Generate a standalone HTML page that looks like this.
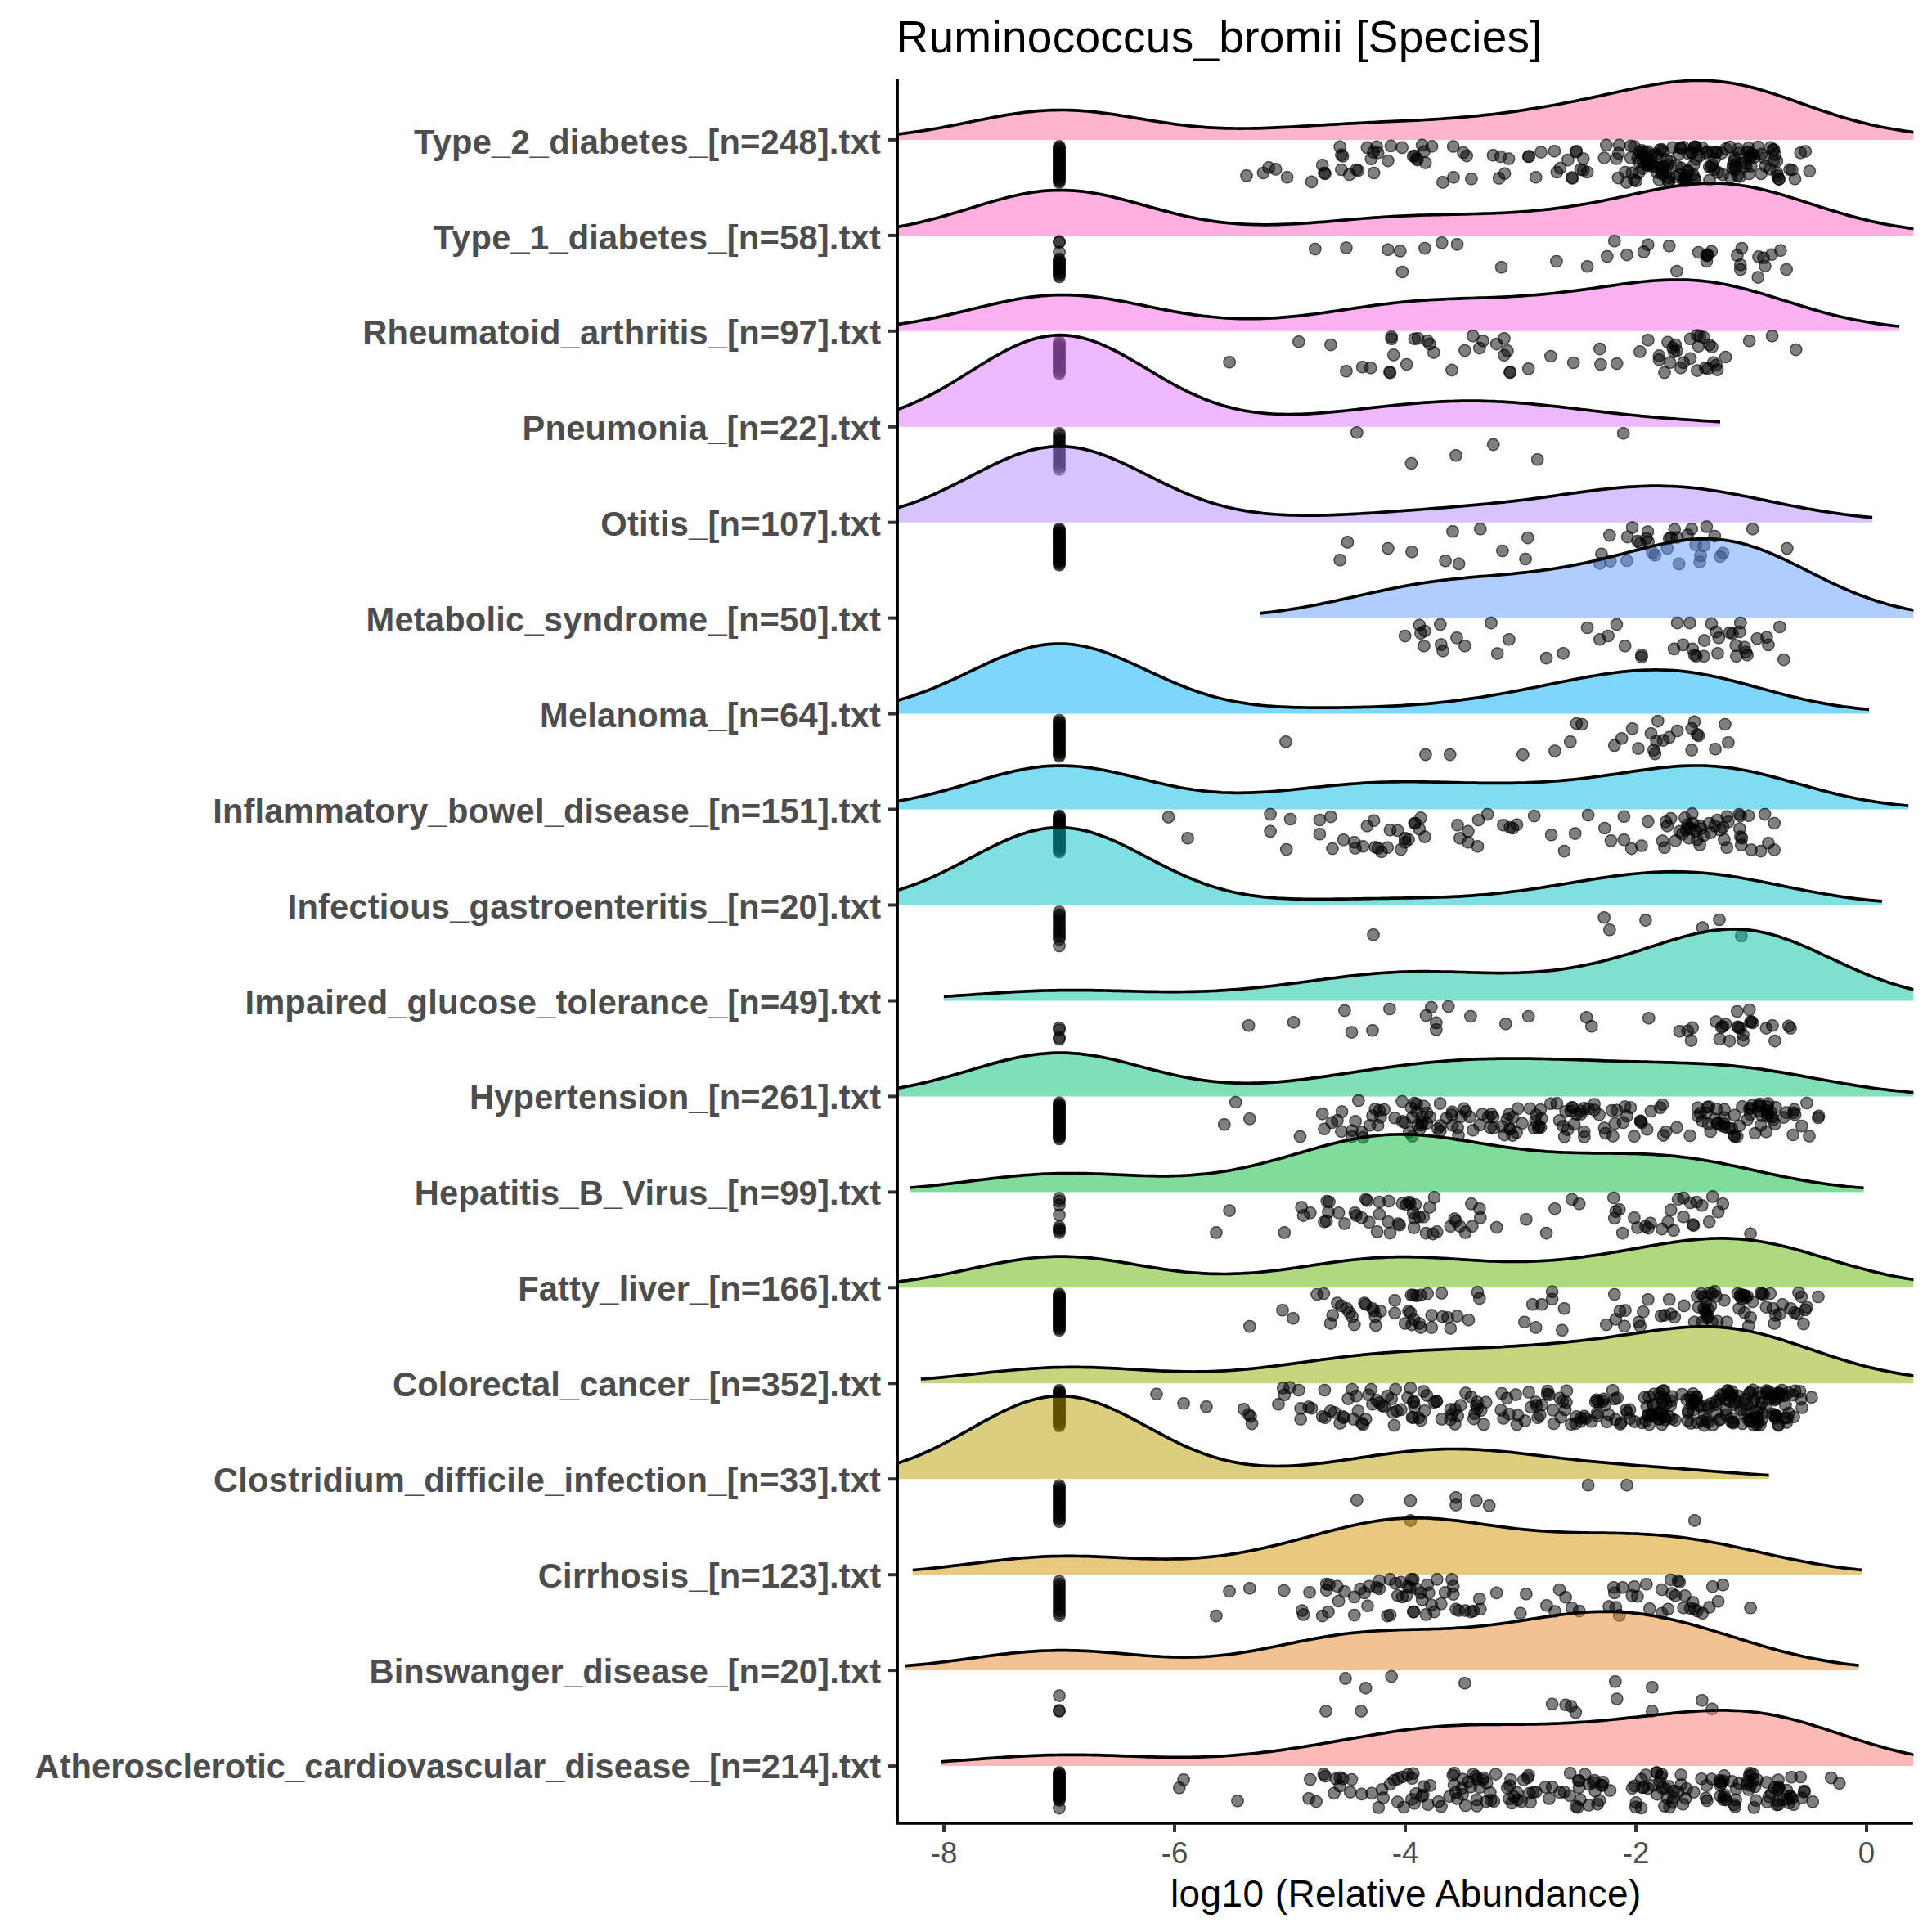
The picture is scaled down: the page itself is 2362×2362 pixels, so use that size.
<!DOCTYPE html>
<html lang="en"><head><meta charset="utf-8"><title>Ruminococcus_bromii [Species]</title>
<style>html,body{margin:0;padding:0;background:#fff}svg{display:block}text{font-family:"Liberation Sans",sans-serif}.yl{font-weight:bold;font-size:41.67px;fill:#4d4d4d;text-anchor:end}.xl{font-size:36.67px;fill:#4d4d4d;text-anchor:middle}.r{stroke:#000;stroke-width:3.7;fill:none;stroke-linejoin:round}.f{fill-opacity:.5}.t{stroke:#333;stroke-width:4}</style></head>
<body>
<svg width="2362" height="2362" viewBox="0 0 2362 2362">
<rect width="2362" height="2362" fill="#fff"/>
<defs><g id="p"><circle r="7.8" fill="#000" fill-opacity=".5"/><circle r="7.05" fill="none" stroke="#000" stroke-opacity=".45" stroke-width="1.5"/></g><clipPath id="cp"><rect x="1095.1" y="86.5" width="1244.3000000000002" height="2142.45"/></clipPath></defs>
<text x="1095.5" y="63.8" font-size="55" fill="#000" letter-spacing=".27">Ruminococcus_bromii [Species]</text>
<g clip-path="url(#cp)">
<polygon class="f" fill="#FF699C" points="1093.1,170.9 1093.1,164.5 1098.7,163.8 1104.3,163.2 1110,162.4 1115.6,161.7 1121.3,160.9 1126.9,160 1132.5,159.1 1138.2,158.2 1143.8,157.2 1149.5,156.2 1155.1,155.1 1160.7,154.1 1166.4,153 1172,151.9 1177.7,150.7 1183.3,149.6 1188.9,148.5 1194.6,147.3 1200.2,146.2 1205.9,145.1 1211.5,144 1217.1,142.9 1222.8,141.9 1228.4,140.9 1234.1,140 1239.7,139.1 1245.3,138.3 1251,137.5 1256.6,136.9 1262.3,136.3 1267.9,135.7 1273.5,135.3 1279.2,135 1284.8,134.7 1290.5,134.6 1296.1,134.5 1301.7,134.5 1307.4,134.7 1313,134.9 1318.7,135.2 1324.3,135.6 1329.9,136 1335.6,136.6 1341.2,137.2 1346.9,137.9 1352.5,138.6 1358.1,139.4 1363.8,140.2 1369.4,141.1 1375.1,142 1380.7,142.9 1386.3,143.9 1392,144.8 1397.6,145.7 1403.3,146.7 1408.9,147.6 1414.5,148.5 1420.2,149.4 1425.8,150.2 1431.5,151 1437.1,151.8 1442.7,152.5 1448.4,153.2 1454,153.8 1459.7,154.4 1465.3,154.9 1470.9,155.4 1476.6,155.8 1482.2,156.1 1487.9,156.4 1493.5,156.6 1499.1,156.8 1504.8,156.9 1510.4,157 1516.1,157.1 1521.7,157 1527.3,157 1533,156.9 1538.6,156.8 1544.3,156.6 1549.9,156.4 1555.5,156.2 1561.2,155.9 1566.8,155.7 1572.5,155.4 1578.1,155.1 1583.7,154.8 1589.4,154.4 1595,154.1 1600.7,153.8 1606.3,153.4 1611.9,153.1 1617.6,152.8 1623.2,152.4 1628.9,152.1 1634.5,151.8 1640.1,151.5 1645.8,151.2 1651.4,150.9 1657.1,150.6 1662.7,150.3 1668.3,150 1674,149.7 1679.6,149.5 1685.3,149.2 1690.9,148.9 1696.5,148.7 1702.2,148.4 1707.8,148.2 1713.5,147.9 1719.1,147.6 1724.7,147.3 1730.4,147.1 1736,146.8 1741.7,146.5 1747.3,146.2 1752.9,145.8 1758.6,145.5 1764.2,145.1 1769.9,144.7 1775.5,144.3 1781.1,143.9 1786.8,143.4 1792.4,142.9 1798.1,142.4 1803.7,141.9 1809.3,141.3 1815,140.7 1820.6,140.1 1826.3,139.5 1831.9,138.8 1837.5,138.1 1843.2,137.3 1848.8,136.6 1854.5,135.8 1860.1,135 1865.7,134.1 1871.4,133.2 1877,132.3 1882.7,131.4 1888.3,130.5 1893.9,129.5 1899.6,128.5 1905.2,127.5 1910.9,126.4 1916.5,125.3 1922.1,124.2 1927.8,123.1 1933.4,121.9 1939.1,120.8 1944.7,119.6 1950.3,118.4 1956,117.2 1961.6,115.9 1967.3,114.7 1972.9,113.5 1978.5,112.2 1984.2,111 1989.8,109.8 1995.5,108.6 2001.1,107.5 2006.7,106.3 2012.4,105.2 2018,104.2 2023.7,103.2 2029.3,102.3 2034.9,101.5 2040.6,100.7 2046.2,100 2051.9,99.5 2057.5,99 2063.1,98.6 2068.8,98.4 2074.4,98.3 2080.1,98.3 2085.7,98.4 2091.3,98.7 2097,99.1 2102.6,99.6 2108.3,100.3 2113.9,101.1 2119.5,102 2125.2,103.1 2130.8,104.3 2136.5,105.5 2142.1,106.9 2147.7,108.4 2153.4,110 2159,111.7 2164.7,113.5 2170.3,115.3 2175.9,117.2 2181.6,119.1 2187.2,121 2192.9,123 2198.5,125 2204.1,127 2209.8,129 2215.4,131 2221.1,132.9 2226.7,134.9 2232.3,136.7 2238,138.6 2243.6,140.4 2249.3,142.2 2254.9,143.9 2260.5,145.5 2266.2,147.1 2271.8,148.6 2277.5,150 2283.1,151.4 2288.7,152.7 2294.4,154 2300,155.2 2305.7,156.3 2311.3,157.3 2316.9,158.3 2322.6,159.2 2328.2,160.1 2333.9,160.9 2339.5,161.7 2340.1,161.8 2340.1,170.9"/><polyline class="r" points="1093.1,164.5 1098.7,163.8 1104.3,163.2 1110,162.4 1115.6,161.7 1121.3,160.9 1126.9,160 1132.5,159.1 1138.2,158.2 1143.8,157.2 1149.5,156.2 1155.1,155.1 1160.7,154.1 1166.4,153 1172,151.9 1177.7,150.7 1183.3,149.6 1188.9,148.5 1194.6,147.3 1200.2,146.2 1205.9,145.1 1211.5,144 1217.1,142.9 1222.8,141.9 1228.4,140.9 1234.1,140 1239.7,139.1 1245.3,138.3 1251,137.5 1256.6,136.9 1262.3,136.3 1267.9,135.7 1273.5,135.3 1279.2,135 1284.8,134.7 1290.5,134.6 1296.1,134.5 1301.7,134.5 1307.4,134.7 1313,134.9 1318.7,135.2 1324.3,135.6 1329.9,136 1335.6,136.6 1341.2,137.2 1346.9,137.9 1352.5,138.6 1358.1,139.4 1363.8,140.2 1369.4,141.1 1375.1,142 1380.7,142.9 1386.3,143.9 1392,144.8 1397.6,145.7 1403.3,146.7 1408.9,147.6 1414.5,148.5 1420.2,149.4 1425.8,150.2 1431.5,151 1437.1,151.8 1442.7,152.5 1448.4,153.2 1454,153.8 1459.7,154.4 1465.3,154.9 1470.9,155.4 1476.6,155.8 1482.2,156.1 1487.9,156.4 1493.5,156.6 1499.1,156.8 1504.8,156.9 1510.4,157 1516.1,157.1 1521.7,157 1527.3,157 1533,156.9 1538.6,156.8 1544.3,156.6 1549.9,156.4 1555.5,156.2 1561.2,155.9 1566.8,155.7 1572.5,155.4 1578.1,155.1 1583.7,154.8 1589.4,154.4 1595,154.1 1600.7,153.8 1606.3,153.4 1611.9,153.1 1617.6,152.8 1623.2,152.4 1628.9,152.1 1634.5,151.8 1640.1,151.5 1645.8,151.2 1651.4,150.9 1657.1,150.6 1662.7,150.3 1668.3,150 1674,149.7 1679.6,149.5 1685.3,149.2 1690.9,148.9 1696.5,148.7 1702.2,148.4 1707.8,148.2 1713.5,147.9 1719.1,147.6 1724.7,147.3 1730.4,147.1 1736,146.8 1741.7,146.5 1747.3,146.2 1752.9,145.8 1758.6,145.5 1764.2,145.1 1769.9,144.7 1775.5,144.3 1781.1,143.9 1786.8,143.4 1792.4,142.9 1798.1,142.4 1803.7,141.9 1809.3,141.3 1815,140.7 1820.6,140.1 1826.3,139.5 1831.9,138.8 1837.5,138.1 1843.2,137.3 1848.8,136.6 1854.5,135.8 1860.1,135 1865.7,134.1 1871.4,133.2 1877,132.3 1882.7,131.4 1888.3,130.5 1893.9,129.5 1899.6,128.5 1905.2,127.5 1910.9,126.4 1916.5,125.3 1922.1,124.2 1927.8,123.1 1933.4,121.9 1939.1,120.8 1944.7,119.6 1950.3,118.4 1956,117.2 1961.6,115.9 1967.3,114.7 1972.9,113.5 1978.5,112.2 1984.2,111 1989.8,109.8 1995.5,108.6 2001.1,107.5 2006.7,106.3 2012.4,105.2 2018,104.2 2023.7,103.2 2029.3,102.3 2034.9,101.5 2040.6,100.7 2046.2,100 2051.9,99.5 2057.5,99 2063.1,98.6 2068.8,98.4 2074.4,98.3 2080.1,98.3 2085.7,98.4 2091.3,98.7 2097,99.1 2102.6,99.6 2108.3,100.3 2113.9,101.1 2119.5,102 2125.2,103.1 2130.8,104.3 2136.5,105.5 2142.1,106.9 2147.7,108.4 2153.4,110 2159,111.7 2164.7,113.5 2170.3,115.3 2175.9,117.2 2181.6,119.1 2187.2,121 2192.9,123 2198.5,125 2204.1,127 2209.8,129 2215.4,131 2221.1,132.9 2226.7,134.9 2232.3,136.7 2238,138.6 2243.6,140.4 2249.3,142.2 2254.9,143.9 2260.5,145.5 2266.2,147.1 2271.8,148.6 2277.5,150 2283.1,151.4 2288.7,152.7 2294.4,154 2300,155.2 2305.7,156.3 2311.3,157.3 2316.9,158.3 2322.6,159.2 2328.2,160.1 2333.9,160.9 2339.5,161.7 2340.1,161.8"/>
<g><use href="#p" x="1295" y="178.9"/><use href="#p" x="1295" y="180.7"/><use href="#p" x="1295" y="182.4"/><use href="#p" x="1295" y="184.2"/><use href="#p" x="1295" y="185.9"/><use href="#p" x="1295" y="187.7"/><use href="#p" x="1295" y="189.5"/><use href="#p" x="1295" y="191.2"/><use href="#p" x="1295" y="193"/><use href="#p" x="1295" y="194.7"/><use href="#p" x="1295" y="196.5"/><use href="#p" x="1295" y="198.3"/><use href="#p" x="1295" y="200"/><use href="#p" x="1295" y="201.8"/><use href="#p" x="1295" y="203.5"/><use href="#p" x="1295" y="205.3"/><use href="#p" x="1295" y="207.1"/><use href="#p" x="1295" y="208.8"/><use href="#p" x="1295" y="210.6"/><use href="#p" x="1295" y="212.3"/><use href="#p" x="1295" y="214.1"/><use href="#p" x="1295" y="215.9"/><use href="#p" x="1295" y="217.6"/><use href="#p" x="1295" y="219.4"/><use href="#p" x="1295" y="221.1"/><use href="#p" x="1295" y="222.9"/><use href="#p" x="2071.8" y="179.3"/><use href="#p" x="2144.9" y="191.9"/><use href="#p" x="2063.2" y="187.3"/><use href="#p" x="2098.5" y="185.9"/><use href="#p" x="2019.4" y="197.7"/><use href="#p" x="2097.8" y="186.5"/><use href="#p" x="2096.2" y="194.3"/><use href="#p" x="2168.7" y="182.9"/><use href="#p" x="2172.4" y="196.8"/><use href="#p" x="2087.4" y="185.3"/><use href="#p" x="2125.9" y="187.2"/><use href="#p" x="2058.3" y="179.9"/><use href="#p" x="2058" y="221"/><use href="#p" x="2172.5" y="211.3"/><use href="#p" x="1997.8" y="219.8"/><use href="#p" x="2153.1" y="212.4"/><use href="#p" x="2029.2" y="183.2"/><use href="#p" x="2071.4" y="217.4"/><use href="#p" x="2100.7" y="210.9"/><use href="#p" x="2038.8" y="201.7"/><use href="#p" x="2124.2" y="214.8"/><use href="#p" x="2141.7" y="189"/><use href="#p" x="2153.5" y="188.3"/><use href="#p" x="2140.8" y="203"/><use href="#p" x="2030.5" y="204.5"/><use href="#p" x="2090" y="220.6"/><use href="#p" x="2004.6" y="186"/><use href="#p" x="2173.3" y="215.1"/><use href="#p" x="2024.1" y="188.9"/><use href="#p" x="2093.7" y="185.7"/><use href="#p" x="2055.2" y="181"/><use href="#p" x="2124.6" y="182.3"/><use href="#p" x="2175.3" y="218.9"/><use href="#p" x="2138.4" y="212.5"/><use href="#p" x="2063" y="208.4"/><use href="#p" x="2133.5" y="199.8"/><use href="#p" x="2008.2" y="206.1"/><use href="#p" x="2055.5" y="205.4"/><use href="#p" x="2072.5" y="220.3"/><use href="#p" x="2033.3" y="212.3"/><use href="#p" x="2122.3" y="203.1"/><use href="#p" x="2011.5" y="186.1"/><use href="#p" x="2170.4" y="188.9"/><use href="#p" x="2026.5" y="191.4"/><use href="#p" x="2093.4" y="201.5"/><use href="#p" x="1997.8" y="179"/><use href="#p" x="2086" y="186.9"/><use href="#p" x="2106" y="213.6"/><use href="#p" x="2014.3" y="200.9"/><use href="#p" x="2069.9" y="213.3"/><use href="#p" x="2168.2" y="197"/><use href="#p" x="2040.7" y="217.1"/><use href="#p" x="2002.1" y="193.3"/><use href="#p" x="2067.9" y="186.6"/><use href="#p" x="2118.9" y="201.4"/><use href="#p" x="2041.8" y="196.9"/><use href="#p" x="2121.1" y="193"/><use href="#p" x="2009.3" y="198.9"/><use href="#p" x="2032.1" y="205.9"/><use href="#p" x="2033.3" y="184.8"/><use href="#p" x="2157.3" y="193.3"/><use href="#p" x="2049.5" y="202.3"/><use href="#p" x="2121.3" y="208.1"/><use href="#p" x="2140.1" y="190.2"/><use href="#p" x="2073.6" y="194.7"/><use href="#p" x="2089.7" y="203.9"/><use href="#p" x="2109.9" y="181.9"/><use href="#p" x="2063.7" y="209.7"/><use href="#p" x="2003.5" y="211.4"/><use href="#p" x="2120" y="196.4"/><use href="#p" x="2077.6" y="190.4"/><use href="#p" x="2129.2" y="199.8"/><use href="#p" x="2044.7" y="180.2"/><use href="#p" x="2059" y="219"/><use href="#p" x="2118.3" y="206.1"/><use href="#p" x="2164.4" y="180.2"/><use href="#p" x="2105.1" y="187.1"/><use href="#p" x="2068.3" y="186.8"/><use href="#p" x="2059.7" y="218.1"/><use href="#p" x="2127.1" y="215.7"/><use href="#p" x="2010.7" y="192"/><use href="#p" x="2137.6" y="180.7"/><use href="#p" x="2031.2" y="182.5"/><use href="#p" x="2143.6" y="189"/><use href="#p" x="2073.2" y="179.5"/><use href="#p" x="2017.5" y="201.3"/><use href="#p" x="2138.9" y="193.7"/><use href="#p" x="2054.4" y="180.7"/><use href="#p" x="2015" y="185.4"/><use href="#p" x="2034.1" y="203.7"/><use href="#p" x="2061.4" y="221.4"/><use href="#p" x="2048.1" y="216.1"/><use href="#p" x="2013.6" y="201.9"/><use href="#p" x="2095.6" y="207.5"/><use href="#p" x="2070.6" y="201.7"/><use href="#p" x="2136.5" y="185.5"/><use href="#p" x="2092.4" y="204.5"/><use href="#p" x="2137.2" y="186"/><use href="#p" x="2071.4" y="180"/><use href="#p" x="2115.8" y="216.7"/><use href="#p" x="2060.5" y="214.4"/><use href="#p" x="2115" y="179.6"/><use href="#p" x="2081.4" y="180.9"/><use href="#p" x="2053.3" y="213.7"/><use href="#p" x="2019.6" y="203.5"/><use href="#p" x="2007.3" y="183.7"/><use href="#p" x="2167.7" y="183.1"/><use href="#p" x="2028.4" y="219.8"/><use href="#p" x="2052.5" y="188.3"/><use href="#p" x="2014.5" y="200.6"/><use href="#p" x="2007.7" y="188.5"/><use href="#p" x="2037" y="211.3"/><use href="#p" x="2026.2" y="204.5"/><use href="#p" x="2040.5" y="222.1"/><use href="#p" x="2174.6" y="219.1"/><use href="#p" x="2158.4" y="203"/><use href="#p" x="2163.9" y="206.7"/><use href="#p" x="2025.7" y="210.8"/><use href="#p" x="2149.3" y="179.5"/><use href="#p" x="2032.1" y="213"/><use href="#p" x="2134.7" y="203.3"/><use href="#p" x="2019.1" y="190.4"/><use href="#p" x="2039.4" y="221.6"/><use href="#p" x="2037.5" y="195"/><use href="#p" x="2190.8" y="207.7"/><use href="#p" x="2188.1" y="207.2"/><use href="#p" x="2194.5" y="218.7"/><use href="#p" x="1524" y="214.8"/><use href="#p" x="1544.5" y="211.5"/><use href="#p" x="1551.1" y="204.9"/><use href="#p" x="1559.7" y="206.9"/><use href="#p" x="1573.6" y="216.8"/><use href="#p" x="1603.5" y="222.4"/><use href="#p" x="1616.7" y="201.9"/><use href="#p" x="1619" y="211.5"/><use href="#p" x="1620" y="212.5"/><use href="#p" x="1638.2" y="179.4"/><use href="#p" x="1639.9" y="189.3"/><use href="#p" x="1641.6" y="191"/><use href="#p" x="1639.9" y="207.5"/><use href="#p" x="1649.8" y="213.5"/><use href="#p" x="1658.1" y="207.5"/><use href="#p" x="1660.4" y="208.5"/><use href="#p" x="1671.4" y="180.4"/><use href="#p" x="1676.3" y="194.3"/><use href="#p" x="1679" y="186"/><use href="#p" x="1679.6" y="211.5"/><use href="#p" x="1683" y="179.4"/><use href="#p" x="1684.6" y="186.7"/><use href="#p" x="1696.9" y="196.6"/><use href="#p" x="1700.5" y="178.4"/><use href="#p" x="1714.1" y="180.4"/><use href="#p" x="1727.7" y="191"/><use href="#p" x="2201.3" y="186.7"/><use href="#p" x="2207.3" y="185"/><use href="#p" x="2212.3" y="209.2"/><use href="#p" x="1738.6" y="177.4"/><use href="#p" x="1750.5" y="178.7"/><use href="#p" x="1741" y="185.2"/><use href="#p" x="1729.5" y="190.6"/><use href="#p" x="1731.9" y="194"/><use href="#p" x="1732.8" y="195.6"/><use href="#p" x="1742.7" y="198.9"/><use href="#p" x="1776.7" y="179"/><use href="#p" x="1789.1" y="186.5"/><use href="#p" x="1793.2" y="190.6"/><use href="#p" x="1763.9" y="222.9"/><use href="#p" x="1777" y="216.8"/><use href="#p" x="1798.9" y="218.8"/><use href="#p" x="1825.5" y="189.8"/><use href="#p" x="1834.6" y="191.5"/><use href="#p" x="1844.6" y="194"/><use href="#p" x="1839.6" y="212.2"/><use href="#p" x="1832.6" y="218"/><use href="#p" x="1868.6" y="191.5"/><use href="#p" x="1869.4" y="191"/><use href="#p" x="1884" y="186"/><use href="#p" x="1900.4" y="184.8"/><use href="#p" x="1877.7" y="216.8"/><use href="#p" x="1927.4" y="184.8"/><use href="#p" x="1926.6" y="185.7"/><use href="#p" x="1916.9" y="195.6"/><use href="#p" x="1935.7" y="194"/><use href="#p" x="1907.5" y="205.5"/><use href="#p" x="1903.4" y="210.5"/><use href="#p" x="1921.6" y="217.1"/><use href="#p" x="1922.4" y="218"/><use href="#p" x="1932.4" y="207.2"/><use href="#p" x="1935.7" y="208"/><use href="#p" x="1940.6" y="210.5"/><use href="#p" x="1963.8" y="177.4"/><use href="#p" x="1979.6" y="177.4"/><use href="#p" x="1993.6" y="178.2"/><use href="#p" x="1961.3" y="193.1"/><use href="#p" x="1976.2" y="194"/><use href="#p" x="1978.7" y="187.3"/><use href="#p" x="1993.6" y="193.1"/><use href="#p" x="1978.4" y="217.6"/><use href="#p" x="1987" y="210.5"/><use href="#p" x="1988.7" y="222.9"/><use href="#p" x="1995.3" y="211.3"/><use href="#p" x="2000.3" y="221.3"/><use href="#p" x="2003.6" y="198.1"/></g>
<polygon class="f" fill="#FF61C3" points="1093.1,287.9 1093.1,278.1 1098.7,277.1 1104.3,276.1 1110,275 1115.6,273.8 1121.3,272.6 1126.9,271.3 1132.5,269.9 1138.2,268.5 1143.8,267 1149.5,265.5 1155.1,263.9 1160.7,262.3 1166.4,260.6 1172,258.9 1177.7,257.2 1183.3,255.5 1188.9,253.7 1194.6,252 1200.2,250.3 1205.9,248.6 1211.5,246.9 1217.1,245.3 1222.8,243.7 1228.4,242.2 1234.1,240.8 1239.7,239.5 1245.3,238.2 1251,237.1 1256.6,236.1 1262.3,235.2 1267.9,234.4 1273.5,233.7 1279.2,233.2 1284.8,232.8 1290.5,232.6 1296.1,232.5 1301.7,232.6 1307.4,232.8 1313,233.1 1318.7,233.6 1324.3,234.2 1329.9,235 1335.6,235.8 1341.2,236.8 1346.9,237.9 1352.5,239 1358.1,240.3 1363.8,241.7 1369.4,243.1 1375.1,244.5 1380.7,246 1386.3,247.6 1392,249.1 1397.6,250.7 1403.3,252.3 1408.9,253.9 1414.5,255.4 1420.2,256.9 1425.8,258.4 1431.5,259.9 1437.1,261.3 1442.7,262.7 1448.4,264 1454,265.2 1459.7,266.4 1465.3,267.5 1470.9,268.5 1476.6,269.4 1482.2,270.3 1487.9,271.1 1493.5,271.8 1499.1,272.4 1504.8,273 1510.4,273.5 1516.1,273.9 1521.7,274.2 1527.3,274.4 1533,274.6 1538.6,274.7 1544.3,274.8 1549.9,274.8 1555.5,274.7 1561.2,274.6 1566.8,274.4 1572.5,274.2 1578.1,274 1583.7,273.7 1589.4,273.3 1595,273 1600.7,272.6 1606.3,272.1 1611.9,271.7 1617.6,271.3 1623.2,270.8 1628.9,270.3 1634.5,269.8 1640.1,269.3 1645.8,268.9 1651.4,268.4 1657.1,267.9 1662.7,267.5 1668.3,267 1674,266.6 1679.6,266.2 1685.3,265.8 1690.9,265.4 1696.5,265.1 1702.2,264.7 1707.8,264.4 1713.5,264.1 1719.1,263.9 1724.7,263.6 1730.4,263.4 1736,263.2 1741.7,263 1747.3,262.9 1752.9,262.7 1758.6,262.6 1764.2,262.4 1769.9,262.3 1775.5,262.2 1781.1,262.1 1786.8,261.9 1792.4,261.8 1798.1,261.7 1803.7,261.5 1809.3,261.4 1815,261.2 1820.6,261 1826.3,260.8 1831.9,260.5 1837.5,260.3 1843.2,260 1848.8,259.6 1854.5,259.3 1860.1,258.9 1865.7,258.5 1871.4,258 1877,257.5 1882.7,257 1888.3,256.4 1893.9,255.8 1899.6,255.1 1905.2,254.4 1910.9,253.6 1916.5,252.9 1922.1,252 1927.8,251.1 1933.4,250.2 1939.1,249.2 1944.7,248.2 1950.3,247.2 1956,246.1 1961.6,245 1967.3,243.8 1972.9,242.7 1978.5,241.5 1984.2,240.3 1989.8,239.1 1995.5,237.8 2001.1,236.6 2006.7,235.4 2012.4,234.2 2018,233 2023.7,231.9 2029.3,230.8 2034.9,229.8 2040.6,228.8 2046.2,227.9 2051.9,227.1 2057.5,226.3 2063.1,225.7 2068.8,225.1 2074.4,224.7 2080.1,224.3 2085.7,224.1 2091.3,224 2097,224.1 2102.6,224.2 2108.3,224.5 2113.9,225 2119.5,225.5 2125.2,226.2 2130.8,227 2136.5,227.9 2142.1,229 2147.7,230.1 2153.4,231.4 2159,232.8 2164.7,234.2 2170.3,235.7 2175.9,237.3 2181.6,239 2187.2,240.7 2192.9,242.5 2198.5,244.3 2204.1,246.1 2209.8,247.9 2215.4,249.7 2221.1,251.5 2226.7,253.4 2232.3,255.1 2238,256.9 2243.6,258.6 2249.3,260.3 2254.9,262 2260.5,263.6 2266.2,265.1 2271.8,266.6 2277.5,268 2283.1,269.4 2288.7,270.7 2294.4,271.9 2300,273.1 2305.7,274.2 2311.3,275.2 2316.9,276.2 2322.6,277.1 2328.2,278 2333.9,278.8 2339.5,279.5 2340.1,279.6 2340.1,287.9"/><polyline class="r" points="1093.1,278.1 1098.7,277.1 1104.3,276.1 1110,275 1115.6,273.8 1121.3,272.6 1126.9,271.3 1132.5,269.9 1138.2,268.5 1143.8,267 1149.5,265.5 1155.1,263.9 1160.7,262.3 1166.4,260.6 1172,258.9 1177.7,257.2 1183.3,255.5 1188.9,253.7 1194.6,252 1200.2,250.3 1205.9,248.6 1211.5,246.9 1217.1,245.3 1222.8,243.7 1228.4,242.2 1234.1,240.8 1239.7,239.5 1245.3,238.2 1251,237.1 1256.6,236.1 1262.3,235.2 1267.9,234.4 1273.5,233.7 1279.2,233.2 1284.8,232.8 1290.5,232.6 1296.1,232.5 1301.7,232.6 1307.4,232.8 1313,233.1 1318.7,233.6 1324.3,234.2 1329.9,235 1335.6,235.8 1341.2,236.8 1346.9,237.9 1352.5,239 1358.1,240.3 1363.8,241.7 1369.4,243.1 1375.1,244.5 1380.7,246 1386.3,247.6 1392,249.1 1397.6,250.7 1403.3,252.3 1408.9,253.9 1414.5,255.4 1420.2,256.9 1425.8,258.4 1431.5,259.9 1437.1,261.3 1442.7,262.7 1448.4,264 1454,265.2 1459.7,266.4 1465.3,267.5 1470.9,268.5 1476.6,269.4 1482.2,270.3 1487.9,271.1 1493.5,271.8 1499.1,272.4 1504.8,273 1510.4,273.5 1516.1,273.9 1521.7,274.2 1527.3,274.4 1533,274.6 1538.6,274.7 1544.3,274.8 1549.9,274.8 1555.5,274.7 1561.2,274.6 1566.8,274.4 1572.5,274.2 1578.1,274 1583.7,273.7 1589.4,273.3 1595,273 1600.7,272.6 1606.3,272.1 1611.9,271.7 1617.6,271.3 1623.2,270.8 1628.9,270.3 1634.5,269.8 1640.1,269.3 1645.8,268.9 1651.4,268.4 1657.1,267.9 1662.7,267.5 1668.3,267 1674,266.6 1679.6,266.2 1685.3,265.8 1690.9,265.4 1696.5,265.1 1702.2,264.7 1707.8,264.4 1713.5,264.1 1719.1,263.9 1724.7,263.6 1730.4,263.4 1736,263.2 1741.7,263 1747.3,262.9 1752.9,262.7 1758.6,262.6 1764.2,262.4 1769.9,262.3 1775.5,262.2 1781.1,262.1 1786.8,261.9 1792.4,261.8 1798.1,261.7 1803.7,261.5 1809.3,261.4 1815,261.2 1820.6,261 1826.3,260.8 1831.9,260.5 1837.5,260.3 1843.2,260 1848.8,259.6 1854.5,259.3 1860.1,258.9 1865.7,258.5 1871.4,258 1877,257.5 1882.7,257 1888.3,256.4 1893.9,255.8 1899.6,255.1 1905.2,254.4 1910.9,253.6 1916.5,252.9 1922.1,252 1927.8,251.1 1933.4,250.2 1939.1,249.2 1944.7,248.2 1950.3,247.2 1956,246.1 1961.6,245 1967.3,243.8 1972.9,242.7 1978.5,241.5 1984.2,240.3 1989.8,239.1 1995.5,237.8 2001.1,236.6 2006.7,235.4 2012.4,234.2 2018,233 2023.7,231.9 2029.3,230.8 2034.9,229.8 2040.6,228.8 2046.2,227.9 2051.9,227.1 2057.5,226.3 2063.1,225.7 2068.8,225.1 2074.4,224.7 2080.1,224.3 2085.7,224.1 2091.3,224 2097,224.1 2102.6,224.2 2108.3,224.5 2113.9,225 2119.5,225.5 2125.2,226.2 2130.8,227 2136.5,227.9 2142.1,229 2147.7,230.1 2153.4,231.4 2159,232.8 2164.7,234.2 2170.3,235.7 2175.9,237.3 2181.6,239 2187.2,240.7 2192.9,242.5 2198.5,244.3 2204.1,246.1 2209.8,247.9 2215.4,249.7 2221.1,251.5 2226.7,253.4 2232.3,255.1 2238,256.9 2243.6,258.6 2249.3,260.3 2254.9,262 2260.5,263.6 2266.2,265.1 2271.8,266.6 2277.5,268 2283.1,269.4 2288.7,270.7 2294.4,271.9 2300,273.1 2305.7,274.2 2311.3,275.2 2316.9,276.2 2322.6,277.1 2328.2,278 2333.9,278.8 2339.5,279.5 2340.1,279.6"/>
<g><use href="#p" x="1295" y="295.4"/><use href="#p" x="1295" y="296.2"/><use href="#p" x="1295" y="308.4"/><use href="#p" x="1295" y="316.9"/><use href="#p" x="1295" y="318.8"/><use href="#p" x="1295" y="320.8"/><use href="#p" x="1295" y="322.7"/><use href="#p" x="1295" y="324.7"/><use href="#p" x="1295" y="326.6"/><use href="#p" x="1295" y="328.6"/><use href="#p" x="1295" y="330.5"/><use href="#p" x="1295" y="332.5"/><use href="#p" x="1295" y="334.4"/><use href="#p" x="1295" y="336.4"/><use href="#p" x="1295" y="338.4"/><use href="#p" x="1607.8" y="304.6"/><use href="#p" x="1645.9" y="303"/><use href="#p" x="1696.9" y="305.3"/><use href="#p" x="1711.8" y="306.9"/><use href="#p" x="1714.4" y="332.5"/><use href="#p" x="1741.9" y="303.6"/><use href="#p" x="1762.7" y="296.7"/><use href="#p" x="1781.6" y="298.7"/><use href="#p" x="1835.6" y="326.8"/><use href="#p" x="1902.9" y="319.5"/><use href="#p" x="1940.6" y="325.8"/><use href="#p" x="1964.8" y="313.6"/><use href="#p" x="1973.8" y="294.7"/><use href="#p" x="1989" y="311.6"/><use href="#p" x="2009.5" y="307.9"/><use href="#p" x="2014.8" y="299.3"/><use href="#p" x="2040.7" y="300.7"/><use href="#p" x="2050" y="331.5"/><use href="#p" x="2076.5" y="308.6"/><use href="#p" x="2086.4" y="311.9"/><use href="#p" x="2088" y="311.3"/><use href="#p" x="2087.1" y="312.6"/><use href="#p" x="2092.4" y="307.3"/><use href="#p" x="2086.4" y="319.5"/><use href="#p" x="2123.8" y="312.2"/><use href="#p" x="2129.5" y="303.6"/><use href="#p" x="2127.8" y="323.8"/><use href="#p" x="2127.8" y="329.5"/><use href="#p" x="2150" y="313.9"/><use href="#p" x="2149.3" y="339.1"/><use href="#p" x="2156" y="315.2"/><use href="#p" x="2157.9" y="325.2"/><use href="#p" x="2165.9" y="311.3"/><use href="#p" x="2176.8" y="306.3"/><use href="#p" x="2184.1" y="329.5"/></g>
<polygon class="f" fill="#F564E3" points="1093.1,404.8 1093.1,397.1 1098.7,396.3 1104.3,395.5 1110,394.7 1115.6,393.7 1121.3,392.8 1126.9,391.7 1132.5,390.6 1138.2,389.5 1143.8,388.4 1149.5,387.1 1155.1,385.9 1160.7,384.6 1166.4,383.3 1172,381.9 1177.7,380.6 1183.3,379.2 1188.9,377.8 1194.6,376.5 1200.2,375.1 1205.9,373.7 1211.5,372.4 1217.1,371.1 1222.8,369.9 1228.4,368.7 1234.1,367.5 1239.7,366.5 1245.3,365.4 1251,364.5 1256.6,363.7 1262.3,362.9 1267.9,362.3 1273.5,361.7 1279.2,361.3 1284.8,360.9 1290.5,360.7 1296.1,360.6 1301.7,360.6 1307.4,360.7 1313,360.9 1318.7,361.2 1324.3,361.6 1329.9,362.1 1335.6,362.7 1341.2,363.4 1346.9,364.1 1352.5,365 1358.1,365.9 1363.8,366.9 1369.4,367.9 1375.1,368.9 1380.7,370 1386.3,371.2 1392,372.3 1397.6,373.4 1403.3,374.6 1408.9,375.7 1414.5,376.9 1420.2,378 1425.8,379.1 1431.5,380.1 1437.1,381.2 1442.7,382.1 1448.4,383.1 1454,383.9 1459.7,384.8 1465.3,385.5 1470.9,386.3 1476.6,386.9 1482.2,387.5 1487.9,388 1493.5,388.5 1499.1,388.8 1504.8,389.1 1510.4,389.4 1516.1,389.6 1521.7,389.7 1527.3,389.7 1533,389.7 1538.6,389.6 1544.3,389.4 1549.9,389.2 1555.5,388.9 1561.2,388.6 1566.8,388.2 1572.5,387.7 1578.1,387.2 1583.7,386.7 1589.4,386.1 1595,385.4 1600.7,384.7 1606.3,384 1611.9,383.2 1617.6,382.5 1623.2,381.7 1628.9,380.8 1634.5,380 1640.1,379.2 1645.8,378.3 1651.4,377.5 1657.1,376.6 1662.7,375.8 1668.3,375 1674,374.2 1679.6,373.4 1685.3,372.7 1690.9,372 1696.5,371.3 1702.2,370.6 1707.8,370 1713.5,369.4 1719.1,368.9 1724.7,368.4 1730.4,367.9 1736,367.5 1741.7,367.1 1747.3,366.7 1752.9,366.4 1758.6,366.1 1764.2,365.8 1769.9,365.5 1775.5,365.3 1781.1,365.1 1786.8,364.9 1792.4,364.7 1798.1,364.5 1803.7,364.4 1809.3,364.2 1815,364 1820.6,363.8 1826.3,363.6 1831.9,363.3 1837.5,363.1 1843.2,362.8 1848.8,362.5 1854.5,362.2 1860.1,361.8 1865.7,361.4 1871.4,361 1877,360.6 1882.7,360.1 1888.3,359.6 1893.9,359 1899.6,358.5 1905.2,357.8 1910.9,357.2 1916.5,356.5 1922.1,355.8 1927.8,355.1 1933.4,354.3 1939.1,353.6 1944.7,352.8 1950.3,352 1956,351.2 1961.6,350.4 1967.3,349.6 1972.9,348.8 1978.5,348 1984.2,347.2 1989.8,346.5 1995.5,345.8 2001.1,345.1 2006.7,344.5 2012.4,344 2018,343.4 2023.7,343 2029.3,342.6 2034.9,342.3 2040.6,342.1 2046.2,342 2051.9,342 2057.5,342.1 2063.1,342.2 2068.8,342.5 2074.4,342.9 2080.1,343.4 2085.7,344 2091.3,344.7 2097,345.6 2102.6,346.5 2108.3,347.5 2113.9,348.6 2119.5,349.9 2125.2,351.2 2130.8,352.6 2136.5,354 2142.1,355.6 2147.7,357.2 2153.4,358.8 2159,360.5 2164.7,362.2 2170.3,364 2175.9,365.7 2181.6,367.5 2187.2,369.3 2192.9,371.1 2198.5,372.8 2204.1,374.6 2209.8,376.3 2215.4,377.9 2221.1,379.6 2226.7,381.2 2232.3,382.7 2238,384.2 2243.6,385.6 2249.3,387 2254.9,388.3 2260.5,389.5 2266.2,390.7 2271.8,391.8 2277.5,392.8 2283.1,393.8 2288.7,394.7 2294.4,395.6 2300,396.4 2305.7,397.2 2311.3,397.8 2316.9,398.5 2322.2,399 2322.2,404.8"/><polyline class="r" points="1093.1,397.1 1098.7,396.3 1104.3,395.5 1110,394.7 1115.6,393.7 1121.3,392.8 1126.9,391.7 1132.5,390.6 1138.2,389.5 1143.8,388.4 1149.5,387.1 1155.1,385.9 1160.7,384.6 1166.4,383.3 1172,381.9 1177.7,380.6 1183.3,379.2 1188.9,377.8 1194.6,376.5 1200.2,375.1 1205.9,373.7 1211.5,372.4 1217.1,371.1 1222.8,369.9 1228.4,368.7 1234.1,367.5 1239.7,366.5 1245.3,365.4 1251,364.5 1256.6,363.7 1262.3,362.9 1267.9,362.3 1273.5,361.7 1279.2,361.3 1284.8,360.9 1290.5,360.7 1296.1,360.6 1301.7,360.6 1307.4,360.7 1313,360.9 1318.7,361.2 1324.3,361.6 1329.9,362.1 1335.6,362.7 1341.2,363.4 1346.9,364.1 1352.5,365 1358.1,365.9 1363.8,366.9 1369.4,367.9 1375.1,368.9 1380.7,370 1386.3,371.2 1392,372.3 1397.6,373.4 1403.3,374.6 1408.9,375.7 1414.5,376.9 1420.2,378 1425.8,379.1 1431.5,380.1 1437.1,381.2 1442.7,382.1 1448.4,383.1 1454,383.9 1459.7,384.8 1465.3,385.5 1470.9,386.3 1476.6,386.9 1482.2,387.5 1487.9,388 1493.5,388.5 1499.1,388.8 1504.8,389.1 1510.4,389.4 1516.1,389.6 1521.7,389.7 1527.3,389.7 1533,389.7 1538.6,389.6 1544.3,389.4 1549.9,389.2 1555.5,388.9 1561.2,388.6 1566.8,388.2 1572.5,387.7 1578.1,387.2 1583.7,386.7 1589.4,386.1 1595,385.4 1600.7,384.7 1606.3,384 1611.9,383.2 1617.6,382.5 1623.2,381.7 1628.9,380.8 1634.5,380 1640.1,379.2 1645.8,378.3 1651.4,377.5 1657.1,376.6 1662.7,375.8 1668.3,375 1674,374.2 1679.6,373.4 1685.3,372.7 1690.9,372 1696.5,371.3 1702.2,370.6 1707.8,370 1713.5,369.4 1719.1,368.9 1724.7,368.4 1730.4,367.9 1736,367.5 1741.7,367.1 1747.3,366.7 1752.9,366.4 1758.6,366.1 1764.2,365.8 1769.9,365.5 1775.5,365.3 1781.1,365.1 1786.8,364.9 1792.4,364.7 1798.1,364.5 1803.7,364.4 1809.3,364.2 1815,364 1820.6,363.8 1826.3,363.6 1831.9,363.3 1837.5,363.1 1843.2,362.8 1848.8,362.5 1854.5,362.2 1860.1,361.8 1865.7,361.4 1871.4,361 1877,360.6 1882.7,360.1 1888.3,359.6 1893.9,359 1899.6,358.5 1905.2,357.8 1910.9,357.2 1916.5,356.5 1922.1,355.8 1927.8,355.1 1933.4,354.3 1939.1,353.6 1944.7,352.8 1950.3,352 1956,351.2 1961.6,350.4 1967.3,349.6 1972.9,348.8 1978.5,348 1984.2,347.2 1989.8,346.5 1995.5,345.8 2001.1,345.1 2006.7,344.5 2012.4,344 2018,343.4 2023.7,343 2029.3,342.6 2034.9,342.3 2040.6,342.1 2046.2,342 2051.9,342 2057.5,342.1 2063.1,342.2 2068.8,342.5 2074.4,342.9 2080.1,343.4 2085.7,344 2091.3,344.7 2097,345.6 2102.6,346.5 2108.3,347.5 2113.9,348.6 2119.5,349.9 2125.2,351.2 2130.8,352.6 2136.5,354 2142.1,355.6 2147.7,357.2 2153.4,358.8 2159,360.5 2164.7,362.2 2170.3,364 2175.9,365.7 2181.6,367.5 2187.2,369.3 2192.9,371.1 2198.5,372.8 2204.1,374.6 2209.8,376.3 2215.4,377.9 2221.1,379.6 2226.7,381.2 2232.3,382.7 2238,384.2 2243.6,385.6 2249.3,387 2254.9,388.3 2260.5,389.5 2266.2,390.7 2271.8,391.8 2277.5,392.8 2283.1,393.8 2288.7,394.7 2294.4,395.6 2300,396.4 2305.7,397.2 2311.3,397.8 2316.9,398.5 2322.2,399"/>
<g><use href="#p" x="1295" y="418.3"/><use href="#p" x="1295" y="420.3"/><use href="#p" x="1295" y="422.4"/><use href="#p" x="1295" y="424.4"/><use href="#p" x="1295" y="426.4"/><use href="#p" x="1295" y="428.4"/><use href="#p" x="1295" y="430.5"/><use href="#p" x="1295" y="432.5"/><use href="#p" x="1295" y="434.5"/><use href="#p" x="1295" y="436.5"/><use href="#p" x="1295" y="438.6"/><use href="#p" x="1295" y="440.6"/><use href="#p" x="1295" y="442.6"/><use href="#p" x="1295" y="444.6"/><use href="#p" x="1295" y="446.7"/><use href="#p" x="1295" y="448.7"/><use href="#p" x="1295" y="450.7"/><use href="#p" x="1295" y="452.7"/><use href="#p" x="1295" y="454.8"/><use href="#p" x="1295" y="456.8"/><use href="#p" x="1503.1" y="442.8"/><use href="#p" x="1587.9" y="417.7"/><use href="#p" x="1627" y="421.6"/><use href="#p" x="1645.9" y="453.8"/><use href="#p" x="1665.7" y="448.8"/><use href="#p" x="1675.7" y="449.8"/><use href="#p" x="1701.2" y="411.7"/><use href="#p" x="1701.2" y="414.3"/><use href="#p" x="1703.8" y="433.9"/><use href="#p" x="1699.5" y="455.7"/><use href="#p" x="1698.9" y="454.8"/><use href="#p" x="1719.7" y="445.5"/><use href="#p" x="1729.3" y="414.3"/><use href="#p" x="1733.6" y="413.7"/><use href="#p" x="1745.2" y="416.7"/><use href="#p" x="1747.8" y="420.6"/><use href="#p" x="1752.8" y="430.9"/><use href="#p" x="1775" y="452.4"/><use href="#p" x="1790.9" y="428.6"/><use href="#p" x="1800.8" y="410.7"/><use href="#p" x="1808.8" y="425.6"/><use href="#p" x="1813.1" y="416.7"/><use href="#p" x="1829.7" y="420.6"/><use href="#p" x="1838.9" y="413.7"/><use href="#p" x="1842.9" y="428.9"/><use href="#p" x="1838.9" y="434.2"/><use href="#p" x="1846.2" y="455.4"/><use href="#p" x="1846.2" y="454.8"/><use href="#p" x="1868.7" y="450.8"/><use href="#p" x="1895.9" y="435.5"/><use href="#p" x="1923.7" y="443.5"/><use href="#p" x="1955.9" y="426.6"/><use href="#p" x="1956.9" y="445.5"/><use href="#p" x="1976.7" y="444.5"/><use href="#p" x="2004.9" y="429.9"/><use href="#p" x="2014.8" y="415.7"/><use href="#p" x="2028.4" y="434.9"/><use href="#p" x="2028.4" y="439.8"/><use href="#p" x="2035" y="455.4"/><use href="#p" x="2039" y="418.3"/><use href="#p" x="2045" y="424.9"/><use href="#p" x="2048.3" y="421.6"/><use href="#p" x="2046.6" y="429.9"/><use href="#p" x="2050" y="428.9"/><use href="#p" x="2041.7" y="443.2"/><use href="#p" x="2054.9" y="449.8"/><use href="#p" x="2058.2" y="443.2"/><use href="#p" x="2066.5" y="438.2"/><use href="#p" x="2066.5" y="414.3"/><use href="#p" x="2074.8" y="410"/><use href="#p" x="2078.1" y="411"/><use href="#p" x="2083.1" y="412.4"/><use href="#p" x="2076.5" y="423.3"/><use href="#p" x="2089.7" y="421.6"/><use href="#p" x="2093" y="424.3"/><use href="#p" x="2074.8" y="453.1"/><use href="#p" x="2084.7" y="449.8"/><use href="#p" x="2088" y="450.8"/><use href="#p" x="2094.7" y="443.2"/><use href="#p" x="2098" y="446.5"/><use href="#p" x="2099.6" y="452.1"/><use href="#p" x="2109.6" y="436.5"/><use href="#p" x="2138.7" y="416.7"/><use href="#p" x="2166.6" y="410.7"/><use href="#p" x="2195.7" y="427.6"/></g>
<polygon class="f" fill="#DB72FB" points="1093.1,521.8 1093.1,502 1098.7,500 1104.3,497.9 1110,495.7 1115.6,493.3 1121.3,490.8 1126.9,488.1 1132.5,485.4 1138.2,482.5 1143.8,479.5 1149.5,476.3 1155.1,473.1 1160.7,469.8 1166.4,466.5 1172,463 1177.7,459.5 1183.3,456 1188.9,452.5 1194.6,449 1200.2,445.5 1205.9,442.1 1211.5,438.7 1217.1,435.4 1222.8,432.3 1228.4,429.2 1234.1,426.4 1239.7,423.7 1245.3,421.1 1251,418.8 1256.6,416.8 1262.3,414.9 1267.9,413.4 1273.5,412.1 1279.2,411.1 1284.8,410.3 1290.5,409.9 1296.1,409.7 1301.7,409.9 1307.4,410.3 1313,411.1 1318.7,412.1 1324.3,413.4 1329.9,415 1335.6,416.8 1341.2,418.8 1346.9,421.1 1352.5,423.6 1358.1,426.2 1363.8,429 1369.4,432 1375.1,435.1 1380.7,438.3 1386.3,441.5 1392,444.8 1397.6,448.2 1403.3,451.5 1408.9,454.9 1414.5,458.3 1420.2,461.6 1425.8,464.8 1431.5,468 1437.1,471.1 1442.7,474 1448.4,476.9 1454,479.7 1459.7,482.3 1465.3,484.8 1470.9,487.2 1476.6,489.4 1482.2,491.5 1487.9,493.4 1493.5,495.2 1499.1,496.9 1504.8,498.4 1510.4,499.7 1516.1,501 1521.7,502.1 1527.3,503 1533,503.8 1538.6,504.5 1544.3,505.1 1549.9,505.6 1555.5,506 1561.2,506.3 1566.8,506.4 1572.5,506.5 1578.1,506.5 1583.7,506.4 1589.4,506.3 1595,506.1 1600.7,505.8 1606.3,505.5 1611.9,505.1 1617.6,504.7 1623.2,504.2 1628.9,503.7 1634.5,503.1 1640.1,502.6 1645.8,502 1651.4,501.4 1657.1,500.8 1662.7,500.1 1668.3,499.5 1674,498.9 1679.6,498.2 1685.3,497.6 1690.9,497 1696.5,496.4 1702.2,495.8 1707.8,495.2 1713.5,494.6 1719.1,494.1 1724.7,493.6 1730.4,493.1 1736,492.7 1741.7,492.2 1747.3,491.9 1752.9,491.5 1758.6,491.2 1764.2,490.9 1769.9,490.7 1775.5,490.5 1781.1,490.3 1786.8,490.2 1792.4,490.2 1798.1,490.2 1803.7,490.2 1809.3,490.2 1815,490.4 1820.6,490.5 1826.3,490.7 1831.9,491 1837.5,491.2 1843.2,491.6 1848.8,491.9 1854.5,492.3 1860.1,492.8 1865.7,493.2 1871.4,493.7 1877,494.3 1882.7,494.8 1888.3,495.4 1893.9,496 1899.6,496.6 1905.2,497.2 1910.9,497.9 1916.5,498.5 1922.1,499.2 1927.8,499.9 1933.4,500.5 1939.1,501.2 1944.7,501.9 1950.3,502.5 1956,503.2 1961.6,503.9 1967.3,504.5 1972.9,505.1 1978.5,505.7 1984.2,506.3 1989.8,506.9 1995.5,507.5 2001.1,508 2006.7,508.6 2012.4,509.1 2018,509.6 2023.7,510.1 2029.3,510.6 2034.9,511.1 2040.6,511.5 2046.2,511.9 2051.9,512.4 2057.5,512.8 2063.1,513.2 2068.8,513.5 2074.4,513.9 2080.1,514.3 2085.7,514.6 2091.3,515 2097,515.3 2102.6,515.6 2103,515.6 2103,521.8"/><polyline class="r" points="1093.1,502 1098.7,500 1104.3,497.9 1110,495.7 1115.6,493.3 1121.3,490.8 1126.9,488.1 1132.5,485.4 1138.2,482.5 1143.8,479.5 1149.5,476.3 1155.1,473.1 1160.7,469.8 1166.4,466.5 1172,463 1177.7,459.5 1183.3,456 1188.9,452.5 1194.6,449 1200.2,445.5 1205.9,442.1 1211.5,438.7 1217.1,435.4 1222.8,432.3 1228.4,429.2 1234.1,426.4 1239.7,423.7 1245.3,421.1 1251,418.8 1256.6,416.8 1262.3,414.9 1267.9,413.4 1273.5,412.1 1279.2,411.1 1284.8,410.3 1290.5,409.9 1296.1,409.7 1301.7,409.9 1307.4,410.3 1313,411.1 1318.7,412.1 1324.3,413.4 1329.9,415 1335.6,416.8 1341.2,418.8 1346.9,421.1 1352.5,423.6 1358.1,426.2 1363.8,429 1369.4,432 1375.1,435.1 1380.7,438.3 1386.3,441.5 1392,444.8 1397.6,448.2 1403.3,451.5 1408.9,454.9 1414.5,458.3 1420.2,461.6 1425.8,464.8 1431.5,468 1437.1,471.1 1442.7,474 1448.4,476.9 1454,479.7 1459.7,482.3 1465.3,484.8 1470.9,487.2 1476.6,489.4 1482.2,491.5 1487.9,493.4 1493.5,495.2 1499.1,496.9 1504.8,498.4 1510.4,499.7 1516.1,501 1521.7,502.1 1527.3,503 1533,503.8 1538.6,504.5 1544.3,505.1 1549.9,505.6 1555.5,506 1561.2,506.3 1566.8,506.4 1572.5,506.5 1578.1,506.5 1583.7,506.4 1589.4,506.3 1595,506.1 1600.7,505.8 1606.3,505.5 1611.9,505.1 1617.6,504.7 1623.2,504.2 1628.9,503.7 1634.5,503.1 1640.1,502.6 1645.8,502 1651.4,501.4 1657.1,500.8 1662.7,500.1 1668.3,499.5 1674,498.9 1679.6,498.2 1685.3,497.6 1690.9,497 1696.5,496.4 1702.2,495.8 1707.8,495.2 1713.5,494.6 1719.1,494.1 1724.7,493.6 1730.4,493.1 1736,492.7 1741.7,492.2 1747.3,491.9 1752.9,491.5 1758.6,491.2 1764.2,490.9 1769.9,490.7 1775.5,490.5 1781.1,490.3 1786.8,490.2 1792.4,490.2 1798.1,490.2 1803.7,490.2 1809.3,490.2 1815,490.4 1820.6,490.5 1826.3,490.7 1831.9,491 1837.5,491.2 1843.2,491.6 1848.8,491.9 1854.5,492.3 1860.1,492.8 1865.7,493.2 1871.4,493.7 1877,494.3 1882.7,494.8 1888.3,495.4 1893.9,496 1899.6,496.6 1905.2,497.2 1910.9,497.9 1916.5,498.5 1922.1,499.2 1927.8,499.9 1933.4,500.5 1939.1,501.2 1944.7,501.9 1950.3,502.5 1956,503.2 1961.6,503.9 1967.3,504.5 1972.9,505.1 1978.5,505.7 1984.2,506.3 1989.8,506.9 1995.5,507.5 2001.1,508 2006.7,508.6 2012.4,509.1 2018,509.6 2023.7,510.1 2029.3,510.6 2034.9,511.1 2040.6,511.5 2046.2,511.9 2051.9,512.4 2057.5,512.8 2063.1,513.2 2068.8,513.5 2074.4,513.9 2080.1,514.3 2085.7,514.6 2091.3,515 2097,515.3 2102.6,515.6 2103,515.6"/>
<g><use href="#p" x="1295" y="529.8"/><use href="#p" x="1295" y="532.9"/><use href="#p" x="1295" y="536"/><use href="#p" x="1295" y="539.2"/><use href="#p" x="1295" y="542.3"/><use href="#p" x="1295" y="545.5"/><use href="#p" x="1295" y="548.6"/><use href="#p" x="1295" y="551.8"/><use href="#p" x="1295" y="554.9"/><use href="#p" x="1295" y="558"/><use href="#p" x="1295" y="561.2"/><use href="#p" x="1295" y="564.3"/><use href="#p" x="1295" y="567.5"/><use href="#p" x="1295" y="570.6"/><use href="#p" x="1295" y="573.8"/><use href="#p" x="1658.8" y="528.7"/><use href="#p" x="1725.4" y="566.5"/><use href="#p" x="1780" y="556.8"/><use href="#p" x="1825.7" y="543.6"/><use href="#p" x="1879.7" y="561.8"/><use href="#p" x="1984.7" y="529.7"/></g>
<polygon class="f" fill="#AE87FF" points="1093.1,638.7 1093.1,622.2 1098.7,620.6 1104.3,618.8 1110,617 1115.6,615 1121.3,612.9 1126.9,610.7 1132.5,608.4 1138.2,606 1143.8,603.5 1149.5,600.9 1155.1,598.2 1160.7,595.5 1166.4,592.7 1172,589.8 1177.7,586.9 1183.3,584 1188.9,581.1 1194.6,578.2 1200.2,575.3 1205.9,572.4 1211.5,569.6 1217.1,566.9 1222.8,564.3 1228.4,561.8 1234.1,559.4 1239.7,557.1 1245.3,555.1 1251,553.2 1256.6,551.4 1262.3,549.9 1267.9,548.6 1273.5,547.6 1279.2,546.8 1284.8,546.2 1290.5,545.8 1296.1,545.7 1301.7,545.9 1307.4,546.3 1313,546.9 1318.7,547.8 1324.3,548.9 1329.9,550.2 1335.6,551.8 1341.2,553.5 1346.9,555.4 1352.5,557.5 1358.1,559.7 1363.8,562.1 1369.4,564.6 1375.1,567.2 1380.7,569.9 1386.3,572.6 1392,575.4 1397.6,578.3 1403.3,581.1 1408.9,583.9 1414.5,586.7 1420.2,589.5 1425.8,592.3 1431.5,594.9 1437.1,597.5 1442.7,600.1 1448.4,602.5 1454,604.9 1459.7,607.1 1465.3,609.2 1470.9,611.3 1476.6,613.2 1482.2,615 1487.9,616.7 1493.5,618.2 1499.1,619.7 1504.8,621 1510.4,622.3 1516.1,623.4 1521.7,624.4 1527.3,625.4 1533,626.2 1538.6,626.9 1544.3,627.6 1549.9,628.1 1555.5,628.6 1561.2,629 1566.8,629.4 1572.5,629.7 1578.1,629.9 1583.7,630 1589.4,630.1 1595,630.2 1600.7,630.2 1606.3,630.1 1611.9,630.1 1617.6,630 1623.2,629.8 1628.9,629.6 1634.5,629.4 1640.1,629.2 1645.8,628.9 1651.4,628.6 1657.1,628.3 1662.7,628 1668.3,627.7 1674,627.3 1679.6,627 1685.3,626.6 1690.9,626.2 1696.5,625.8 1702.2,625.4 1707.8,625 1713.5,624.6 1719.1,624.2 1724.7,623.8 1730.4,623.4 1736,623 1741.7,622.5 1747.3,622.1 1752.9,621.7 1758.6,621.2 1764.2,620.8 1769.9,620.3 1775.5,619.9 1781.1,619.4 1786.8,618.9 1792.4,618.4 1798.1,617.9 1803.7,617.4 1809.3,616.9 1815,616.4 1820.6,615.8 1826.3,615.2 1831.9,614.7 1837.5,614.1 1843.2,613.4 1848.8,612.8 1854.5,612.1 1860.1,611.5 1865.7,610.8 1871.4,610.1 1877,609.3 1882.7,608.6 1888.3,607.8 1893.9,607.1 1899.6,606.3 1905.2,605.5 1910.9,604.7 1916.5,603.9 1922.1,603.1 1927.8,602.4 1933.4,601.6 1939.1,600.9 1944.7,600.1 1950.3,599.4 1956,598.7 1961.6,598.1 1967.3,597.5 1972.9,596.9 1978.5,596.4 1984.2,595.9 1989.8,595.4 1995.5,595.1 2001.1,594.8 2006.7,594.5 2012.4,594.3 2018,594.2 2023.7,594.2 2029.3,594.2 2034.9,594.3 2040.6,594.5 2046.2,594.7 2051.9,595 2057.5,595.4 2063.1,595.9 2068.8,596.4 2074.4,597 2080.1,597.7 2085.7,598.5 2091.3,599.3 2097,600.1 2102.6,601 2108.3,602 2113.9,603 2119.5,604 2125.2,605.1 2130.8,606.2 2136.5,607.3 2142.1,608.4 2147.7,609.6 2153.4,610.8 2159,611.9 2164.7,613.1 2170.3,614.3 2175.9,615.4 2181.6,616.6 2187.2,617.7 2192.9,618.8 2198.5,619.9 2204.1,620.9 2209.8,622 2215.4,622.9 2221.1,623.9 2226.7,624.8 2232.3,625.7 2238,626.6 2243.6,627.4 2249.3,628.2 2254.9,629 2260.5,629.7 2266.2,630.4 2271.8,631 2277.5,631.6 2283.1,632.2 2288.7,632.7 2289.1,632.7 2289.1,638.7"/><polyline class="r" points="1093.1,622.2 1098.7,620.6 1104.3,618.8 1110,617 1115.6,615 1121.3,612.9 1126.9,610.7 1132.5,608.4 1138.2,606 1143.8,603.5 1149.5,600.9 1155.1,598.2 1160.7,595.5 1166.4,592.7 1172,589.8 1177.7,586.9 1183.3,584 1188.9,581.1 1194.6,578.2 1200.2,575.3 1205.9,572.4 1211.5,569.6 1217.1,566.9 1222.8,564.3 1228.4,561.8 1234.1,559.4 1239.7,557.1 1245.3,555.1 1251,553.2 1256.6,551.4 1262.3,549.9 1267.9,548.6 1273.5,547.6 1279.2,546.8 1284.8,546.2 1290.5,545.8 1296.1,545.7 1301.7,545.9 1307.4,546.3 1313,546.9 1318.7,547.8 1324.3,548.9 1329.9,550.2 1335.6,551.8 1341.2,553.5 1346.9,555.4 1352.5,557.5 1358.1,559.7 1363.8,562.1 1369.4,564.6 1375.1,567.2 1380.7,569.9 1386.3,572.6 1392,575.4 1397.6,578.3 1403.3,581.1 1408.9,583.9 1414.5,586.7 1420.2,589.5 1425.8,592.3 1431.5,594.9 1437.1,597.5 1442.7,600.1 1448.4,602.5 1454,604.9 1459.7,607.1 1465.3,609.2 1470.9,611.3 1476.6,613.2 1482.2,615 1487.9,616.7 1493.5,618.2 1499.1,619.7 1504.8,621 1510.4,622.3 1516.1,623.4 1521.7,624.4 1527.3,625.4 1533,626.2 1538.6,626.9 1544.3,627.6 1549.9,628.1 1555.5,628.6 1561.2,629 1566.8,629.4 1572.5,629.7 1578.1,629.9 1583.7,630 1589.4,630.1 1595,630.2 1600.7,630.2 1606.3,630.1 1611.9,630.1 1617.6,630 1623.2,629.8 1628.9,629.6 1634.5,629.4 1640.1,629.2 1645.8,628.9 1651.4,628.6 1657.1,628.3 1662.7,628 1668.3,627.7 1674,627.3 1679.6,627 1685.3,626.6 1690.9,626.2 1696.5,625.8 1702.2,625.4 1707.8,625 1713.5,624.6 1719.1,624.2 1724.7,623.8 1730.4,623.4 1736,623 1741.7,622.5 1747.3,622.1 1752.9,621.7 1758.6,621.2 1764.2,620.8 1769.9,620.3 1775.5,619.9 1781.1,619.4 1786.8,618.9 1792.4,618.4 1798.1,617.9 1803.7,617.4 1809.3,616.9 1815,616.4 1820.6,615.8 1826.3,615.2 1831.9,614.7 1837.5,614.1 1843.2,613.4 1848.8,612.8 1854.5,612.1 1860.1,611.5 1865.7,610.8 1871.4,610.1 1877,609.3 1882.7,608.6 1888.3,607.8 1893.9,607.1 1899.6,606.3 1905.2,605.5 1910.9,604.7 1916.5,603.9 1922.1,603.1 1927.8,602.4 1933.4,601.6 1939.1,600.9 1944.7,600.1 1950.3,599.4 1956,598.7 1961.6,598.1 1967.3,597.5 1972.9,596.9 1978.5,596.4 1984.2,595.9 1989.8,595.4 1995.5,595.1 2001.1,594.8 2006.7,594.5 2012.4,594.3 2018,594.2 2023.7,594.2 2029.3,594.2 2034.9,594.3 2040.6,594.5 2046.2,594.7 2051.9,595 2057.5,595.4 2063.1,595.9 2068.8,596.4 2074.4,597 2080.1,597.7 2085.7,598.5 2091.3,599.3 2097,600.1 2102.6,601 2108.3,602 2113.9,603 2119.5,604 2125.2,605.1 2130.8,606.2 2136.5,607.3 2142.1,608.4 2147.7,609.6 2153.4,610.8 2159,611.9 2164.7,613.1 2170.3,614.3 2175.9,615.4 2181.6,616.6 2187.2,617.7 2192.9,618.8 2198.5,619.9 2204.1,620.9 2209.8,622 2215.4,622.9 2221.1,623.9 2226.7,624.8 2232.3,625.7 2238,626.6 2243.6,627.4 2249.3,628.2 2254.9,629 2260.5,629.7 2266.2,630.4 2271.8,631 2277.5,631.6 2283.1,632.2 2288.7,632.7 2289.1,632.7"/>
<g><use href="#p" x="1295" y="646.7"/><use href="#p" x="1295" y="648.5"/><use href="#p" x="1295" y="650.2"/><use href="#p" x="1295" y="652"/><use href="#p" x="1295" y="653.7"/><use href="#p" x="1295" y="655.5"/><use href="#p" x="1295" y="657.3"/><use href="#p" x="1295" y="659"/><use href="#p" x="1295" y="660.8"/><use href="#p" x="1295" y="662.5"/><use href="#p" x="1295" y="664.3"/><use href="#p" x="1295" y="666.1"/><use href="#p" x="1295" y="667.8"/><use href="#p" x="1295" y="669.6"/><use href="#p" x="1295" y="671.3"/><use href="#p" x="1295" y="673.1"/><use href="#p" x="1295" y="674.9"/><use href="#p" x="1295" y="676.6"/><use href="#p" x="1295" y="678.4"/><use href="#p" x="1295" y="680.1"/><use href="#p" x="1295" y="681.9"/><use href="#p" x="1295" y="683.7"/><use href="#p" x="1295" y="685.4"/><use href="#p" x="1295" y="687.2"/><use href="#p" x="1295" y="688.9"/><use href="#p" x="1295" y="690.7"/><use href="#p" x="1647.5" y="662.9"/><use href="#p" x="1638.2" y="684.8"/><use href="#p" x="1696.9" y="670.5"/><use href="#p" x="1726" y="674.8"/><use href="#p" x="1776" y="649.7"/><use href="#p" x="1809.8" y="646.7"/><use href="#p" x="1767.1" y="685.8"/><use href="#p" x="1783.6" y="689.4"/><use href="#p" x="1836.9" y="673.5"/><use href="#p" x="1867.8" y="657.6"/><use href="#p" x="1865.1" y="683.5"/><use href="#p" x="1957.9" y="677.2"/><use href="#p" x="1955.9" y="688.8"/><use href="#p" x="1967.8" y="654.6"/><use href="#p" x="1968.8" y="686.1"/><use href="#p" x="1989" y="685.4"/><use href="#p" x="1989.7" y="656.6"/><use href="#p" x="1995.6" y="645"/><use href="#p" x="2001.9" y="661.6"/><use href="#p" x="2005.2" y="663.9"/><use href="#p" x="2014.5" y="650"/><use href="#p" x="2012.8" y="658.3"/><use href="#p" x="2015.2" y="662.3"/><use href="#p" x="2020.1" y="675.5"/><use href="#p" x="2023.4" y="678.8"/><use href="#p" x="2038.4" y="670.5"/><use href="#p" x="2040.7" y="658.3"/><use href="#p" x="2043.3" y="657.3"/><use href="#p" x="2047.3" y="647.3"/><use href="#p" x="2050" y="657.3"/><use href="#p" x="2052.6" y="689.4"/><use href="#p" x="2063.2" y="654"/><use href="#p" x="2068.2" y="646.7"/><use href="#p" x="2073.1" y="666.2"/><use href="#p" x="2083.1" y="667.2"/><use href="#p" x="2079.1" y="679.5"/><use href="#p" x="2078.1" y="687.1"/><use href="#p" x="2086.4" y="644"/><use href="#p" x="2096.3" y="655.6"/><use href="#p" x="2103" y="680.5"/><use href="#p" x="2106.3" y="676.2"/><use href="#p" x="2142.7" y="646.7"/><use href="#p" x="2184.8" y="670.5"/></g>
<polygon class="f" fill="#619CFF" points="1540.5,755.6 1540.5,749.8 1546.2,749.2 1551.8,748.6 1557.4,747.9 1563.1,747.2 1568.7,746.4 1574.4,745.5 1580,744.7 1585.6,743.8 1591.3,742.8 1596.9,741.8 1602.6,740.8 1608.2,739.7 1613.8,738.6 1619.5,737.4 1625.1,736.3 1630.8,735.1 1636.4,733.8 1642,732.6 1647.7,731.3 1653.3,730.1 1659,728.8 1664.6,727.5 1670.2,726.3 1675.9,725 1681.5,723.8 1687.2,722.6 1692.8,721.4 1698.4,720.2 1704.1,719.1 1709.7,718 1715.4,716.9 1721,715.9 1726.6,714.9 1732.3,713.9 1737.9,713 1743.6,712.2 1749.2,711.4 1754.8,710.6 1760.5,709.9 1766.1,709.2 1771.8,708.5 1777.4,707.9 1783,707.3 1788.7,706.8 1794.3,706.2 1800,705.7 1805.6,705.2 1811.2,704.7 1816.9,704.3 1822.5,703.8 1828.2,703.3 1833.8,702.8 1839.4,702.3 1845.1,701.8 1850.7,701.3 1856.4,700.7 1862,700.1 1867.6,699.5 1873.3,698.9 1878.9,698.2 1884.6,697.4 1890.2,696.7 1895.8,695.9 1901.5,695 1907.1,694.1 1912.8,693.1 1918.4,692.1 1924,691 1929.7,689.9 1935.3,688.8 1941,687.6 1946.6,686.3 1952.2,685 1957.9,683.6 1963.5,682.3 1969.2,680.9 1974.8,679.4 1980.4,678 1986.1,676.5 1991.7,675 1997.4,673.5 2003,672.1 2008.6,670.6 2014.3,669.2 2019.9,667.8 2025.6,666.5 2031.2,665.2 2036.8,664.1 2042.5,663 2048.1,662 2053.8,661.1 2059.4,660.3 2065,659.7 2070.7,659.2 2076.3,658.9 2082,658.8 2087.6,658.8 2093.2,658.9 2098.9,659.3 2104.5,659.8 2110.2,660.6 2115.8,661.5 2121.4,662.6 2127.1,663.8 2132.7,665.3 2138.4,666.9 2144,668.7 2149.6,670.6 2155.3,672.7 2160.9,674.9 2166.6,677.3 2172.2,679.7 2177.8,682.3 2183.5,684.9 2189.1,687.6 2194.8,690.4 2200.4,693.2 2206,696 2211.7,698.8 2217.3,701.7 2223,704.5 2228.6,707.3 2234.2,710.1 2239.9,712.8 2245.5,715.4 2251.2,718 2256.8,720.5 2262.4,722.9 2268.1,725.2 2273.7,727.5 2279.4,729.6 2285,731.6 2290.6,733.6 2296.3,735.4 2301.9,737.1 2307.6,738.7 2313.2,740.2 2318.8,741.6 2324.5,742.9 2330.1,744.2 2335.8,745.3 2340.1,746.1 2340.1,755.6"/><polyline class="r" points="1540.5,749.8 1546.2,749.2 1551.8,748.6 1557.4,747.9 1563.1,747.2 1568.7,746.4 1574.4,745.5 1580,744.7 1585.6,743.8 1591.3,742.8 1596.9,741.8 1602.6,740.8 1608.2,739.7 1613.8,738.6 1619.5,737.4 1625.1,736.3 1630.8,735.1 1636.4,733.8 1642,732.6 1647.7,731.3 1653.3,730.1 1659,728.8 1664.6,727.5 1670.2,726.3 1675.9,725 1681.5,723.8 1687.2,722.6 1692.8,721.4 1698.4,720.2 1704.1,719.1 1709.7,718 1715.4,716.9 1721,715.9 1726.6,714.9 1732.3,713.9 1737.9,713 1743.6,712.2 1749.2,711.4 1754.8,710.6 1760.5,709.9 1766.1,709.2 1771.8,708.5 1777.4,707.9 1783,707.3 1788.7,706.8 1794.3,706.2 1800,705.7 1805.6,705.2 1811.2,704.7 1816.9,704.3 1822.5,703.8 1828.2,703.3 1833.8,702.8 1839.4,702.3 1845.1,701.8 1850.7,701.3 1856.4,700.7 1862,700.1 1867.6,699.5 1873.3,698.9 1878.9,698.2 1884.6,697.4 1890.2,696.7 1895.8,695.9 1901.5,695 1907.1,694.1 1912.8,693.1 1918.4,692.1 1924,691 1929.7,689.9 1935.3,688.8 1941,687.6 1946.6,686.3 1952.2,685 1957.9,683.6 1963.5,682.3 1969.2,680.9 1974.8,679.4 1980.4,678 1986.1,676.5 1991.7,675 1997.4,673.5 2003,672.1 2008.6,670.6 2014.3,669.2 2019.9,667.8 2025.6,666.5 2031.2,665.2 2036.8,664.1 2042.5,663 2048.1,662 2053.8,661.1 2059.4,660.3 2065,659.7 2070.7,659.2 2076.3,658.9 2082,658.8 2087.6,658.8 2093.2,658.9 2098.9,659.3 2104.5,659.8 2110.2,660.6 2115.8,661.5 2121.4,662.6 2127.1,663.8 2132.7,665.3 2138.4,666.9 2144,668.7 2149.6,670.6 2155.3,672.7 2160.9,674.9 2166.6,677.3 2172.2,679.7 2177.8,682.3 2183.5,684.9 2189.1,687.6 2194.8,690.4 2200.4,693.2 2206,696 2211.7,698.8 2217.3,701.7 2223,704.5 2228.6,707.3 2234.2,710.1 2239.9,712.8 2245.5,715.4 2251.2,718 2256.8,720.5 2262.4,722.9 2268.1,725.2 2273.7,727.5 2279.4,729.6 2285,731.6 2290.6,733.6 2296.3,735.4 2301.9,737.1 2307.6,738.7 2313.2,740.2 2318.8,741.6 2324.5,742.9 2330.1,744.2 2335.8,745.3 2340.1,746.1"/>
<g><use href="#p" x="1717.7" y="777.6"/><use href="#p" x="1735.3" y="764.2"/><use href="#p" x="1736.9" y="774.2"/><use href="#p" x="1741.9" y="771.5"/><use href="#p" x="1740.9" y="789.7"/><use href="#p" x="1760.8" y="763.6"/><use href="#p" x="1761.8" y="788.1"/><use href="#p" x="1764.1" y="795.7"/><use href="#p" x="1781" y="779.8"/><use href="#p" x="1790.9" y="789.7"/><use href="#p" x="1823" y="761.6"/><use href="#p" x="1830.7" y="799"/><use href="#p" x="1844.9" y="781.8"/><use href="#p" x="1890.6" y="804.6"/><use href="#p" x="1911.2" y="798.7"/><use href="#p" x="1940.6" y="767.5"/><use href="#p" x="1955.9" y="781.8"/><use href="#p" x="1966.1" y="777.5"/><use href="#p" x="1976.4" y="763.6"/><use href="#p" x="1986.7" y="789.7"/><use href="#p" x="2006.9" y="800.7"/><use href="#p" x="2006.9" y="803.3"/><use href="#p" x="2046.6" y="793.4"/><use href="#p" x="2050.6" y="761.6"/><use href="#p" x="2057.6" y="788.4"/><use href="#p" x="2065.9" y="761.6"/><use href="#p" x="2069.2" y="793.4"/><use href="#p" x="2071.5" y="800.7"/><use href="#p" x="2073.8" y="802.3"/><use href="#p" x="2083.1" y="802.3"/><use href="#p" x="2083.7" y="783.1"/><use href="#p" x="2092.4" y="762.6"/><use href="#p" x="2098" y="772.5"/><use href="#p" x="2101.3" y="779.8"/><use href="#p" x="2100" y="798.7"/><use href="#p" x="2114.5" y="773.5"/><use href="#p" x="2117.9" y="774.2"/><use href="#p" x="2126.8" y="772.5"/><use href="#p" x="2127.8" y="761.6"/><use href="#p" x="2122.2" y="789.1"/><use href="#p" x="2122.8" y="802.3"/><use href="#p" x="2132.8" y="791.4"/><use href="#p" x="2134.4" y="797.3"/><use href="#p" x="2136.1" y="800.7"/><use href="#p" x="2148.3" y="780.8"/><use href="#p" x="2159.9" y="779.1"/><use href="#p" x="2161.9" y="788.4"/><use href="#p" x="2175.8" y="766.5"/><use href="#p" x="2180.8" y="806.6"/></g>
<polygon class="f" fill="#00ADFA" points="1093.1,872.6 1093.1,857.4 1098.7,855.9 1104.3,854.3 1110,852.6 1115.6,850.7 1121.3,848.8 1126.9,846.8 1132.5,844.7 1138.2,842.5 1143.8,840.1 1149.5,837.8 1155.1,835.3 1160.7,832.8 1166.4,830.2 1172,827.5 1177.7,824.9 1183.3,822.2 1188.9,819.5 1194.6,816.8 1200.2,814.1 1205.9,811.5 1211.5,808.9 1217.1,806.4 1222.8,804 1228.4,801.7 1234.1,799.5 1239.7,797.4 1245.3,795.5 1251,793.8 1256.6,792.2 1262.3,790.8 1267.9,789.6 1273.5,788.7 1279.2,787.9 1284.8,787.4 1290.5,787.1 1296.1,787 1301.7,787.1 1307.4,787.5 1313,788.1 1318.7,789 1324.3,790 1329.9,791.2 1335.6,792.7 1341.2,794.3 1346.9,796.1 1352.5,798 1358.1,800.1 1363.8,802.4 1369.4,804.7 1375.1,807.1 1380.7,809.6 1386.3,812.1 1392,814.7 1397.6,817.4 1403.3,820 1408.9,822.6 1414.5,825.2 1420.2,827.8 1425.8,830.4 1431.5,832.8 1437.1,835.2 1442.7,837.6 1448.4,839.8 1454,842 1459.7,844 1465.3,846 1470.9,847.8 1476.6,849.6 1482.2,851.2 1487.9,852.8 1493.5,854.2 1499.1,855.5 1504.8,856.7 1510.4,857.8 1516.1,858.8 1521.7,859.7 1527.3,860.5 1533,861.3 1538.6,861.9 1544.3,862.5 1549.9,863 1555.5,863.4 1561.2,863.8 1566.8,864.1 1572.5,864.4 1578.1,864.6 1583.7,864.8 1589.4,864.9 1595,865 1600.7,865.1 1606.3,865.2 1611.9,865.2 1617.6,865.2 1623.2,865.2 1628.9,865.1 1634.5,865.1 1640.1,865 1645.8,864.9 1651.4,864.8 1657.1,864.7 1662.7,864.6 1668.3,864.4 1674,864.3 1679.6,864.1 1685.3,863.9 1690.9,863.7 1696.5,863.4 1702.2,863.2 1707.8,862.9 1713.5,862.6 1719.1,862.2 1724.7,861.9 1730.4,861.5 1736,861 1741.7,860.6 1747.3,860.1 1752.9,859.6 1758.6,859 1764.2,858.4 1769.9,857.8 1775.5,857.1 1781.1,856.4 1786.8,855.7 1792.4,854.9 1798.1,854.1 1803.7,853.3 1809.3,852.5 1815,851.6 1820.6,850.6 1826.3,849.7 1831.9,848.7 1837.5,847.7 1843.2,846.7 1848.8,845.6 1854.5,844.6 1860.1,843.5 1865.7,842.4 1871.4,841.3 1877,840.2 1882.7,839 1888.3,837.9 1893.9,836.8 1899.6,835.6 1905.2,834.5 1910.9,833.3 1916.5,832.2 1922.1,831.1 1927.8,830 1933.4,829 1939.1,827.9 1944.7,826.9 1950.3,826 1956,825 1961.6,824.1 1967.3,823.3 1972.9,822.5 1978.5,821.8 1984.2,821.2 1989.8,820.6 1995.5,820.1 2001.1,819.7 2006.7,819.4 2012.4,819.1 2018,819 2023.7,818.9 2029.3,819 2034.9,819.1 2040.6,819.4 2046.2,819.7 2051.9,820.2 2057.5,820.7 2063.1,821.4 2068.8,822.2 2074.4,823 2080.1,824 2085.7,825 2091.3,826.1 2097,827.3 2102.6,828.5 2108.3,829.8 2113.9,831.2 2119.5,832.6 2125.2,834.1 2130.8,835.6 2136.5,837.1 2142.1,838.6 2147.7,840.2 2153.4,841.7 2159,843.3 2164.7,844.8 2170.3,846.3 2175.9,847.8 2181.6,849.3 2187.2,850.7 2192.9,852.1 2198.5,853.4 2204.1,854.7 2209.8,856 2215.4,857.2 2221.1,858.3 2226.7,859.4 2232.3,860.4 2238,861.4 2243.6,862.3 2249.3,863.2 2254.9,864 2260.5,864.7 2266.2,865.4 2271.8,866.1 2277.5,866.7 2283.1,867.2 2285.1,867.4 2285.1,872.6"/><polyline class="r" points="1093.1,857.4 1098.7,855.9 1104.3,854.3 1110,852.6 1115.6,850.7 1121.3,848.8 1126.9,846.8 1132.5,844.7 1138.2,842.5 1143.8,840.1 1149.5,837.8 1155.1,835.3 1160.7,832.8 1166.4,830.2 1172,827.5 1177.7,824.9 1183.3,822.2 1188.9,819.5 1194.6,816.8 1200.2,814.1 1205.9,811.5 1211.5,808.9 1217.1,806.4 1222.8,804 1228.4,801.7 1234.1,799.5 1239.7,797.4 1245.3,795.5 1251,793.8 1256.6,792.2 1262.3,790.8 1267.9,789.6 1273.5,788.7 1279.2,787.9 1284.8,787.4 1290.5,787.1 1296.1,787 1301.7,787.1 1307.4,787.5 1313,788.1 1318.7,789 1324.3,790 1329.9,791.2 1335.6,792.7 1341.2,794.3 1346.9,796.1 1352.5,798 1358.1,800.1 1363.8,802.4 1369.4,804.7 1375.1,807.1 1380.7,809.6 1386.3,812.1 1392,814.7 1397.6,817.4 1403.3,820 1408.9,822.6 1414.5,825.2 1420.2,827.8 1425.8,830.4 1431.5,832.8 1437.1,835.2 1442.7,837.6 1448.4,839.8 1454,842 1459.7,844 1465.3,846 1470.9,847.8 1476.6,849.6 1482.2,851.2 1487.9,852.8 1493.5,854.2 1499.1,855.5 1504.8,856.7 1510.4,857.8 1516.1,858.8 1521.7,859.7 1527.3,860.5 1533,861.3 1538.6,861.9 1544.3,862.5 1549.9,863 1555.5,863.4 1561.2,863.8 1566.8,864.1 1572.5,864.4 1578.1,864.6 1583.7,864.8 1589.4,864.9 1595,865 1600.7,865.1 1606.3,865.2 1611.9,865.2 1617.6,865.2 1623.2,865.2 1628.9,865.1 1634.5,865.1 1640.1,865 1645.8,864.9 1651.4,864.8 1657.1,864.7 1662.7,864.6 1668.3,864.4 1674,864.3 1679.6,864.1 1685.3,863.9 1690.9,863.7 1696.5,863.4 1702.2,863.2 1707.8,862.9 1713.5,862.6 1719.1,862.2 1724.7,861.9 1730.4,861.5 1736,861 1741.7,860.6 1747.3,860.1 1752.9,859.6 1758.6,859 1764.2,858.4 1769.9,857.8 1775.5,857.1 1781.1,856.4 1786.8,855.7 1792.4,854.9 1798.1,854.1 1803.7,853.3 1809.3,852.5 1815,851.6 1820.6,850.6 1826.3,849.7 1831.9,848.7 1837.5,847.7 1843.2,846.7 1848.8,845.6 1854.5,844.6 1860.1,843.5 1865.7,842.4 1871.4,841.3 1877,840.2 1882.7,839 1888.3,837.9 1893.9,836.8 1899.6,835.6 1905.2,834.5 1910.9,833.3 1916.5,832.2 1922.1,831.1 1927.8,830 1933.4,829 1939.1,827.9 1944.7,826.9 1950.3,826 1956,825 1961.6,824.1 1967.3,823.3 1972.9,822.5 1978.5,821.8 1984.2,821.2 1989.8,820.6 1995.5,820.1 2001.1,819.7 2006.7,819.4 2012.4,819.1 2018,819 2023.7,818.9 2029.3,819 2034.9,819.1 2040.6,819.4 2046.2,819.7 2051.9,820.2 2057.5,820.7 2063.1,821.4 2068.8,822.2 2074.4,823 2080.1,824 2085.7,825 2091.3,826.1 2097,827.3 2102.6,828.5 2108.3,829.8 2113.9,831.2 2119.5,832.6 2125.2,834.1 2130.8,835.6 2136.5,837.1 2142.1,838.6 2147.7,840.2 2153.4,841.7 2159,843.3 2164.7,844.8 2170.3,846.3 2175.9,847.8 2181.6,849.3 2187.2,850.7 2192.9,852.1 2198.5,853.4 2204.1,854.7 2209.8,856 2215.4,857.2 2221.1,858.3 2226.7,859.4 2232.3,860.4 2238,861.4 2243.6,862.3 2249.3,863.2 2254.9,864 2260.5,864.7 2266.2,865.4 2271.8,866.1 2277.5,866.7 2283.1,867.2 2285.1,867.4"/>
<g><use href="#p" x="1295" y="880.6"/><use href="#p" x="1295" y="882.7"/><use href="#p" x="1295" y="884.8"/><use href="#p" x="1295" y="886.9"/><use href="#p" x="1295" y="889"/><use href="#p" x="1295" y="891.1"/><use href="#p" x="1295" y="893.2"/><use href="#p" x="1295" y="895.3"/><use href="#p" x="1295" y="897.4"/><use href="#p" x="1295" y="899.5"/><use href="#p" x="1295" y="901.6"/><use href="#p" x="1295" y="903.6"/><use href="#p" x="1295" y="905.7"/><use href="#p" x="1295" y="907.8"/><use href="#p" x="1295" y="909.9"/><use href="#p" x="1295" y="912"/><use href="#p" x="1295" y="914.1"/><use href="#p" x="1295" y="916.2"/><use href="#p" x="1295" y="918.3"/><use href="#p" x="1295" y="920.4"/><use href="#p" x="1295" y="922.5"/><use href="#p" x="1295" y="924.6"/><use href="#p" x="1572" y="906.7"/><use href="#p" x="1742.9" y="922.6"/><use href="#p" x="1772.7" y="922.6"/><use href="#p" x="1861.8" y="922.6"/><use href="#p" x="1900.9" y="918"/><use href="#p" x="1919.8" y="906.7"/><use href="#p" x="1927.4" y="884.5"/><use href="#p" x="1934" y="885.5"/><use href="#p" x="1973.8" y="911.4"/><use href="#p" x="1982.7" y="902.8"/><use href="#p" x="1995.6" y="890.8"/><use href="#p" x="2002.9" y="915"/><use href="#p" x="2018.5" y="896.8"/><use href="#p" x="2026.8" y="881.6"/><use href="#p" x="2021.8" y="917"/><use href="#p" x="2023.4" y="921.6"/><use href="#p" x="2025.1" y="906.1"/><use href="#p" x="2033.4" y="905.1"/><use href="#p" x="2040.7" y="901.4"/><use href="#p" x="2050.6" y="893.5"/><use href="#p" x="2068.2" y="890.5"/><use href="#p" x="2071.5" y="882.2"/><use href="#p" x="2074.8" y="897.8"/><use href="#p" x="2076.5" y="899.4"/><use href="#p" x="2068.2" y="917"/><use href="#p" x="2097" y="915.7"/><use href="#p" x="2108.9" y="885.5"/><use href="#p" x="2112.9" y="907.7"/></g>
<polygon class="f" fill="#00B9E3" points="1093.1,989.5 1093.1,980.1 1098.7,979.2 1104.3,978.2 1110,977.1 1115.6,976 1121.3,974.8 1126.9,973.5 1132.5,972.2 1138.2,970.8 1143.8,969.4 1149.5,967.9 1155.1,966.4 1160.7,964.8 1166.4,963.2 1172,961.6 1177.7,959.9 1183.3,958.2 1188.9,956.6 1194.6,954.9 1200.2,953.2 1205.9,951.6 1211.5,950 1217.1,948.4 1222.8,946.9 1228.4,945.5 1234.1,944.1 1239.7,942.8 1245.3,941.6 1251,940.5 1256.6,939.5 1262.3,938.6 1267.9,937.9 1273.5,937.2 1279.2,936.7 1284.8,936.4 1290.5,936.1 1296.1,936 1301.7,936.1 1307.4,936.3 1313,936.6 1318.7,937 1324.3,937.6 1329.9,938.3 1335.6,939.1 1341.2,940 1346.9,941 1352.5,942.1 1358.1,943.2 1363.8,944.5 1369.4,945.8 1375.1,947.1 1380.7,948.4 1386.3,949.8 1392,951.2 1397.6,952.6 1403.3,954 1408.9,955.4 1414.5,956.7 1420.2,958 1425.8,959.3 1431.5,960.5 1437.1,961.6 1442.7,962.7 1448.4,963.7 1454,964.6 1459.7,965.5 1465.3,966.2 1470.9,966.9 1476.6,967.5 1482.2,968 1487.9,968.4 1493.5,968.8 1499.1,969 1504.8,969.2 1510.4,969.3 1516.1,969.3 1521.7,969.2 1527.3,969.1 1533,968.9 1538.6,968.6 1544.3,968.3 1549.9,968 1555.5,967.6 1561.2,967.1 1566.8,966.6 1572.5,966.1 1578.1,965.6 1583.7,965 1589.4,964.4 1595,963.8 1600.7,963.2 1606.3,962.6 1611.9,962.1 1617.6,961.5 1623.2,960.9 1628.9,960.4 1634.5,959.8 1640.1,959.3 1645.8,958.8 1651.4,958.4 1657.1,958 1662.7,957.6 1668.3,957.2 1674,956.9 1679.6,956.6 1685.3,956.4 1690.9,956.2 1696.5,956 1702.2,955.9 1707.8,955.8 1713.5,955.7 1719.1,955.7 1724.7,955.7 1730.4,955.7 1736,955.8 1741.7,955.9 1747.3,956 1752.9,956.1 1758.6,956.2 1764.2,956.3 1769.9,956.4 1775.5,956.6 1781.1,956.7 1786.8,956.8 1792.4,957 1798.1,957.1 1803.7,957.2 1809.3,957.3 1815,957.3 1820.6,957.4 1826.3,957.4 1831.9,957.4 1837.5,957.4 1843.2,957.4 1848.8,957.3 1854.5,957.2 1860.1,957 1865.7,956.9 1871.4,956.6 1877,956.4 1882.7,956.1 1888.3,955.8 1893.9,955.4 1899.6,955 1905.2,954.6 1910.9,954.1 1916.5,953.6 1922.1,953.1 1927.8,952.5 1933.4,951.8 1939.1,951.2 1944.7,950.5 1950.3,949.7 1956,949 1961.6,948.2 1967.3,947.4 1972.9,946.6 1978.5,945.8 1984.2,944.9 1989.8,944.1 1995.5,943.2 2001.1,942.4 2006.7,941.6 2012.4,940.8 2018,940.1 2023.7,939.4 2029.3,938.7 2034.9,938.1 2040.6,937.6 2046.2,937.1 2051.9,936.7 2057.5,936.4 2063.1,936.1 2068.8,936 2074.4,936 2080.1,936 2085.7,936.2 2091.3,936.5 2097,936.8 2102.6,937.3 2108.3,937.9 2113.9,938.6 2119.5,939.4 2125.2,940.3 2130.8,941.3 2136.5,942.4 2142.1,943.5 2147.7,944.8 2153.4,946.1 2159,947.5 2164.7,948.9 2170.3,950.4 2175.9,951.9 2181.6,953.5 2187.2,955.1 2192.9,956.6 2198.5,958.2 2204.1,959.8 2209.8,961.4 2215.4,963 2221.1,964.5 2226.7,966.1 2232.3,967.5 2238,969 2243.6,970.4 2249.3,971.7 2254.9,973 2260.5,974.3 2266.2,975.5 2271.8,976.6 2277.5,977.7 2283.1,978.7 2288.7,979.6 2294.4,980.5 2300,981.3 2305.7,982.1 2311.3,982.8 2316.9,983.5 2322.6,984.1 2328.2,984.7 2333.2,985.1 2333.2,989.5"/><polyline class="r" points="1093.1,980.1 1098.7,979.2 1104.3,978.2 1110,977.1 1115.6,976 1121.3,974.8 1126.9,973.5 1132.5,972.2 1138.2,970.8 1143.8,969.4 1149.5,967.9 1155.1,966.4 1160.7,964.8 1166.4,963.2 1172,961.6 1177.7,959.9 1183.3,958.2 1188.9,956.6 1194.6,954.9 1200.2,953.2 1205.9,951.6 1211.5,950 1217.1,948.4 1222.8,946.9 1228.4,945.5 1234.1,944.1 1239.7,942.8 1245.3,941.6 1251,940.5 1256.6,939.5 1262.3,938.6 1267.9,937.9 1273.5,937.2 1279.2,936.7 1284.8,936.4 1290.5,936.1 1296.1,936 1301.7,936.1 1307.4,936.3 1313,936.6 1318.7,937 1324.3,937.6 1329.9,938.3 1335.6,939.1 1341.2,940 1346.9,941 1352.5,942.1 1358.1,943.2 1363.8,944.5 1369.4,945.8 1375.1,947.1 1380.7,948.4 1386.3,949.8 1392,951.2 1397.6,952.6 1403.3,954 1408.9,955.4 1414.5,956.7 1420.2,958 1425.8,959.3 1431.5,960.5 1437.1,961.6 1442.7,962.7 1448.4,963.7 1454,964.6 1459.7,965.5 1465.3,966.2 1470.9,966.9 1476.6,967.5 1482.2,968 1487.9,968.4 1493.5,968.8 1499.1,969 1504.8,969.2 1510.4,969.3 1516.1,969.3 1521.7,969.2 1527.3,969.1 1533,968.9 1538.6,968.6 1544.3,968.3 1549.9,968 1555.5,967.6 1561.2,967.1 1566.8,966.6 1572.5,966.1 1578.1,965.6 1583.7,965 1589.4,964.4 1595,963.8 1600.7,963.2 1606.3,962.6 1611.9,962.1 1617.6,961.5 1623.2,960.9 1628.9,960.4 1634.5,959.8 1640.1,959.3 1645.8,958.8 1651.4,958.4 1657.1,958 1662.7,957.6 1668.3,957.2 1674,956.9 1679.6,956.6 1685.3,956.4 1690.9,956.2 1696.5,956 1702.2,955.9 1707.8,955.8 1713.5,955.7 1719.1,955.7 1724.7,955.7 1730.4,955.7 1736,955.8 1741.7,955.9 1747.3,956 1752.9,956.1 1758.6,956.2 1764.2,956.3 1769.9,956.4 1775.5,956.6 1781.1,956.7 1786.8,956.8 1792.4,957 1798.1,957.1 1803.7,957.2 1809.3,957.3 1815,957.3 1820.6,957.4 1826.3,957.4 1831.9,957.4 1837.5,957.4 1843.2,957.4 1848.8,957.3 1854.5,957.2 1860.1,957 1865.7,956.9 1871.4,956.6 1877,956.4 1882.7,956.1 1888.3,955.8 1893.9,955.4 1899.6,955 1905.2,954.6 1910.9,954.1 1916.5,953.6 1922.1,953.1 1927.8,952.5 1933.4,951.8 1939.1,951.2 1944.7,950.5 1950.3,949.7 1956,949 1961.6,948.2 1967.3,947.4 1972.9,946.6 1978.5,945.8 1984.2,944.9 1989.8,944.1 1995.5,943.2 2001.1,942.4 2006.7,941.6 2012.4,940.8 2018,940.1 2023.7,939.4 2029.3,938.7 2034.9,938.1 2040.6,937.6 2046.2,937.1 2051.9,936.7 2057.5,936.4 2063.1,936.1 2068.8,936 2074.4,936 2080.1,936 2085.7,936.2 2091.3,936.5 2097,936.8 2102.6,937.3 2108.3,937.9 2113.9,938.6 2119.5,939.4 2125.2,940.3 2130.8,941.3 2136.5,942.4 2142.1,943.5 2147.7,944.8 2153.4,946.1 2159,947.5 2164.7,948.9 2170.3,950.4 2175.9,951.9 2181.6,953.5 2187.2,955.1 2192.9,956.6 2198.5,958.2 2204.1,959.8 2209.8,961.4 2215.4,963 2221.1,964.5 2226.7,966.1 2232.3,967.5 2238,969 2243.6,970.4 2249.3,971.7 2254.9,973 2260.5,974.3 2266.2,975.5 2271.8,976.6 2277.5,977.7 2283.1,978.7 2288.7,979.6 2294.4,980.5 2300,981.3 2305.7,982.1 2311.3,982.8 2316.9,983.5 2322.6,984.1 2328.2,984.7 2333.2,985.1"/>
<g><use href="#p" x="1295" y="997.5"/><use href="#p" x="1295" y="999.3"/><use href="#p" x="1295" y="1001.1"/><use href="#p" x="1295" y="1002.8"/><use href="#p" x="1295" y="1004.6"/><use href="#p" x="1295" y="1006.3"/><use href="#p" x="1295" y="1008.1"/><use href="#p" x="1295" y="1009.9"/><use href="#p" x="1295" y="1011.6"/><use href="#p" x="1295" y="1013.4"/><use href="#p" x="1295" y="1015.1"/><use href="#p" x="1295" y="1016.9"/><use href="#p" x="1295" y="1018.7"/><use href="#p" x="1295" y="1020.4"/><use href="#p" x="1295" y="1022.2"/><use href="#p" x="1295" y="1023.9"/><use href="#p" x="1295" y="1025.7"/><use href="#p" x="1295" y="1027.5"/><use href="#p" x="1295" y="1029.2"/><use href="#p" x="1295" y="1031"/><use href="#p" x="1295" y="1032.8"/><use href="#p" x="1295" y="1034.5"/><use href="#p" x="1295" y="1036.3"/><use href="#p" x="1295" y="1038"/><use href="#p" x="1295" y="1039.8"/><use href="#p" x="1295" y="1041.5"/><use href="#p" x="1428.6" y="998.9"/><use href="#p" x="1452.1" y="1024.7"/><use href="#p" x="1553.1" y="995.6"/><use href="#p" x="1553.1" y="1016.4"/><use href="#p" x="1572.7" y="1038.6"/><use href="#p" x="1577.6" y="1001.5"/><use href="#p" x="1613.4" y="1002.5"/><use href="#p" x="1613.4" y="1019.8"/><use href="#p" x="1627" y="998.6"/><use href="#p" x="1629" y="1037.6"/><use href="#p" x="1642.5" y="1026.7"/><use href="#p" x="1655.8" y="1029.7"/><use href="#p" x="1657.1" y="1037"/><use href="#p" x="1666.4" y="1034.7"/><use href="#p" x="1671.4" y="1009.8"/><use href="#p" x="1679.6" y="1003.2"/><use href="#p" x="1681.3" y="1035.7"/><use href="#p" x="1684.6" y="1037"/><use href="#p" x="1688.9" y="1041.3"/><use href="#p" x="1696.2" y="1036.3"/><use href="#p" x="1699.5" y="1014.8"/><use href="#p" x="1708.8" y="1015.4"/><use href="#p" x="1712.8" y="1038.6"/><use href="#p" x="1717.7" y="1024.7"/><use href="#p" x="1717.7" y="1029.7"/><use href="#p" x="1729.3" y="1006.5"/><use href="#p" x="1730.3" y="1006.5"/><use href="#p" x="1736.9" y="999.9"/><use href="#p" x="1735.3" y="1013.8"/><use href="#p" x="1741.9" y="1023.1"/><use href="#p" x="1722" y="1026.4"/><use href="#p" x="1782" y="1008.8"/><use href="#p" x="1794.9" y="1016.4"/><use href="#p" x="1784.9" y="1024.7"/><use href="#p" x="1794.9" y="1029.7"/><use href="#p" x="1806.5" y="1034.7"/><use href="#p" x="1807.5" y="1002.5"/><use href="#p" x="1818.7" y="995.6"/><use href="#p" x="1837.9" y="1008.8"/><use href="#p" x="1846.2" y="1011.5"/><use href="#p" x="1849.5" y="1012.5"/><use href="#p" x="1854.5" y="1008.2"/><use href="#p" x="1875.7" y="997.6"/><use href="#p" x="1896.6" y="1020.7"/><use href="#p" x="1912.5" y="1040.6"/><use href="#p" x="1925.7" y="1019.1"/><use href="#p" x="1941.6" y="996.6"/><use href="#p" x="1961.8" y="1012.5"/><use href="#p" x="1969.5" y="1027.7"/><use href="#p" x="1985.4" y="998.2"/><use href="#p" x="1985.4" y="1026.7"/><use href="#p" x="1994.6" y="1037.6"/><use href="#p" x="2006.9" y="1034"/><use href="#p" x="2014.8" y="1004.5"/><use href="#p" x="2032.4" y="1028"/><use href="#p" x="2035" y="1036.3"/><use href="#p" x="2036.7" y="1004.8"/><use href="#p" x="2038.4" y="1009.8"/><use href="#p" x="2042.7" y="1000.5"/><use href="#p" x="2048.3" y="1028"/><use href="#p" x="2053.3" y="1016.4"/><use href="#p" x="2059.9" y="999.9"/><use href="#p" x="2063.2" y="1008.2"/><use href="#p" x="2064.9" y="1011.5"/><use href="#p" x="2066.5" y="1013.1"/><use href="#p" x="2068.8" y="994.9"/><use href="#p" x="2064.9" y="1024.7"/><use href="#p" x="2074.8" y="1026.4"/><use href="#p" x="2078.1" y="1033"/><use href="#p" x="2078.1" y="1009.8"/><use href="#p" x="2079.8" y="1013.1"/><use href="#p" x="2089.7" y="1006.5"/><use href="#p" x="2091.4" y="1018.1"/><use href="#p" x="2099.6" y="1002.5"/><use href="#p" x="2103" y="1014.8"/><use href="#p" x="2106.3" y="1011.5"/><use href="#p" x="2107.9" y="1026.4"/><use href="#p" x="2111.2" y="998.2"/><use href="#p" x="2112.9" y="1004.8"/><use href="#p" x="2111.2" y="1036.3"/><use href="#p" x="2126.1" y="995.6"/><use href="#p" x="2127.8" y="997.6"/><use href="#p" x="2126.8" y="1013.1"/><use href="#p" x="2127.8" y="1023.1"/><use href="#p" x="2129.5" y="1024.7"/><use href="#p" x="2128.8" y="1033"/><use href="#p" x="2137.7" y="997.2"/><use href="#p" x="2141" y="1039"/><use href="#p" x="2152.6" y="1040.6"/><use href="#p" x="2157.6" y="995.6"/><use href="#p" x="2161.9" y="1030.7"/><use href="#p" x="2169.2" y="1006.5"/><use href="#p" x="2169.2" y="1039"/><use href="#p" x="2056.6" y="1019.8"/><use href="#p" x="2061.5" y="1014.8"/><use href="#p" x="2069.8" y="1006.5"/><use href="#p" x="2073.1" y="1016.4"/><use href="#p" x="2083.1" y="1021.4"/><use href="#p" x="2096.3" y="1009.8"/></g>
<polygon class="f" fill="#00BFC4" points="1093.1,1106.5 1093.1,1089.7 1098.7,1088 1104.3,1086.2 1110,1084.3 1115.6,1082.3 1121.3,1080.2 1126.9,1077.9 1132.5,1075.6 1138.2,1073.1 1143.8,1070.5 1149.5,1067.9 1155.1,1065.2 1160.7,1062.4 1166.4,1059.5 1172,1056.6 1177.7,1053.6 1183.3,1050.7 1188.9,1047.7 1194.6,1044.7 1200.2,1041.7 1205.9,1038.8 1211.5,1036 1217.1,1033.2 1222.8,1030.5 1228.4,1027.9 1234.1,1025.5 1239.7,1023.2 1245.3,1021.1 1251,1019.2 1256.6,1017.4 1262.3,1015.9 1267.9,1014.6 1273.5,1013.5 1279.2,1012.7 1284.8,1012.1 1290.5,1011.8 1296.1,1011.7 1301.7,1011.9 1307.4,1012.3 1313,1013 1318.7,1013.9 1324.3,1015.1 1329.9,1016.4 1335.6,1018 1341.2,1019.9 1346.9,1021.9 1352.5,1024 1358.1,1026.4 1363.8,1028.8 1369.4,1031.4 1375.1,1034.1 1380.7,1036.9 1386.3,1039.8 1392,1042.7 1397.6,1045.6 1403.3,1048.6 1408.9,1051.5 1414.5,1054.5 1420.2,1057.3 1425.8,1060.2 1431.5,1063 1437.1,1065.7 1442.7,1068.3 1448.4,1070.9 1454,1073.3 1459.7,1075.6 1465.3,1077.8 1470.9,1079.9 1476.6,1081.9 1482.2,1083.8 1487.9,1085.5 1493.5,1087.1 1499.1,1088.6 1504.8,1090 1510.4,1091.3 1516.1,1092.4 1521.7,1093.4 1527.3,1094.4 1533,1095.2 1538.6,1095.9 1544.3,1096.6 1549.9,1097.2 1555.5,1097.6 1561.2,1098.1 1566.8,1098.4 1572.5,1098.7 1578.1,1098.9 1583.7,1099.1 1589.4,1099.2 1595,1099.3 1600.7,1099.4 1606.3,1099.4 1611.9,1099.4 1617.6,1099.4 1623.2,1099.3 1628.9,1099.3 1634.5,1099.2 1640.1,1099.1 1645.8,1099.1 1651.4,1099 1657.1,1098.9 1662.7,1098.8 1668.3,1098.7 1674,1098.6 1679.6,1098.5 1685.3,1098.5 1690.9,1098.4 1696.5,1098.3 1702.2,1098.2 1707.8,1098.1 1713.5,1098 1719.1,1097.9 1724.7,1097.8 1730.4,1097.7 1736,1097.6 1741.7,1097.5 1747.3,1097.3 1752.9,1097.2 1758.6,1097 1764.2,1096.8 1769.9,1096.6 1775.5,1096.3 1781.1,1096.1 1786.8,1095.8 1792.4,1095.4 1798.1,1095.1 1803.7,1094.7 1809.3,1094.2 1815,1093.8 1820.6,1093.3 1826.3,1092.7 1831.9,1092.1 1837.5,1091.5 1843.2,1090.9 1848.8,1090.2 1854.5,1089.5 1860.1,1088.8 1865.7,1088 1871.4,1087.2 1877,1086.3 1882.7,1085.5 1888.3,1084.6 1893.9,1083.7 1899.6,1082.8 1905.2,1081.9 1910.9,1081 1916.5,1080 1922.1,1079.1 1927.8,1078.2 1933.4,1077.2 1939.1,1076.3 1944.7,1075.4 1950.3,1074.5 1956,1073.7 1961.6,1072.8 1967.3,1072 1972.9,1071.2 1978.5,1070.5 1984.2,1069.8 1989.8,1069.1 1995.5,1068.5 2001.1,1068 2006.7,1067.5 2012.4,1067 2018,1066.6 2023.7,1066.3 2029.3,1066.1 2034.9,1065.9 2040.6,1065.8 2046.2,1065.7 2051.9,1065.8 2057.5,1065.9 2063.1,1066 2068.8,1066.3 2074.4,1066.6 2080.1,1067 2085.7,1067.5 2091.3,1068.1 2097,1068.7 2102.6,1069.4 2108.3,1070.1 2113.9,1070.9 2119.5,1071.8 2125.2,1072.7 2130.8,1073.7 2136.5,1074.7 2142.1,1075.7 2147.7,1076.8 2153.4,1077.9 2159,1079 2164.7,1080.1 2170.3,1081.3 2175.9,1082.4 2181.6,1083.6 2187.2,1084.7 2192.9,1085.9 2198.5,1087 2204.1,1088.1 2209.8,1089.2 2215.4,1090.3 2221.1,1091.3 2226.7,1092.3 2232.3,1093.3 2238,1094.2 2243.6,1095.1 2249.3,1096 2254.9,1096.8 2260.5,1097.6 2266.2,1098.3 2271.8,1099 2277.5,1099.7 2283.1,1100.3 2288.7,1100.8 2294.4,1101.4 2300,1101.9 2301,1102 2301,1106.5"/><polyline class="r" points="1093.1,1089.7 1098.7,1088 1104.3,1086.2 1110,1084.3 1115.6,1082.3 1121.3,1080.2 1126.9,1077.9 1132.5,1075.6 1138.2,1073.1 1143.8,1070.5 1149.5,1067.9 1155.1,1065.2 1160.7,1062.4 1166.4,1059.5 1172,1056.6 1177.7,1053.6 1183.3,1050.7 1188.9,1047.7 1194.6,1044.7 1200.2,1041.7 1205.9,1038.8 1211.5,1036 1217.1,1033.2 1222.8,1030.5 1228.4,1027.9 1234.1,1025.5 1239.7,1023.2 1245.3,1021.1 1251,1019.2 1256.6,1017.4 1262.3,1015.9 1267.9,1014.6 1273.5,1013.5 1279.2,1012.7 1284.8,1012.1 1290.5,1011.8 1296.1,1011.7 1301.7,1011.9 1307.4,1012.3 1313,1013 1318.7,1013.9 1324.3,1015.1 1329.9,1016.4 1335.6,1018 1341.2,1019.9 1346.9,1021.9 1352.5,1024 1358.1,1026.4 1363.8,1028.8 1369.4,1031.4 1375.1,1034.1 1380.7,1036.9 1386.3,1039.8 1392,1042.7 1397.6,1045.6 1403.3,1048.6 1408.9,1051.5 1414.5,1054.5 1420.2,1057.3 1425.8,1060.2 1431.5,1063 1437.1,1065.7 1442.7,1068.3 1448.4,1070.9 1454,1073.3 1459.7,1075.6 1465.3,1077.8 1470.9,1079.9 1476.6,1081.9 1482.2,1083.8 1487.9,1085.5 1493.5,1087.1 1499.1,1088.6 1504.8,1090 1510.4,1091.3 1516.1,1092.4 1521.7,1093.4 1527.3,1094.4 1533,1095.2 1538.6,1095.9 1544.3,1096.6 1549.9,1097.2 1555.5,1097.6 1561.2,1098.1 1566.8,1098.4 1572.5,1098.7 1578.1,1098.9 1583.7,1099.1 1589.4,1099.2 1595,1099.3 1600.7,1099.4 1606.3,1099.4 1611.9,1099.4 1617.6,1099.4 1623.2,1099.3 1628.9,1099.3 1634.5,1099.2 1640.1,1099.1 1645.8,1099.1 1651.4,1099 1657.1,1098.9 1662.7,1098.8 1668.3,1098.7 1674,1098.6 1679.6,1098.5 1685.3,1098.5 1690.9,1098.4 1696.5,1098.3 1702.2,1098.2 1707.8,1098.1 1713.5,1098 1719.1,1097.9 1724.7,1097.8 1730.4,1097.7 1736,1097.6 1741.7,1097.5 1747.3,1097.3 1752.9,1097.2 1758.6,1097 1764.2,1096.8 1769.9,1096.6 1775.5,1096.3 1781.1,1096.1 1786.8,1095.8 1792.4,1095.4 1798.1,1095.1 1803.7,1094.7 1809.3,1094.2 1815,1093.8 1820.6,1093.3 1826.3,1092.7 1831.9,1092.1 1837.5,1091.5 1843.2,1090.9 1848.8,1090.2 1854.5,1089.5 1860.1,1088.8 1865.7,1088 1871.4,1087.2 1877,1086.3 1882.7,1085.5 1888.3,1084.6 1893.9,1083.7 1899.6,1082.8 1905.2,1081.9 1910.9,1081 1916.5,1080 1922.1,1079.1 1927.8,1078.2 1933.4,1077.2 1939.1,1076.3 1944.7,1075.4 1950.3,1074.5 1956,1073.7 1961.6,1072.8 1967.3,1072 1972.9,1071.2 1978.5,1070.5 1984.2,1069.8 1989.8,1069.1 1995.5,1068.5 2001.1,1068 2006.7,1067.5 2012.4,1067 2018,1066.6 2023.7,1066.3 2029.3,1066.1 2034.9,1065.9 2040.6,1065.8 2046.2,1065.7 2051.9,1065.8 2057.5,1065.9 2063.1,1066 2068.8,1066.3 2074.4,1066.6 2080.1,1067 2085.7,1067.5 2091.3,1068.1 2097,1068.7 2102.6,1069.4 2108.3,1070.1 2113.9,1070.9 2119.5,1071.8 2125.2,1072.7 2130.8,1073.7 2136.5,1074.7 2142.1,1075.7 2147.7,1076.8 2153.4,1077.9 2159,1079 2164.7,1080.1 2170.3,1081.3 2175.9,1082.4 2181.6,1083.6 2187.2,1084.7 2192.9,1085.9 2198.5,1087 2204.1,1088.1 2209.8,1089.2 2215.4,1090.3 2221.1,1091.3 2226.7,1092.3 2232.3,1093.3 2238,1094.2 2243.6,1095.1 2249.3,1096 2254.9,1096.8 2260.5,1097.6 2266.2,1098.3 2271.8,1099 2277.5,1099.7 2283.1,1100.3 2288.7,1100.8 2294.4,1101.4 2300,1101.9 2301,1102"/>
<g><use href="#p" x="1295" y="1115"/><use href="#p" x="1295" y="1118"/><use href="#p" x="1295" y="1121.1"/><use href="#p" x="1295" y="1124.1"/><use href="#p" x="1295" y="1127.2"/><use href="#p" x="1295" y="1130.2"/><use href="#p" x="1295" y="1133.3"/><use href="#p" x="1295" y="1136.3"/><use href="#p" x="1295" y="1139.4"/><use href="#p" x="1295" y="1142.4"/><use href="#p" x="1295" y="1145.5"/><use href="#p" x="1295" y="1148.5"/><use href="#p" x="1295" y="1156.5"/><use href="#p" x="1679" y="1142.7"/><use href="#p" x="1961.2" y="1121.8"/><use href="#p" x="1967.8" y="1136.7"/><use href="#p" x="2011.9" y="1125.1"/><use href="#p" x="2081.4" y="1134.1"/><use href="#p" x="2102" y="1124.5"/><use href="#p" x="2128.8" y="1144.3"/></g>
<polygon class="f" fill="#00C19F" points="1153.9,1223.5 1153.9,1218.3 1159.6,1218 1165.2,1217.6 1170.9,1217.2 1176.5,1216.8 1182.1,1216.5 1187.8,1216.1 1193.4,1215.7 1199.1,1215.3 1204.7,1214.9 1210.3,1214.5 1216,1214.1 1221.6,1213.8 1227.3,1213.4 1232.9,1213.1 1238.5,1212.7 1244.2,1212.4 1249.8,1212.2 1255.5,1211.9 1261.1,1211.6 1266.7,1211.4 1272.4,1211.2 1278,1211 1283.7,1210.9 1289.3,1210.8 1294.9,1210.7 1300.6,1210.6 1306.2,1210.6 1311.9,1210.6 1317.5,1210.6 1323.1,1210.6 1328.8,1210.6 1334.4,1210.7 1340.1,1210.8 1345.7,1210.9 1351.3,1211 1357,1211.2 1362.6,1211.3 1368.3,1211.4 1373.9,1211.6 1379.5,1211.7 1385.2,1211.9 1390.8,1212 1396.5,1212.1 1402.1,1212.3 1407.7,1212.4 1413.4,1212.4 1419,1212.5 1424.7,1212.6 1430.3,1212.6 1435.9,1212.6 1441.6,1212.6 1447.2,1212.5 1452.9,1212.4 1458.5,1212.3 1464.1,1212.2 1469.8,1212 1475.4,1211.8 1481.1,1211.5 1486.7,1211.3 1492.3,1210.9 1498,1210.6 1503.6,1210.2 1509.3,1209.8 1514.9,1209.4 1520.5,1208.9 1526.2,1208.4 1531.8,1207.9 1537.5,1207.3 1543.1,1206.7 1548.7,1206.1 1554.4,1205.5 1560,1204.8 1565.7,1204.1 1571.3,1203.4 1576.9,1202.7 1582.6,1202 1588.2,1201.3 1593.9,1200.5 1599.5,1199.8 1605.1,1199 1610.8,1198.2 1616.4,1197.5 1622.1,1196.7 1627.7,1196 1633.3,1195.3 1639,1194.6 1644.6,1193.9 1650.3,1193.2 1655.9,1192.6 1661.5,1192 1667.2,1191.4 1672.8,1190.8 1678.5,1190.3 1684.1,1189.9 1689.7,1189.5 1695.4,1189.1 1701,1188.8 1706.7,1188.5 1712.3,1188.2 1717.9,1188 1723.6,1187.9 1729.2,1187.8 1734.9,1187.7 1740.5,1187.7 1746.1,1187.7 1751.8,1187.8 1757.4,1187.8 1763.1,1188 1768.7,1188.1 1774.3,1188.2 1780,1188.4 1785.6,1188.5 1791.3,1188.7 1796.9,1188.9 1802.5,1189 1808.2,1189.2 1813.8,1189.3 1819.5,1189.4 1825.1,1189.5 1830.7,1189.6 1836.4,1189.6 1842,1189.5 1847.7,1189.5 1853.3,1189.3 1858.9,1189.2 1864.6,1188.9 1870.2,1188.7 1875.9,1188.3 1881.5,1187.9 1887.1,1187.4 1892.8,1186.9 1898.4,1186.3 1904.1,1185.6 1909.7,1184.8 1915.3,1184 1921,1183.1 1926.6,1182.2 1932.3,1181.1 1937.9,1180 1943.5,1178.8 1949.2,1177.6 1954.8,1176.2 1960.5,1174.8 1966.1,1173.4 1971.7,1171.8 1977.4,1170.3 1983,1168.6 1988.7,1166.9 1994.3,1165.2 1999.9,1163.4 2005.6,1161.7 2011.2,1159.8 2016.9,1158 2022.5,1156.2 2028.1,1154.4 2033.8,1152.6 2039.4,1150.8 2045.1,1149.1 2050.7,1147.4 2056.3,1145.8 2062,1144.2 2067.6,1142.8 2073.3,1141.5 2078.9,1140.3 2084.5,1139.2 2090.2,1138.2 2095.8,1137.4 2101.5,1136.8 2107.1,1136.3 2112.7,1136 2118.4,1135.9 2124,1136 2129.7,1136.2 2135.3,1136.7 2140.9,1137.3 2146.6,1138.2 2152.2,1139.2 2157.9,1140.4 2163.5,1141.8 2169.1,1143.3 2174.8,1145 2180.4,1146.9 2186.1,1148.9 2191.7,1151 2197.3,1153.2 2203,1155.6 2208.6,1158 2214.3,1160.5 2219.9,1163 2225.5,1165.6 2231.2,1168.3 2236.8,1170.9 2242.5,1173.5 2248.1,1176.2 2253.7,1178.8 2259.4,1181.4 2265,1183.9 2270.7,1186.4 2276.3,1188.8 2281.9,1191.1 2287.6,1193.4 2293.2,1195.6 2298.9,1197.6 2304.5,1199.6 2310.1,1201.5 2315.8,1203.3 2321.4,1205 2327.1,1206.6 2332.7,1208.1 2338.3,1209.5 2340.1,1210 2340.1,1223.5"/><polyline class="r" points="1153.9,1218.3 1159.6,1218 1165.2,1217.6 1170.9,1217.2 1176.5,1216.8 1182.1,1216.5 1187.8,1216.1 1193.4,1215.7 1199.1,1215.3 1204.7,1214.9 1210.3,1214.5 1216,1214.1 1221.6,1213.8 1227.3,1213.4 1232.9,1213.1 1238.5,1212.7 1244.2,1212.4 1249.8,1212.2 1255.5,1211.9 1261.1,1211.6 1266.7,1211.4 1272.4,1211.2 1278,1211 1283.7,1210.9 1289.3,1210.8 1294.9,1210.7 1300.6,1210.6 1306.2,1210.6 1311.9,1210.6 1317.5,1210.6 1323.1,1210.6 1328.8,1210.6 1334.4,1210.7 1340.1,1210.8 1345.7,1210.9 1351.3,1211 1357,1211.2 1362.6,1211.3 1368.3,1211.4 1373.9,1211.6 1379.5,1211.7 1385.2,1211.9 1390.8,1212 1396.5,1212.1 1402.1,1212.3 1407.7,1212.4 1413.4,1212.4 1419,1212.5 1424.7,1212.6 1430.3,1212.6 1435.9,1212.6 1441.6,1212.6 1447.2,1212.5 1452.9,1212.4 1458.5,1212.3 1464.1,1212.2 1469.8,1212 1475.4,1211.8 1481.1,1211.5 1486.7,1211.3 1492.3,1210.9 1498,1210.6 1503.6,1210.2 1509.3,1209.8 1514.9,1209.4 1520.5,1208.9 1526.2,1208.4 1531.8,1207.9 1537.5,1207.3 1543.1,1206.7 1548.7,1206.1 1554.4,1205.5 1560,1204.8 1565.7,1204.1 1571.3,1203.4 1576.9,1202.7 1582.6,1202 1588.2,1201.3 1593.9,1200.5 1599.5,1199.8 1605.1,1199 1610.8,1198.2 1616.4,1197.5 1622.1,1196.7 1627.7,1196 1633.3,1195.3 1639,1194.6 1644.6,1193.9 1650.3,1193.2 1655.9,1192.6 1661.5,1192 1667.2,1191.4 1672.8,1190.8 1678.5,1190.3 1684.1,1189.9 1689.7,1189.5 1695.4,1189.1 1701,1188.8 1706.7,1188.5 1712.3,1188.2 1717.9,1188 1723.6,1187.9 1729.2,1187.8 1734.9,1187.7 1740.5,1187.7 1746.1,1187.7 1751.8,1187.8 1757.4,1187.8 1763.1,1188 1768.7,1188.1 1774.3,1188.2 1780,1188.4 1785.6,1188.5 1791.3,1188.7 1796.9,1188.9 1802.5,1189 1808.2,1189.2 1813.8,1189.3 1819.5,1189.4 1825.1,1189.5 1830.7,1189.6 1836.4,1189.6 1842,1189.5 1847.7,1189.5 1853.3,1189.3 1858.9,1189.2 1864.6,1188.9 1870.2,1188.7 1875.9,1188.3 1881.5,1187.9 1887.1,1187.4 1892.8,1186.9 1898.4,1186.3 1904.1,1185.6 1909.7,1184.8 1915.3,1184 1921,1183.1 1926.6,1182.2 1932.3,1181.1 1937.9,1180 1943.5,1178.8 1949.2,1177.6 1954.8,1176.2 1960.5,1174.8 1966.1,1173.4 1971.7,1171.8 1977.4,1170.3 1983,1168.6 1988.7,1166.9 1994.3,1165.2 1999.9,1163.4 2005.6,1161.7 2011.2,1159.8 2016.9,1158 2022.5,1156.2 2028.1,1154.4 2033.8,1152.6 2039.4,1150.8 2045.1,1149.1 2050.7,1147.4 2056.3,1145.8 2062,1144.2 2067.6,1142.8 2073.3,1141.5 2078.9,1140.3 2084.5,1139.2 2090.2,1138.2 2095.8,1137.4 2101.5,1136.8 2107.1,1136.3 2112.7,1136 2118.4,1135.9 2124,1136 2129.7,1136.2 2135.3,1136.7 2140.9,1137.3 2146.6,1138.2 2152.2,1139.2 2157.9,1140.4 2163.5,1141.8 2169.1,1143.3 2174.8,1145 2180.4,1146.9 2186.1,1148.9 2191.7,1151 2197.3,1153.2 2203,1155.6 2208.6,1158 2214.3,1160.5 2219.9,1163 2225.5,1165.6 2231.2,1168.3 2236.8,1170.9 2242.5,1173.5 2248.1,1176.2 2253.7,1178.8 2259.4,1181.4 2265,1183.9 2270.7,1186.4 2276.3,1188.8 2281.9,1191.1 2287.6,1193.4 2293.2,1195.6 2298.9,1197.6 2304.5,1199.6 2310.1,1201.5 2315.8,1203.3 2321.4,1205 2327.1,1206.6 2332.7,1208.1 2338.3,1209.5 2340.1,1210"/>
<g><use href="#p" x="1295" y="1256.5"/><use href="#p" x="1295" y="1259"/><use href="#p" x="1295" y="1268.5"/><use href="#p" x="1295" y="1270.5"/><use href="#p" x="1526.6" y="1253.7"/><use href="#p" x="1581.6" y="1249.7"/><use href="#p" x="1643.9" y="1235.5"/><use href="#p" x="1652.5" y="1262"/><use href="#p" x="1678" y="1259.7"/><use href="#p" x="1698.9" y="1233.5"/><use href="#p" x="1743.5" y="1241.5"/><use href="#p" x="1749.8" y="1231.5"/><use href="#p" x="1755.8" y="1250.4"/><use href="#p" x="1755.8" y="1258.7"/><use href="#p" x="1770.7" y="1230.5"/><use href="#p" x="1797.9" y="1242.5"/><use href="#p" x="1840.9" y="1251.7"/><use href="#p" x="1868.7" y="1242.5"/><use href="#p" x="1939.6" y="1243.8"/><use href="#p" x="1945.9" y="1254.7"/><use href="#p" x="2015.8" y="1244.8"/><use href="#p" x="2053.3" y="1260.7"/><use href="#p" x="2063.2" y="1260.3"/><use href="#p" x="2069.2" y="1256.4"/><use href="#p" x="2067.5" y="1271.9"/><use href="#p" x="2098" y="1249.1"/><use href="#p" x="2102.3" y="1270.3"/><use href="#p" x="2106.3" y="1254.7"/><use href="#p" x="2109.6" y="1252.1"/><use href="#p" x="2114.5" y="1272.6"/><use href="#p" x="2123.8" y="1236.5"/><use href="#p" x="2124.5" y="1255.4"/><use href="#p" x="2127.8" y="1257"/><use href="#p" x="2131.1" y="1265.3"/><use href="#p" x="2131.1" y="1271.9"/><use href="#p" x="2138.7" y="1234.5"/><use href="#p" x="2141" y="1248.8"/><use href="#p" x="2142.7" y="1250.4"/><use href="#p" x="2140.1" y="1249.7"/><use href="#p" x="2159.3" y="1257"/><use href="#p" x="2166.9" y="1253.7"/><use href="#p" x="2169.9" y="1272.6"/><use href="#p" x="2186.8" y="1254.4"/><use href="#p" x="2189.1" y="1257"/><use href="#p" x="2104.6" y="1256"/><use href="#p" x="2125.5" y="1256.4"/></g>
<polygon class="f" fill="#00BF74" points="1093.1,1340.4 1093.1,1331 1098.7,1330.1 1104.3,1329.1 1110,1328 1115.6,1326.9 1121.3,1325.7 1126.9,1324.4 1132.5,1323.1 1138.2,1321.7 1143.8,1320.3 1149.5,1318.8 1155.1,1317.3 1160.7,1315.7 1166.4,1314.1 1172,1312.5 1177.7,1310.8 1183.3,1309.2 1188.9,1307.5 1194.6,1305.8 1200.2,1304.2 1205.9,1302.5 1211.5,1300.9 1217.1,1299.4 1222.8,1297.9 1228.4,1296.4 1234.1,1295.1 1239.7,1293.8 1245.3,1292.6 1251,1291.5 1256.6,1290.5 1262.3,1289.6 1267.9,1288.9 1273.5,1288.3 1279.2,1287.8 1284.8,1287.4 1290.5,1287.2 1296.1,1287.2 1301.7,1287.2 1307.4,1287.4 1313,1287.8 1318.7,1288.2 1324.3,1288.8 1329.9,1289.6 1335.6,1290.4 1341.2,1291.4 1346.9,1292.4 1352.5,1293.5 1358.1,1294.8 1363.8,1296 1369.4,1297.4 1375.1,1298.8 1380.7,1300.2 1386.3,1301.7 1392,1303.2 1397.6,1304.7 1403.3,1306.2 1408.9,1307.7 1414.5,1309.1 1420.2,1310.5 1425.8,1311.9 1431.5,1313.2 1437.1,1314.5 1442.7,1315.7 1448.4,1316.9 1454,1317.9 1459.7,1318.9 1465.3,1319.8 1470.9,1320.7 1476.6,1321.4 1482.2,1322.1 1487.9,1322.7 1493.5,1323.2 1499.1,1323.6 1504.8,1323.9 1510.4,1324.1 1516.1,1324.2 1521.7,1324.3 1527.3,1324.3 1533,1324.2 1538.6,1324.1 1544.3,1323.8 1549.9,1323.6 1555.5,1323.2 1561.2,1322.8 1566.8,1322.3 1572.5,1321.8 1578.1,1321.3 1583.7,1320.7 1589.4,1320 1595,1319.4 1600.7,1318.6 1606.3,1317.9 1611.9,1317.1 1617.6,1316.4 1623.2,1315.6 1628.9,1314.7 1634.5,1313.9 1640.1,1313.1 1645.8,1312.2 1651.4,1311.4 1657.1,1310.5 1662.7,1309.7 1668.3,1308.9 1674,1308 1679.6,1307.2 1685.3,1306.4 1690.9,1305.6 1696.5,1304.8 1702.2,1304.1 1707.8,1303.3 1713.5,1302.6 1719.1,1301.9 1724.7,1301.2 1730.4,1300.6 1736,1300 1741.7,1299.4 1747.3,1298.8 1752.9,1298.3 1758.6,1297.8 1764.2,1297.3 1769.9,1296.9 1775.5,1296.5 1781.1,1296.1 1786.8,1295.8 1792.4,1295.5 1798.1,1295.2 1803.7,1294.9 1809.3,1294.7 1815,1294.6 1820.6,1294.4 1826.3,1294.3 1831.9,1294.2 1837.5,1294.1 1843.2,1294.1 1848.8,1294.1 1854.5,1294.1 1860.1,1294.1 1865.7,1294.1 1871.4,1294.2 1877,1294.3 1882.7,1294.4 1888.3,1294.5 1893.9,1294.7 1899.6,1294.8 1905.2,1295 1910.9,1295.1 1916.5,1295.3 1922.1,1295.5 1927.8,1295.7 1933.4,1295.9 1939.1,1296 1944.7,1296.2 1950.3,1296.4 1956,1296.6 1961.6,1296.8 1967.3,1297 1972.9,1297.1 1978.5,1297.3 1984.2,1297.5 1989.8,1297.6 1995.5,1297.8 2001.1,1297.9 2006.7,1298.1 2012.4,1298.2 2018,1298.4 2023.7,1298.5 2029.3,1298.6 2034.9,1298.8 2040.6,1298.9 2046.2,1299.1 2051.9,1299.3 2057.5,1299.5 2063.1,1299.7 2068.8,1299.9 2074.4,1300.1 2080.1,1300.4 2085.7,1300.7 2091.3,1301 2097,1301.4 2102.6,1301.8 2108.3,1302.2 2113.9,1302.7 2119.5,1303.2 2125.2,1303.8 2130.8,1304.4 2136.5,1305.1 2142.1,1305.7 2147.7,1306.5 2153.4,1307.2 2159,1308.1 2164.7,1308.9 2170.3,1309.8 2175.9,1310.7 2181.6,1311.6 2187.2,1312.6 2192.9,1313.6 2198.5,1314.6 2204.1,1315.6 2209.8,1316.7 2215.4,1317.7 2221.1,1318.7 2226.7,1319.8 2232.3,1320.8 2238,1321.8 2243.6,1322.8 2249.3,1323.8 2254.9,1324.8 2260.5,1325.7 2266.2,1326.6 2271.8,1327.5 2277.5,1328.4 2283.1,1329.2 2288.7,1330 2294.4,1330.8 2300,1331.5 2305.7,1332.2 2311.3,1332.8 2316.9,1333.4 2322.6,1334 2328.2,1334.5 2333.9,1335.1 2339.5,1335.5 2340.1,1335.6 2340.1,1340.4"/><polyline class="r" points="1093.1,1331 1098.7,1330.1 1104.3,1329.1 1110,1328 1115.6,1326.9 1121.3,1325.7 1126.9,1324.4 1132.5,1323.1 1138.2,1321.7 1143.8,1320.3 1149.5,1318.8 1155.1,1317.3 1160.7,1315.7 1166.4,1314.1 1172,1312.5 1177.7,1310.8 1183.3,1309.2 1188.9,1307.5 1194.6,1305.8 1200.2,1304.2 1205.9,1302.5 1211.5,1300.9 1217.1,1299.4 1222.8,1297.9 1228.4,1296.4 1234.1,1295.1 1239.7,1293.8 1245.3,1292.6 1251,1291.5 1256.6,1290.5 1262.3,1289.6 1267.9,1288.9 1273.5,1288.3 1279.2,1287.8 1284.8,1287.4 1290.5,1287.2 1296.1,1287.2 1301.7,1287.2 1307.4,1287.4 1313,1287.8 1318.7,1288.2 1324.3,1288.8 1329.9,1289.6 1335.6,1290.4 1341.2,1291.4 1346.9,1292.4 1352.5,1293.5 1358.1,1294.8 1363.8,1296 1369.4,1297.4 1375.1,1298.8 1380.7,1300.2 1386.3,1301.7 1392,1303.2 1397.6,1304.7 1403.3,1306.2 1408.9,1307.7 1414.5,1309.1 1420.2,1310.5 1425.8,1311.9 1431.5,1313.2 1437.1,1314.5 1442.7,1315.7 1448.4,1316.9 1454,1317.9 1459.7,1318.9 1465.3,1319.8 1470.9,1320.7 1476.6,1321.4 1482.2,1322.1 1487.9,1322.7 1493.5,1323.2 1499.1,1323.6 1504.8,1323.9 1510.4,1324.1 1516.1,1324.2 1521.7,1324.3 1527.3,1324.3 1533,1324.2 1538.6,1324.1 1544.3,1323.8 1549.9,1323.6 1555.5,1323.2 1561.2,1322.8 1566.8,1322.3 1572.5,1321.8 1578.1,1321.3 1583.7,1320.7 1589.4,1320 1595,1319.4 1600.7,1318.6 1606.3,1317.9 1611.9,1317.1 1617.6,1316.4 1623.2,1315.6 1628.9,1314.7 1634.5,1313.9 1640.1,1313.1 1645.8,1312.2 1651.4,1311.4 1657.1,1310.5 1662.7,1309.7 1668.3,1308.9 1674,1308 1679.6,1307.2 1685.3,1306.4 1690.9,1305.6 1696.5,1304.8 1702.2,1304.1 1707.8,1303.3 1713.5,1302.6 1719.1,1301.9 1724.7,1301.2 1730.4,1300.6 1736,1300 1741.7,1299.4 1747.3,1298.8 1752.9,1298.3 1758.6,1297.8 1764.2,1297.3 1769.9,1296.9 1775.5,1296.5 1781.1,1296.1 1786.8,1295.8 1792.4,1295.5 1798.1,1295.2 1803.7,1294.9 1809.3,1294.7 1815,1294.6 1820.6,1294.4 1826.3,1294.3 1831.9,1294.2 1837.5,1294.1 1843.2,1294.1 1848.8,1294.1 1854.5,1294.1 1860.1,1294.1 1865.7,1294.1 1871.4,1294.2 1877,1294.3 1882.7,1294.4 1888.3,1294.5 1893.9,1294.7 1899.6,1294.8 1905.2,1295 1910.9,1295.1 1916.5,1295.3 1922.1,1295.5 1927.8,1295.7 1933.4,1295.9 1939.1,1296 1944.7,1296.2 1950.3,1296.4 1956,1296.6 1961.6,1296.8 1967.3,1297 1972.9,1297.1 1978.5,1297.3 1984.2,1297.5 1989.8,1297.6 1995.5,1297.8 2001.1,1297.9 2006.7,1298.1 2012.4,1298.2 2018,1298.4 2023.7,1298.5 2029.3,1298.6 2034.9,1298.8 2040.6,1298.9 2046.2,1299.1 2051.9,1299.3 2057.5,1299.5 2063.1,1299.7 2068.8,1299.9 2074.4,1300.1 2080.1,1300.4 2085.7,1300.7 2091.3,1301 2097,1301.4 2102.6,1301.8 2108.3,1302.2 2113.9,1302.7 2119.5,1303.2 2125.2,1303.8 2130.8,1304.4 2136.5,1305.1 2142.1,1305.7 2147.7,1306.5 2153.4,1307.2 2159,1308.1 2164.7,1308.9 2170.3,1309.8 2175.9,1310.7 2181.6,1311.6 2187.2,1312.6 2192.9,1313.6 2198.5,1314.6 2204.1,1315.6 2209.8,1316.7 2215.4,1317.7 2221.1,1318.7 2226.7,1319.8 2232.3,1320.8 2238,1321.8 2243.6,1322.8 2249.3,1323.8 2254.9,1324.8 2260.5,1325.7 2266.2,1326.6 2271.8,1327.5 2277.5,1328.4 2283.1,1329.2 2288.7,1330 2294.4,1330.8 2300,1331.5 2305.7,1332.2 2311.3,1332.8 2316.9,1333.4 2322.6,1334 2328.2,1334.5 2333.9,1335.1 2339.5,1335.5 2340.1,1335.6"/>
<g><use href="#p" x="1295" y="1348.4"/><use href="#p" x="1295" y="1350.2"/><use href="#p" x="1295" y="1351.9"/><use href="#p" x="1295" y="1353.7"/><use href="#p" x="1295" y="1355.4"/><use href="#p" x="1295" y="1357.2"/><use href="#p" x="1295" y="1359"/><use href="#p" x="1295" y="1360.7"/><use href="#p" x="1295" y="1362.5"/><use href="#p" x="1295" y="1364.2"/><use href="#p" x="1295" y="1366"/><use href="#p" x="1295" y="1367.8"/><use href="#p" x="1295" y="1369.5"/><use href="#p" x="1295" y="1371.3"/><use href="#p" x="1295" y="1373"/><use href="#p" x="1295" y="1374.8"/><use href="#p" x="1295" y="1376.6"/><use href="#p" x="1295" y="1378.3"/><use href="#p" x="1295" y="1380.1"/><use href="#p" x="1295" y="1381.8"/><use href="#p" x="1295" y="1383.6"/><use href="#p" x="1295" y="1385.4"/><use href="#p" x="1295" y="1387.1"/><use href="#p" x="1295" y="1388.9"/><use href="#p" x="1295" y="1390.6"/><use href="#p" x="1295" y="1392.4"/><use href="#p" x="1731.9" y="1349.7"/><use href="#p" x="1783" y="1388"/><use href="#p" x="1748.4" y="1365.8"/><use href="#p" x="1768.5" y="1366.7"/><use href="#p" x="1732.1" y="1359.2"/><use href="#p" x="1744.3" y="1373"/><use href="#p" x="1735.9" y="1380.1"/><use href="#p" x="1786.6" y="1365.1"/><use href="#p" x="1761.2" y="1376.1"/><use href="#p" x="1775.7" y="1375.8"/><use href="#p" x="1757.8" y="1379.7"/><use href="#p" x="1726.6" y="1389.3"/><use href="#p" x="1782.1" y="1378.6"/><use href="#p" x="1737.8" y="1375.6"/><use href="#p" x="1726.8" y="1365.7"/><use href="#p" x="1738.7" y="1372.8"/><use href="#p" x="1740.9" y="1352.4"/><use href="#p" x="1775.4" y="1359.3"/><use href="#p" x="1760.6" y="1349.1"/><use href="#p" x="1760.8" y="1382.7"/><use href="#p" x="1774.9" y="1362.7"/><use href="#p" x="1733.2" y="1374.9"/><use href="#p" x="1744.5" y="1360.8"/><use href="#p" x="1738.4" y="1365.5"/><use href="#p" x="1849.6" y="1365.9"/><use href="#p" x="1846.4" y="1380.1"/><use href="#p" x="1861.1" y="1373.2"/><use href="#p" x="1877.2" y="1370.2"/><use href="#p" x="1836.6" y="1377"/><use href="#p" x="1875.5" y="1378.9"/><use href="#p" x="1870.6" y="1355.3"/><use href="#p" x="1826.3" y="1379"/><use href="#p" x="1854.1" y="1384.5"/><use href="#p" x="1812.3" y="1362.1"/><use href="#p" x="1825.5" y="1365.5"/><use href="#p" x="1796.8" y="1365.4"/><use href="#p" x="1846" y="1380.6"/><use href="#p" x="1809.1" y="1375.4"/><use href="#p" x="1855.8" y="1355.2"/><use href="#p" x="1789.8" y="1355.4"/><use href="#p" x="1849.3" y="1388.1"/><use href="#p" x="1823.2" y="1362"/><use href="#p" x="1844.7" y="1362.2"/><use href="#p" x="1792" y="1359.1"/><use href="#p" x="1842.3" y="1368.3"/><use href="#p" x="1819.6" y="1365.5"/><use href="#p" x="1800.8" y="1381.8"/><use href="#p" x="1822" y="1378.4"/><use href="#p" x="1839.3" y="1387.6"/><use href="#p" x="1922.8" y="1354.2"/><use href="#p" x="1903.4" y="1348.9"/><use href="#p" x="1920.5" y="1358.4"/><use href="#p" x="1933" y="1358.2"/><use href="#p" x="1906.6" y="1369.8"/><use href="#p" x="1924.6" y="1374.3"/><use href="#p" x="1927.6" y="1362.3"/><use href="#p" x="1883.5" y="1356.5"/><use href="#p" x="1880.6" y="1379.2"/><use href="#p" x="1916.6" y="1381.2"/><use href="#p" x="1922" y="1353.8"/><use href="#p" x="1881.6" y="1377.1"/><use href="#p" x="1878.1" y="1363.1"/><use href="#p" x="1911.1" y="1376.8"/><use href="#p" x="1912.7" y="1389.7"/><use href="#p" x="1932.9" y="1361.9"/><use href="#p" x="1895.8" y="1349.3"/><use href="#p" x="1884.8" y="1367.5"/><use href="#p" x="1914.1" y="1358.7"/><use href="#p" x="1883.6" y="1378.2"/><use href="#p" x="2005.6" y="1370.2"/><use href="#p" x="1949.2" y="1357"/><use href="#p" x="1962.7" y="1385.5"/><use href="#p" x="2032.5" y="1350.5"/><use href="#p" x="2033.6" y="1388.1"/><use href="#p" x="2018.4" y="1358.5"/><use href="#p" x="2036.8" y="1383.6"/><use href="#p" x="1949.1" y="1350"/><use href="#p" x="1974.4" y="1373.6"/><use href="#p" x="1936.9" y="1389.9"/><use href="#p" x="2005.6" y="1370.9"/><use href="#p" x="1986.5" y="1353"/><use href="#p" x="2013.6" y="1380.7"/><use href="#p" x="1936.7" y="1383.5"/><use href="#p" x="1971.9" y="1389"/><use href="#p" x="1970.6" y="1357.6"/><use href="#p" x="1955.1" y="1362.8"/><use href="#p" x="1941.8" y="1355.5"/><use href="#p" x="1984.4" y="1372.4"/><use href="#p" x="1993.4" y="1354.1"/><use href="#p" x="1936.9" y="1354.8"/><use href="#p" x="2029.7" y="1354.3"/><use href="#p" x="2006.8" y="1372.6"/><use href="#p" x="1997.9" y="1389.2"/><use href="#p" x="1961.4" y="1379"/><use href="#p" x="1989.2" y="1364.4"/><use href="#p" x="1976.8" y="1357.2"/><use href="#p" x="2066.2" y="1388.5"/><use href="#p" x="2098.4" y="1355.8"/><use href="#p" x="2108.1" y="1356.4"/><use href="#p" x="2099.7" y="1373.9"/><use href="#p" x="2107.7" y="1366.3"/><use href="#p" x="2117.2" y="1379.7"/><use href="#p" x="2087" y="1353.7"/><use href="#p" x="2075.6" y="1354.2"/><use href="#p" x="2091.3" y="1383.5"/><use href="#p" x="2104.5" y="1376.1"/><use href="#p" x="2085.7" y="1360.5"/><use href="#p" x="2108.2" y="1377.6"/><use href="#p" x="2099.8" y="1372.7"/><use href="#p" x="2107.4" y="1374"/><use href="#p" x="2075.9" y="1364.6"/><use href="#p" x="2078.7" y="1361.1"/><use href="#p" x="2113.8" y="1379.4"/><use href="#p" x="2096.8" y="1368"/><use href="#p" x="2089.2" y="1353"/><use href="#p" x="2088.5" y="1374"/><use href="#p" x="2081.1" y="1370.5"/><use href="#p" x="2119.8" y="1388.1"/><use href="#p" x="2123.7" y="1389.6"/><use href="#p" x="2159.3" y="1383.7"/><use href="#p" x="2159.8" y="1357.5"/><use href="#p" x="2126.4" y="1376.3"/><use href="#p" x="2160.9" y="1352.8"/><use href="#p" x="2120.6" y="1389.6"/><use href="#p" x="2165" y="1359.8"/><use href="#p" x="2161" y="1361.4"/><use href="#p" x="2161.6" y="1349"/><use href="#p" x="2150" y="1358.2"/><use href="#p" x="2151.4" y="1349.5"/><use href="#p" x="2152" y="1352.7"/><use href="#p" x="2141.9" y="1351.4"/><use href="#p" x="2138.9" y="1355.2"/><use href="#p" x="2136.1" y="1368.8"/><use href="#p" x="2152.6" y="1376"/><use href="#p" x="2145.8" y="1385.5"/><use href="#p" x="2140.2" y="1354.7"/><use href="#p" x="2153.9" y="1363.9"/><use href="#p" x="2166.2" y="1365.4"/><use href="#p" x="2120.5" y="1363.4"/><use href="#p" x="2167.5" y="1369.2"/><use href="#p" x="2160.7" y="1364.4"/><use href="#p" x="2150" y="1351.7"/><use href="#p" x="2129.9" y="1352.9"/><use href="#p" x="2139.8" y="1362.5"/><use href="#p" x="2202.8" y="1376.6"/><use href="#p" x="2183.8" y="1360.1"/><use href="#p" x="2170.9" y="1353.7"/><use href="#p" x="2192.2" y="1387.5"/><use href="#p" x="2180.7" y="1366.1"/><use href="#p" x="2170.2" y="1374"/><use href="#p" x="2194.6" y="1362.8"/><use href="#p" x="2192.7" y="1360.3"/><use href="#p" x="2193.8" y="1356.4"/><use href="#p" x="2212" y="1389"/><use href="#p" x="2223.6" y="1364.3"/><use href="#p" x="1496.8" y="1374.7"/><use href="#p" x="1510.7" y="1347.5"/><use href="#p" x="1527.9" y="1367.7"/><use href="#p" x="1589.5" y="1389.6"/><use href="#p" x="1616.7" y="1361.8"/><use href="#p" x="1619" y="1380.3"/><use href="#p" x="1628.3" y="1372.4"/><use href="#p" x="1634.9" y="1369.7"/><use href="#p" x="1640.6" y="1359.1"/><use href="#p" x="1639.9" y="1383.3"/><use href="#p" x="1653.1" y="1382.3"/><use href="#p" x="1657.1" y="1370.7"/><use href="#p" x="1660.8" y="1345.5"/><use href="#p" x="1653.1" y="1389.6"/><use href="#p" x="1664.7" y="1384"/><use href="#p" x="1666.4" y="1390.6"/><use href="#p" x="1674.7" y="1375.7"/><use href="#p" x="1678" y="1364.1"/><use href="#p" x="1681.3" y="1355.8"/><use href="#p" x="1684.6" y="1375.7"/><use href="#p" x="1686.3" y="1357.5"/><use href="#p" x="1687.9" y="1365.8"/><use href="#p" x="1692.2" y="1356.5"/><use href="#p" x="1705.2" y="1366.7"/><use href="#p" x="1714.1" y="1346.5"/><use href="#p" x="1714.4" y="1370.7"/><use href="#p" x="1717.7" y="1372.4"/><use href="#p" x="1725.4" y="1354.2"/><use href="#p" x="1722.7" y="1384"/><use href="#p" x="1729.3" y="1348.5"/><use href="#p" x="2050" y="1378.3"/><use href="#p" x="2222.9" y="1366.4"/><use href="#p" x="2209" y="1348.5"/></g>
<polygon class="f" fill="#00BA38" points="1112.5,1457.4 1112.5,1452 1118.2,1451.5 1123.8,1451 1129.4,1450.5 1135.1,1450 1140.7,1449.4 1146.4,1448.8 1152,1448.1 1157.6,1447.5 1163.3,1446.9 1168.9,1446.2 1174.6,1445.5 1180.2,1444.8 1185.8,1444.1 1191.5,1443.4 1197.1,1442.7 1202.8,1442 1208.4,1441.3 1214,1440.7 1219.7,1440 1225.3,1439.4 1231,1438.8 1236.6,1438.2 1242.2,1437.7 1247.9,1437.2 1253.5,1436.7 1259.2,1436.3 1264.8,1435.9 1270.4,1435.5 1276.1,1435.2 1281.7,1435 1287.4,1434.8 1293,1434.6 1298.6,1434.5 1304.3,1434.5 1309.9,1434.5 1315.6,1434.5 1321.2,1434.6 1326.8,1434.7 1332.5,1434.8 1338.1,1435 1343.8,1435.2 1349.4,1435.4 1355,1435.7 1360.7,1435.9 1366.3,1436.2 1372,1436.4 1377.6,1436.7 1383.2,1436.9 1388.9,1437.1 1394.5,1437.3 1400.2,1437.5 1405.8,1437.6 1411.4,1437.7 1417.1,1437.8 1422.7,1437.8 1428.4,1437.8 1434,1437.7 1439.6,1437.5 1445.3,1437.3 1450.9,1437 1456.6,1436.7 1462.2,1436.2 1467.8,1435.7 1473.5,1435.2 1479.1,1434.5 1484.8,1433.8 1490.4,1433 1496,1432.2 1501.7,1431.2 1507.3,1430.2 1513,1429.1 1518.6,1428 1524.2,1426.8 1529.9,1425.5 1535.5,1424.1 1541.2,1422.7 1546.8,1421.3 1552.4,1419.8 1558.1,1418.3 1563.7,1416.7 1569.4,1415.1 1575,1413.5 1580.6,1411.8 1586.3,1410.2 1591.9,1408.6 1597.6,1406.9 1603.2,1405.3 1608.8,1403.7 1614.5,1402.1 1620.1,1400.6 1625.8,1399.1 1631.4,1397.7 1637,1396.4 1642.7,1395.1 1648.3,1393.9 1654,1392.7 1659.6,1391.7 1665.2,1390.7 1670.9,1389.9 1676.5,1389.1 1682.2,1388.5 1687.8,1388 1693.4,1387.5 1699.1,1387.2 1704.7,1387 1710.4,1386.9 1716,1386.9 1721.6,1387 1727.3,1387.2 1732.9,1387.5 1738.6,1387.9 1744.2,1388.4 1749.8,1388.9 1755.5,1389.5 1761.1,1390.2 1766.8,1391 1772.4,1391.7 1778,1392.6 1783.7,1393.4 1789.3,1394.3 1795,1395.2 1800.6,1396.1 1806.2,1397.1 1811.9,1398 1817.5,1398.9 1823.2,1399.8 1828.8,1400.6 1834.4,1401.5 1840.1,1402.3 1845.7,1403.1 1851.4,1403.8 1857,1404.5 1862.6,1405.2 1868.3,1405.8 1873.9,1406.4 1879.6,1406.9 1885.2,1407.3 1890.8,1407.8 1896.5,1408.1 1902.1,1408.5 1907.8,1408.8 1913.4,1409 1919,1409.2 1924.7,1409.4 1930.3,1409.5 1936,1409.6 1941.6,1409.7 1947.2,1409.8 1952.9,1409.9 1958.5,1409.9 1964.2,1410 1969.8,1410 1975.4,1410.1 1981.1,1410.1 1986.7,1410.2 1992.4,1410.3 1998,1410.5 2003.6,1410.7 2009.3,1410.9 2014.9,1411.1 2020.6,1411.4 2026.2,1411.8 2031.8,1412.2 2037.5,1412.6 2043.1,1413.1 2048.8,1413.7 2054.4,1414.3 2060,1415 2065.7,1415.7 2071.3,1416.5 2077,1417.4 2082.6,1418.3 2088.2,1419.3 2093.9,1420.3 2099.5,1421.3 2105.2,1422.4 2110.8,1423.6 2116.4,1424.7 2122.1,1425.9 2127.7,1427.1 2133.4,1428.3 2139,1429.6 2144.6,1430.8 2150.3,1432.1 2155.9,1433.3 2161.6,1434.5 2167.2,1435.7 2172.8,1436.9 2178.5,1438.1 2184.1,1439.2 2189.8,1440.3 2195.4,1441.4 2201,1442.4 2206.7,1443.4 2212.3,1444.4 2218,1445.3 2223.6,1446.2 2229.2,1447 2234.9,1447.8 2240.5,1448.5 2246.2,1449.2 2251.8,1449.8 2257.4,1450.5 2263.1,1451 2268.7,1451.6 2274.4,1452 2278.5,1452.4 2278.5,1457.4"/><polyline class="r" points="1112.5,1452 1118.2,1451.5 1123.8,1451 1129.4,1450.5 1135.1,1450 1140.7,1449.4 1146.4,1448.8 1152,1448.1 1157.6,1447.5 1163.3,1446.9 1168.9,1446.2 1174.6,1445.5 1180.2,1444.8 1185.8,1444.1 1191.5,1443.4 1197.1,1442.7 1202.8,1442 1208.4,1441.3 1214,1440.7 1219.7,1440 1225.3,1439.4 1231,1438.8 1236.6,1438.2 1242.2,1437.7 1247.9,1437.2 1253.5,1436.7 1259.2,1436.3 1264.8,1435.9 1270.4,1435.5 1276.1,1435.2 1281.7,1435 1287.4,1434.8 1293,1434.6 1298.6,1434.5 1304.3,1434.5 1309.9,1434.5 1315.6,1434.5 1321.2,1434.6 1326.8,1434.7 1332.5,1434.8 1338.1,1435 1343.8,1435.2 1349.4,1435.4 1355,1435.7 1360.7,1435.9 1366.3,1436.2 1372,1436.4 1377.6,1436.7 1383.2,1436.9 1388.9,1437.1 1394.5,1437.3 1400.2,1437.5 1405.8,1437.6 1411.4,1437.7 1417.1,1437.8 1422.7,1437.8 1428.4,1437.8 1434,1437.7 1439.6,1437.5 1445.3,1437.3 1450.9,1437 1456.6,1436.7 1462.2,1436.2 1467.8,1435.7 1473.5,1435.2 1479.1,1434.5 1484.8,1433.8 1490.4,1433 1496,1432.2 1501.7,1431.2 1507.3,1430.2 1513,1429.1 1518.6,1428 1524.2,1426.8 1529.9,1425.5 1535.5,1424.1 1541.2,1422.7 1546.8,1421.3 1552.4,1419.8 1558.1,1418.3 1563.7,1416.7 1569.4,1415.1 1575,1413.5 1580.6,1411.8 1586.3,1410.2 1591.9,1408.6 1597.6,1406.9 1603.2,1405.3 1608.8,1403.7 1614.5,1402.1 1620.1,1400.6 1625.8,1399.1 1631.4,1397.7 1637,1396.4 1642.7,1395.1 1648.3,1393.9 1654,1392.7 1659.6,1391.7 1665.2,1390.7 1670.9,1389.9 1676.5,1389.1 1682.2,1388.5 1687.8,1388 1693.4,1387.5 1699.1,1387.2 1704.7,1387 1710.4,1386.9 1716,1386.9 1721.6,1387 1727.3,1387.2 1732.9,1387.5 1738.6,1387.9 1744.2,1388.4 1749.8,1388.9 1755.5,1389.5 1761.1,1390.2 1766.8,1391 1772.4,1391.7 1778,1392.6 1783.7,1393.4 1789.3,1394.3 1795,1395.2 1800.6,1396.1 1806.2,1397.1 1811.9,1398 1817.5,1398.9 1823.2,1399.8 1828.8,1400.6 1834.4,1401.5 1840.1,1402.3 1845.7,1403.1 1851.4,1403.8 1857,1404.5 1862.6,1405.2 1868.3,1405.8 1873.9,1406.4 1879.6,1406.9 1885.2,1407.3 1890.8,1407.8 1896.5,1408.1 1902.1,1408.5 1907.8,1408.8 1913.4,1409 1919,1409.2 1924.7,1409.4 1930.3,1409.5 1936,1409.6 1941.6,1409.7 1947.2,1409.8 1952.9,1409.9 1958.5,1409.9 1964.2,1410 1969.8,1410 1975.4,1410.1 1981.1,1410.1 1986.7,1410.2 1992.4,1410.3 1998,1410.5 2003.6,1410.7 2009.3,1410.9 2014.9,1411.1 2020.6,1411.4 2026.2,1411.8 2031.8,1412.2 2037.5,1412.6 2043.1,1413.1 2048.8,1413.7 2054.4,1414.3 2060,1415 2065.7,1415.7 2071.3,1416.5 2077,1417.4 2082.6,1418.3 2088.2,1419.3 2093.9,1420.3 2099.5,1421.3 2105.2,1422.4 2110.8,1423.6 2116.4,1424.7 2122.1,1425.9 2127.7,1427.1 2133.4,1428.3 2139,1429.6 2144.6,1430.8 2150.3,1432.1 2155.9,1433.3 2161.6,1434.5 2167.2,1435.7 2172.8,1436.9 2178.5,1438.1 2184.1,1439.2 2189.8,1440.3 2195.4,1441.4 2201,1442.4 2206.7,1443.4 2212.3,1444.4 2218,1445.3 2223.6,1446.2 2229.2,1447 2234.9,1447.8 2240.5,1448.5 2246.2,1449.2 2251.8,1449.8 2257.4,1450.5 2263.1,1451 2268.7,1451.6 2274.4,1452 2278.5,1452.4"/>
<g><use href="#p" x="1295" y="1465"/><use href="#p" x="1295" y="1468.4"/><use href="#p" x="1295" y="1473.4"/><use href="#p" x="1295" y="1485.4"/><use href="#p" x="1295" y="1499.9"/><use href="#p" x="1295" y="1502.2"/><use href="#p" x="1295" y="1504.5"/><use href="#p" x="1295" y="1506.9"/><use href="#p" x="1486.9" y="1506.9"/><use href="#p" x="1503.1" y="1480.1"/><use href="#p" x="1570.3" y="1506.9"/><use href="#p" x="1591.2" y="1476.1"/><use href="#p" x="1593.5" y="1486.1"/><use href="#p" x="1601.8" y="1482.8"/><use href="#p" x="1619" y="1493.7"/><use href="#p" x="1621.7" y="1492.7"/><use href="#p" x="1622.3" y="1468.5"/><use href="#p" x="1625" y="1469.5"/><use href="#p" x="1624" y="1481.8"/><use href="#p" x="1636.6" y="1482.8"/><use href="#p" x="1643.9" y="1496"/><use href="#p" x="1656.5" y="1482.8"/><use href="#p" x="1658.1" y="1486.1"/><use href="#p" x="1664.7" y="1488.7"/><use href="#p" x="1669.7" y="1466.2"/><use href="#p" x="1671.4" y="1467.8"/><use href="#p" x="1673.7" y="1494.3"/><use href="#p" x="1683.6" y="1505.9"/><use href="#p" x="1686.3" y="1469.5"/><use href="#p" x="1686.3" y="1484.4"/><use href="#p" x="1697.9" y="1468.5"/><use href="#p" x="1697.2" y="1493.7"/><use href="#p" x="1699.5" y="1507.6"/><use href="#p" x="1709.5" y="1496"/><use href="#p" x="1711.1" y="1497.7"/><use href="#p" x="1714.4" y="1471.2"/><use href="#p" x="1719.4" y="1472.8"/><use href="#p" x="1722.7" y="1469.5"/><use href="#p" x="1727.7" y="1482.8"/><use href="#p" x="1729.3" y="1489.4"/><use href="#p" x="1723.7" y="1471.2"/><use href="#p" x="1728.6" y="1501"/><use href="#p" x="1730.3" y="1472.8"/><use href="#p" x="1735.3" y="1487.7"/><use href="#p" x="1740.2" y="1487.7"/><use href="#p" x="1743.5" y="1507.6"/><use href="#p" x="1747.8" y="1476.1"/><use href="#p" x="1753.5" y="1463.9"/><use href="#p" x="1751.8" y="1508.6"/><use href="#p" x="1756.8" y="1505.9"/><use href="#p" x="1773.3" y="1499.3"/><use href="#p" x="1778.3" y="1490"/><use href="#p" x="1780" y="1492.7"/><use href="#p" x="1784.9" y="1499.3"/><use href="#p" x="1791.6" y="1506.9"/><use href="#p" x="1798.9" y="1471.8"/><use href="#p" x="1799.8" y="1499.3"/><use href="#p" x="1808.8" y="1477.8"/><use href="#p" x="1809.8" y="1488.7"/><use href="#p" x="1829.7" y="1500.6"/><use href="#p" x="1865.8" y="1490.7"/><use href="#p" x="1890.6" y="1507.6"/><use href="#p" x="1900.9" y="1477.8"/><use href="#p" x="1921.8" y="1466.2"/><use href="#p" x="1930.7" y="1471.8"/><use href="#p" x="1972.8" y="1464.5"/><use href="#p" x="1973.8" y="1489.4"/><use href="#p" x="1975.4" y="1481.1"/><use href="#p" x="1979.7" y="1478.8"/><use href="#p" x="1983.7" y="1507.6"/><use href="#p" x="1997.9" y="1488.7"/><use href="#p" x="2001.9" y="1501"/><use href="#p" x="2011.9" y="1499.3"/><use href="#p" x="2015.2" y="1501.6"/><use href="#p" x="2017.8" y="1495.3"/><use href="#p" x="2031.7" y="1502.6"/><use href="#p" x="2039.3" y="1493.7"/><use href="#p" x="2042.7" y="1479.4"/><use href="#p" x="2046" y="1504.3"/><use href="#p" x="2051.6" y="1466.2"/><use href="#p" x="2058.2" y="1464.5"/><use href="#p" x="2058.2" y="1487.7"/><use href="#p" x="2066.5" y="1470.5"/><use href="#p" x="2069.8" y="1497"/><use href="#p" x="2070.5" y="1498.3"/><use href="#p" x="2074.1" y="1469.5"/><use href="#p" x="2080.8" y="1473.8"/><use href="#p" x="2089.7" y="1493.7"/><use href="#p" x="2093.7" y="1462.9"/><use href="#p" x="2100.6" y="1481.8"/><use href="#p" x="2106.3" y="1471.8"/><use href="#p" x="2140.1" y="1508.3"/></g>
<polygon class="f" fill="#5EB300" points="1093.1,1574.3 1093.1,1567.6 1098.7,1566.9 1104.3,1566.2 1110,1565.5 1115.6,1564.6 1121.3,1563.8 1126.9,1562.9 1132.5,1562 1138.2,1561 1143.8,1560 1149.5,1558.9 1155.1,1557.8 1160.7,1556.7 1166.4,1555.6 1172,1554.4 1177.7,1553.2 1183.3,1552 1188.9,1550.8 1194.6,1549.6 1200.2,1548.4 1205.9,1547.3 1211.5,1546.1 1217.1,1545 1222.8,1543.9 1228.4,1542.9 1234.1,1541.9 1239.7,1541 1245.3,1540.1 1251,1539.3 1256.6,1538.6 1262.3,1538 1267.9,1537.5 1273.5,1537 1279.2,1536.6 1284.8,1536.4 1290.5,1536.2 1296.1,1536.1 1301.7,1536.2 1307.4,1536.3 1313,1536.5 1318.7,1536.8 1324.3,1537.2 1329.9,1537.7 1335.6,1538.2 1341.2,1538.9 1346.9,1539.5 1352.5,1540.3 1358.1,1541.1 1363.8,1542 1369.4,1542.9 1375.1,1543.8 1380.7,1544.7 1386.3,1545.7 1392,1546.7 1397.6,1547.6 1403.3,1548.6 1408.9,1549.5 1414.5,1550.4 1420.2,1551.3 1425.8,1552.1 1431.5,1552.9 1437.1,1553.6 1442.7,1554.3 1448.4,1555 1454,1555.5 1459.7,1556 1465.3,1556.4 1470.9,1556.8 1476.6,1557.1 1482.2,1557.3 1487.9,1557.4 1493.5,1557.5 1499.1,1557.5 1504.8,1557.4 1510.4,1557.2 1516.1,1557 1521.7,1556.7 1527.3,1556.4 1533,1556 1538.6,1555.5 1544.3,1554.9 1549.9,1554.4 1555.5,1553.7 1561.2,1553.1 1566.8,1552.3 1572.5,1551.6 1578.1,1550.8 1583.7,1550 1589.4,1549.2 1595,1548.4 1600.7,1547.5 1606.3,1546.7 1611.9,1545.9 1617.6,1545 1623.2,1544.2 1628.9,1543.4 1634.5,1542.7 1640.1,1541.9 1645.8,1541.2 1651.4,1540.5 1657.1,1539.9 1662.7,1539.3 1668.3,1538.8 1674,1538.3 1679.6,1537.9 1685.3,1537.6 1690.9,1537.3 1696.5,1537 1702.2,1536.8 1707.8,1536.7 1713.5,1536.7 1719.1,1536.7 1724.7,1536.7 1730.4,1536.8 1736,1537 1741.7,1537.2 1747.3,1537.4 1752.9,1537.7 1758.6,1538 1764.2,1538.3 1769.9,1538.7 1775.5,1539.1 1781.1,1539.4 1786.8,1539.8 1792.4,1540.2 1798.1,1540.5 1803.7,1540.9 1809.3,1541.2 1815,1541.5 1820.6,1541.8 1826.3,1542 1831.9,1542.2 1837.5,1542.3 1843.2,1542.4 1848.8,1542.5 1854.5,1542.5 1860.1,1542.5 1865.7,1542.3 1871.4,1542.2 1877,1542 1882.7,1541.7 1888.3,1541.4 1893.9,1541 1899.6,1540.6 1905.2,1540.1 1910.9,1539.6 1916.5,1539 1922.1,1538.4 1927.8,1537.7 1933.4,1537 1939.1,1536.2 1944.7,1535.4 1950.3,1534.6 1956,1533.8 1961.6,1532.9 1967.3,1532 1972.9,1531 1978.5,1530.1 1984.2,1529.1 1989.8,1528.1 1995.5,1527.1 2001.1,1526.1 2006.7,1525.1 2012.4,1524.1 2018,1523.1 2023.7,1522.2 2029.3,1521.2 2034.9,1520.3 2040.6,1519.5 2046.2,1518.6 2051.9,1517.8 2057.5,1517.1 2063.1,1516.4 2068.8,1515.8 2074.4,1515.3 2080.1,1514.8 2085.7,1514.5 2091.3,1514.2 2097,1514 2102.6,1513.9 2108.3,1513.9 2113.9,1514.1 2119.5,1514.3 2125.2,1514.7 2130.8,1515.1 2136.5,1515.7 2142.1,1516.3 2147.7,1517.1 2153.4,1518 2159,1519 2164.7,1520.1 2170.3,1521.3 2175.9,1522.5 2181.6,1523.9 2187.2,1525.3 2192.9,1526.8 2198.5,1528.3 2204.1,1529.9 2209.8,1531.5 2215.4,1533.2 2221.1,1534.9 2226.7,1536.6 2232.3,1538.3 2238,1540 2243.6,1541.7 2249.3,1543.4 2254.9,1545 2260.5,1546.7 2266.2,1548.3 2271.8,1549.8 2277.5,1551.3 2283.1,1552.8 2288.7,1554.2 2294.4,1555.6 2300,1556.9 2305.7,1558.2 2311.3,1559.4 2316.9,1560.5 2322.6,1561.6 2328.2,1562.6 2333.9,1563.5 2339.5,1564.4 2340.1,1564.5 2340.1,1574.3"/><polyline class="r" points="1093.1,1567.6 1098.7,1566.9 1104.3,1566.2 1110,1565.5 1115.6,1564.6 1121.3,1563.8 1126.9,1562.9 1132.5,1562 1138.2,1561 1143.8,1560 1149.5,1558.9 1155.1,1557.8 1160.7,1556.7 1166.4,1555.6 1172,1554.4 1177.7,1553.2 1183.3,1552 1188.9,1550.8 1194.6,1549.6 1200.2,1548.4 1205.9,1547.3 1211.5,1546.1 1217.1,1545 1222.8,1543.9 1228.4,1542.9 1234.1,1541.9 1239.7,1541 1245.3,1540.1 1251,1539.3 1256.6,1538.6 1262.3,1538 1267.9,1537.5 1273.5,1537 1279.2,1536.6 1284.8,1536.4 1290.5,1536.2 1296.1,1536.1 1301.7,1536.2 1307.4,1536.3 1313,1536.5 1318.7,1536.8 1324.3,1537.2 1329.9,1537.7 1335.6,1538.2 1341.2,1538.9 1346.9,1539.5 1352.5,1540.3 1358.1,1541.1 1363.8,1542 1369.4,1542.9 1375.1,1543.8 1380.7,1544.7 1386.3,1545.7 1392,1546.7 1397.6,1547.6 1403.3,1548.6 1408.9,1549.5 1414.5,1550.4 1420.2,1551.3 1425.8,1552.1 1431.5,1552.9 1437.1,1553.6 1442.7,1554.3 1448.4,1555 1454,1555.5 1459.7,1556 1465.3,1556.4 1470.9,1556.8 1476.6,1557.1 1482.2,1557.3 1487.9,1557.4 1493.5,1557.5 1499.1,1557.5 1504.8,1557.4 1510.4,1557.2 1516.1,1557 1521.7,1556.7 1527.3,1556.4 1533,1556 1538.6,1555.5 1544.3,1554.9 1549.9,1554.4 1555.5,1553.7 1561.2,1553.1 1566.8,1552.3 1572.5,1551.6 1578.1,1550.8 1583.7,1550 1589.4,1549.2 1595,1548.4 1600.7,1547.5 1606.3,1546.7 1611.9,1545.9 1617.6,1545 1623.2,1544.2 1628.9,1543.4 1634.5,1542.7 1640.1,1541.9 1645.8,1541.2 1651.4,1540.5 1657.1,1539.9 1662.7,1539.3 1668.3,1538.8 1674,1538.3 1679.6,1537.9 1685.3,1537.6 1690.9,1537.3 1696.5,1537 1702.2,1536.8 1707.8,1536.7 1713.5,1536.7 1719.1,1536.7 1724.7,1536.7 1730.4,1536.8 1736,1537 1741.7,1537.2 1747.3,1537.4 1752.9,1537.7 1758.6,1538 1764.2,1538.3 1769.9,1538.7 1775.5,1539.1 1781.1,1539.4 1786.8,1539.8 1792.4,1540.2 1798.1,1540.5 1803.7,1540.9 1809.3,1541.2 1815,1541.5 1820.6,1541.8 1826.3,1542 1831.9,1542.2 1837.5,1542.3 1843.2,1542.4 1848.8,1542.5 1854.5,1542.5 1860.1,1542.5 1865.7,1542.3 1871.4,1542.2 1877,1542 1882.7,1541.7 1888.3,1541.4 1893.9,1541 1899.6,1540.6 1905.2,1540.1 1910.9,1539.6 1916.5,1539 1922.1,1538.4 1927.8,1537.7 1933.4,1537 1939.1,1536.2 1944.7,1535.4 1950.3,1534.6 1956,1533.8 1961.6,1532.9 1967.3,1532 1972.9,1531 1978.5,1530.1 1984.2,1529.1 1989.8,1528.1 1995.5,1527.1 2001.1,1526.1 2006.7,1525.1 2012.4,1524.1 2018,1523.1 2023.7,1522.2 2029.3,1521.2 2034.9,1520.3 2040.6,1519.5 2046.2,1518.6 2051.9,1517.8 2057.5,1517.1 2063.1,1516.4 2068.8,1515.8 2074.4,1515.3 2080.1,1514.8 2085.7,1514.5 2091.3,1514.2 2097,1514 2102.6,1513.9 2108.3,1513.9 2113.9,1514.1 2119.5,1514.3 2125.2,1514.7 2130.8,1515.1 2136.5,1515.7 2142.1,1516.3 2147.7,1517.1 2153.4,1518 2159,1519 2164.7,1520.1 2170.3,1521.3 2175.9,1522.5 2181.6,1523.9 2187.2,1525.3 2192.9,1526.8 2198.5,1528.3 2204.1,1529.9 2209.8,1531.5 2215.4,1533.2 2221.1,1534.9 2226.7,1536.6 2232.3,1538.3 2238,1540 2243.6,1541.7 2249.3,1543.4 2254.9,1545 2260.5,1546.7 2266.2,1548.3 2271.8,1549.8 2277.5,1551.3 2283.1,1552.8 2288.7,1554.2 2294.4,1555.6 2300,1556.9 2305.7,1558.2 2311.3,1559.4 2316.9,1560.5 2322.6,1561.6 2328.2,1562.6 2333.9,1563.5 2339.5,1564.4 2340.1,1564.5"/>
<g><use href="#p" x="1295" y="1582.3"/><use href="#p" x="1295" y="1584.1"/><use href="#p" x="1295" y="1585.8"/><use href="#p" x="1295" y="1587.6"/><use href="#p" x="1295" y="1589.3"/><use href="#p" x="1295" y="1591.1"/><use href="#p" x="1295" y="1592.9"/><use href="#p" x="1295" y="1594.6"/><use href="#p" x="1295" y="1596.4"/><use href="#p" x="1295" y="1598.1"/><use href="#p" x="1295" y="1599.9"/><use href="#p" x="1295" y="1601.7"/><use href="#p" x="1295" y="1603.4"/><use href="#p" x="1295" y="1605.2"/><use href="#p" x="1295" y="1606.9"/><use href="#p" x="1295" y="1608.7"/><use href="#p" x="1295" y="1610.5"/><use href="#p" x="1295" y="1612.2"/><use href="#p" x="1295" y="1614"/><use href="#p" x="1295" y="1615.7"/><use href="#p" x="1295" y="1617.5"/><use href="#p" x="1295" y="1619.3"/><use href="#p" x="1295" y="1621"/><use href="#p" x="1295" y="1622.8"/><use href="#p" x="1295" y="1624.5"/><use href="#p" x="1295" y="1626.3"/><use href="#p" x="1527.9" y="1621.6"/><use href="#p" x="1568" y="1601.7"/><use href="#p" x="1580.9" y="1611.7"/><use href="#p" x="1610.1" y="1582.5"/><use href="#p" x="1618.4" y="1581.5"/><use href="#p" x="1626.6" y="1618"/><use href="#p" x="1629.3" y="1608"/><use href="#p" x="1634.9" y="1593.1"/><use href="#p" x="1639.9" y="1596.4"/><use href="#p" x="1646.5" y="1599.8"/><use href="#p" x="1649.8" y="1604.7"/><use href="#p" x="1653.1" y="1609.7"/><use href="#p" x="1655.8" y="1619.6"/><use href="#p" x="1668.1" y="1593.1"/><use href="#p" x="1669.7" y="1594.8"/><use href="#p" x="1678" y="1599.8"/><use href="#p" x="1679.6" y="1602.4"/><use href="#p" x="1681.3" y="1609.7"/><use href="#p" x="1682" y="1620.6"/><use href="#p" x="1687.9" y="1603.1"/><use href="#p" x="1705.2" y="1589.8"/><use href="#p" x="1705.2" y="1605.4"/><use href="#p" x="1717.7" y="1618"/><use href="#p" x="1724.4" y="1604.7"/><use href="#p" x="1726" y="1619.6"/><use href="#p" x="1727.7" y="1583.2"/><use href="#p" x="1725.3" y="1583.2"/><use href="#p" x="1731.9" y="1584.2"/><use href="#p" x="1736.9" y="1583.2"/><use href="#p" x="1745.2" y="1581.5"/><use href="#p" x="1762.4" y="1580.9"/><use href="#p" x="1722" y="1603.1"/><use href="#p" x="1728.6" y="1613"/><use href="#p" x="1735.3" y="1618"/><use href="#p" x="1736.9" y="1622.9"/><use href="#p" x="1750.2" y="1608"/><use href="#p" x="1750.2" y="1622.9"/><use href="#p" x="1763.4" y="1609.7"/><use href="#p" x="1770" y="1610.7"/><use href="#p" x="1773.3" y="1623.9"/><use href="#p" x="1781.6" y="1609"/><use href="#p" x="1795.5" y="1613.7"/><use href="#p" x="1806.5" y="1579.9"/><use href="#p" x="1808.8" y="1587.5"/><use href="#p" x="1863.8" y="1616.3"/><use href="#p" x="1873.7" y="1594.8"/><use href="#p" x="1877.7" y="1622.9"/><use href="#p" x="1885" y="1594.8"/><use href="#p" x="1897.6" y="1579.2"/><use href="#p" x="1897.6" y="1588.2"/><use href="#p" x="1909.8" y="1626.3"/><use href="#p" x="1912.5" y="1599.8"/><use href="#p" x="1963.8" y="1619.6"/><use href="#p" x="1973.8" y="1582.5"/><use href="#p" x="1975.4" y="1613"/><use href="#p" x="1980.4" y="1603.1"/><use href="#p" x="1986" y="1621.3"/><use href="#p" x="1987" y="1602.1"/><use href="#p" x="2003.6" y="1616.3"/><use href="#p" x="2005.2" y="1621.3"/><use href="#p" x="2008.9" y="1603.7"/><use href="#p" x="2014.8" y="1588.8"/><use href="#p" x="2030.7" y="1608.7"/><use href="#p" x="2035" y="1608"/><use href="#p" x="2040.7" y="1588.8"/><use href="#p" x="2042.7" y="1606.4"/><use href="#p" x="2047.3" y="1610.4"/><use href="#p" x="2058.9" y="1596.4"/><use href="#p" x="2071.5" y="1616.3"/><use href="#p" x="2074.8" y="1584.8"/><use href="#p" x="2076.5" y="1598.1"/><use href="#p" x="2079.8" y="1581.5"/><use href="#p" x="2081.4" y="1615.7"/><use href="#p" x="2083.1" y="1599.8"/><use href="#p" x="2086.4" y="1606.4"/><use href="#p" x="2088" y="1609.7"/><use href="#p" x="2089.7" y="1580.9"/><use href="#p" x="2091.4" y="1596.4"/><use href="#p" x="2093" y="1616.3"/><use href="#p" x="2096.3" y="1578.9"/><use href="#p" x="2098" y="1584.8"/><use href="#p" x="2099.6" y="1615.3"/><use href="#p" x="2107.9" y="1589.8"/><use href="#p" x="2111.2" y="1616.3"/><use href="#p" x="2124.5" y="1581.5"/><use href="#p" x="2126.1" y="1599.8"/><use href="#p" x="2127.8" y="1584.8"/><use href="#p" x="2131.1" y="1583.2"/><use href="#p" x="2132.8" y="1604.7"/><use href="#p" x="2134.4" y="1586.5"/><use href="#p" x="2136.1" y="1584.8"/><use href="#p" x="2137.7" y="1621.3"/><use href="#p" x="2140.1" y="1610.7"/><use href="#p" x="2142.7" y="1591.5"/><use href="#p" x="2152.6" y="1580.9"/><use href="#p" x="2156" y="1582.5"/><use href="#p" x="2159.3" y="1598.1"/><use href="#p" x="2164.2" y="1581.5"/><use href="#p" x="2167.5" y="1599.8"/><use href="#p" x="2169.2" y="1618"/><use href="#p" x="2170.9" y="1608"/><use href="#p" x="2175.8" y="1606.4"/><use href="#p" x="2179.1" y="1594.8"/><use href="#p" x="2189.1" y="1599.8"/><use href="#p" x="2194" y="1604.7"/><use href="#p" x="2197.4" y="1606.4"/><use href="#p" x="2199" y="1580.5"/><use href="#p" x="2202.3" y="1585.5"/><use href="#p" x="2205" y="1618.6"/><use href="#p" x="2207.3" y="1601.4"/><use href="#p" x="2209" y="1598.1"/><use href="#p" x="2222.9" y="1585.5"/><use href="#p" x="2084.7" y="1603.1"/><use href="#p" x="2086.4" y="1611.3"/><use href="#p" x="2089" y="1601.4"/><use href="#p" x="2085.7" y="1593.1"/><use href="#p" x="2127.8" y="1582.5"/><use href="#p" x="2132.8" y="1583.9"/><use href="#p" x="2129.5" y="1588.2"/><use href="#p" x="2154.3" y="1581.5"/><use href="#p" x="2083.1" y="1584.8"/><use href="#p" x="2093" y="1581.5"/></g>
<polygon class="f" fill="#93AA00" points="1125.8,1691.3 1125.8,1686 1131.4,1685.6 1137.1,1685.1 1142.7,1684.6 1148.3,1684.1 1154,1683.6 1159.6,1683 1165.3,1682.5 1170.9,1681.9 1176.5,1681.3 1182.2,1680.7 1187.8,1680.1 1193.5,1679.5 1199.1,1678.9 1204.7,1678.3 1210.4,1677.7 1216,1677.1 1221.7,1676.6 1227.3,1676 1232.9,1675.5 1238.6,1675 1244.2,1674.5 1249.9,1674 1255.5,1673.6 1261.1,1673.2 1266.8,1672.8 1272.4,1672.5 1278.1,1672.2 1283.7,1671.9 1289.3,1671.7 1295,1671.6 1300.6,1671.5 1306.3,1671.4 1311.9,1671.4 1317.5,1671.4 1323.2,1671.5 1328.8,1671.6 1334.5,1671.7 1340.1,1671.9 1345.7,1672.1 1351.4,1672.3 1357,1672.6 1362.7,1672.9 1368.3,1673.2 1373.9,1673.5 1379.6,1673.8 1385.2,1674.1 1390.9,1674.4 1396.5,1674.8 1402.1,1675.1 1407.8,1675.4 1413.4,1675.7 1419.1,1676 1424.7,1676.2 1430.3,1676.4 1436,1676.6 1441.6,1676.7 1447.3,1676.9 1452.9,1676.9 1458.5,1677 1464.2,1676.9 1469.8,1676.9 1475.5,1676.8 1481.1,1676.6 1486.7,1676.4 1492.4,1676.1 1498,1675.8 1503.7,1675.5 1509.3,1675.1 1514.9,1674.7 1520.6,1674.2 1526.2,1673.7 1531.9,1673.1 1537.5,1672.5 1543.1,1671.9 1548.8,1671.2 1554.4,1670.5 1560.1,1669.8 1565.7,1669.1 1571.3,1668.4 1577,1667.6 1582.6,1666.8 1588.3,1666.1 1593.9,1665.3 1599.5,1664.5 1605.2,1663.8 1610.8,1663 1616.5,1662.2 1622.1,1661.5 1627.7,1660.8 1633.4,1660.1 1639,1659.4 1644.7,1658.7 1650.3,1658 1655.9,1657.4 1661.6,1656.8 1667.2,1656.2 1672.9,1655.7 1678.5,1655.1 1684.1,1654.6 1689.8,1654.2 1695.4,1653.7 1701.1,1653.3 1706.7,1652.9 1712.3,1652.5 1718,1652.2 1723.6,1651.8 1729.3,1651.5 1734.9,1651.2 1740.5,1650.9 1746.2,1650.6 1751.8,1650.4 1757.5,1650.1 1763.1,1649.9 1768.7,1649.6 1774.4,1649.4 1780,1649.1 1785.7,1648.9 1791.3,1648.7 1796.9,1648.4 1802.6,1648.2 1808.2,1647.9 1813.9,1647.7 1819.5,1647.4 1825.1,1647.1 1830.8,1646.8 1836.4,1646.6 1842.1,1646.2 1847.7,1645.9 1853.3,1645.6 1859,1645.2 1864.6,1644.9 1870.3,1644.5 1875.9,1644.1 1881.5,1643.7 1887.2,1643.3 1892.8,1642.8 1898.5,1642.3 1904.1,1641.8 1909.7,1641.3 1915.4,1640.8 1921,1640.2 1926.7,1639.6 1932.3,1639 1937.9,1638.4 1943.6,1637.7 1949.2,1637 1954.9,1636.3 1960.5,1635.6 1966.1,1634.8 1971.8,1634 1977.4,1633.2 1983.1,1632.4 1988.7,1631.6 1994.3,1630.8 2000,1629.9 2005.6,1629.1 2011.3,1628.3 2016.9,1627.5 2022.5,1626.7 2028.2,1626 2033.8,1625.2 2039.5,1624.6 2045.1,1624 2050.7,1623.4 2056.4,1622.9 2062,1622.5 2067.7,1622.2 2073.3,1622 2078.9,1621.9 2084.6,1621.8 2090.2,1621.9 2095.9,1622.1 2101.5,1622.4 2107.1,1622.9 2112.8,1623.4 2118.4,1624.1 2124.1,1624.9 2129.7,1625.8 2135.3,1626.8 2141,1628 2146.6,1629.2 2152.3,1630.5 2157.9,1632 2163.5,1633.5 2169.2,1635.1 2174.8,1636.8 2180.5,1638.6 2186.1,1640.4 2191.7,1642.2 2197.4,1644.1 2203,1646 2208.7,1647.9 2214.3,1649.8 2219.9,1651.7 2225.6,1653.6 2231.2,1655.5 2236.9,1657.4 2242.5,1659.2 2248.1,1661 2253.8,1662.8 2259.4,1664.5 2265.1,1666.1 2270.7,1667.7 2276.3,1669.2 2282,1670.7 2287.6,1672.1 2293.3,1673.4 2298.9,1674.7 2304.5,1675.9 2310.2,1677 2315.8,1678.1 2321.5,1679.1 2327.1,1680.1 2332.7,1680.9 2338.4,1681.8 2340.1,1682 2340.1,1691.3"/><polyline class="r" points="1125.8,1686 1131.4,1685.6 1137.1,1685.1 1142.7,1684.6 1148.3,1684.1 1154,1683.6 1159.6,1683 1165.3,1682.5 1170.9,1681.9 1176.5,1681.3 1182.2,1680.7 1187.8,1680.1 1193.5,1679.5 1199.1,1678.9 1204.7,1678.3 1210.4,1677.7 1216,1677.1 1221.7,1676.6 1227.3,1676 1232.9,1675.5 1238.6,1675 1244.2,1674.5 1249.9,1674 1255.5,1673.6 1261.1,1673.2 1266.8,1672.8 1272.4,1672.5 1278.1,1672.2 1283.7,1671.9 1289.3,1671.7 1295,1671.6 1300.6,1671.5 1306.3,1671.4 1311.9,1671.4 1317.5,1671.4 1323.2,1671.5 1328.8,1671.6 1334.5,1671.7 1340.1,1671.9 1345.7,1672.1 1351.4,1672.3 1357,1672.6 1362.7,1672.9 1368.3,1673.2 1373.9,1673.5 1379.6,1673.8 1385.2,1674.1 1390.9,1674.4 1396.5,1674.8 1402.1,1675.1 1407.8,1675.4 1413.4,1675.7 1419.1,1676 1424.7,1676.2 1430.3,1676.4 1436,1676.6 1441.6,1676.7 1447.3,1676.9 1452.9,1676.9 1458.5,1677 1464.2,1676.9 1469.8,1676.9 1475.5,1676.8 1481.1,1676.6 1486.7,1676.4 1492.4,1676.1 1498,1675.8 1503.7,1675.5 1509.3,1675.1 1514.9,1674.7 1520.6,1674.2 1526.2,1673.7 1531.9,1673.1 1537.5,1672.5 1543.1,1671.9 1548.8,1671.2 1554.4,1670.5 1560.1,1669.8 1565.7,1669.1 1571.3,1668.4 1577,1667.6 1582.6,1666.8 1588.3,1666.1 1593.9,1665.3 1599.5,1664.5 1605.2,1663.8 1610.8,1663 1616.5,1662.2 1622.1,1661.5 1627.7,1660.8 1633.4,1660.1 1639,1659.4 1644.7,1658.7 1650.3,1658 1655.9,1657.4 1661.6,1656.8 1667.2,1656.2 1672.9,1655.7 1678.5,1655.1 1684.1,1654.6 1689.8,1654.2 1695.4,1653.7 1701.1,1653.3 1706.7,1652.9 1712.3,1652.5 1718,1652.2 1723.6,1651.8 1729.3,1651.5 1734.9,1651.2 1740.5,1650.9 1746.2,1650.6 1751.8,1650.4 1757.5,1650.1 1763.1,1649.9 1768.7,1649.6 1774.4,1649.4 1780,1649.1 1785.7,1648.9 1791.3,1648.7 1796.9,1648.4 1802.6,1648.2 1808.2,1647.9 1813.9,1647.7 1819.5,1647.4 1825.1,1647.1 1830.8,1646.8 1836.4,1646.6 1842.1,1646.2 1847.7,1645.9 1853.3,1645.6 1859,1645.2 1864.6,1644.9 1870.3,1644.5 1875.9,1644.1 1881.5,1643.7 1887.2,1643.3 1892.8,1642.8 1898.5,1642.3 1904.1,1641.8 1909.7,1641.3 1915.4,1640.8 1921,1640.2 1926.7,1639.6 1932.3,1639 1937.9,1638.4 1943.6,1637.7 1949.2,1637 1954.9,1636.3 1960.5,1635.6 1966.1,1634.8 1971.8,1634 1977.4,1633.2 1983.1,1632.4 1988.7,1631.6 1994.3,1630.8 2000,1629.9 2005.6,1629.1 2011.3,1628.3 2016.9,1627.5 2022.5,1626.7 2028.2,1626 2033.8,1625.2 2039.5,1624.6 2045.1,1624 2050.7,1623.4 2056.4,1622.9 2062,1622.5 2067.7,1622.2 2073.3,1622 2078.9,1621.9 2084.6,1621.8 2090.2,1621.9 2095.9,1622.1 2101.5,1622.4 2107.1,1622.9 2112.8,1623.4 2118.4,1624.1 2124.1,1624.9 2129.7,1625.8 2135.3,1626.8 2141,1628 2146.6,1629.2 2152.3,1630.5 2157.9,1632 2163.5,1633.5 2169.2,1635.1 2174.8,1636.8 2180.5,1638.6 2186.1,1640.4 2191.7,1642.2 2197.4,1644.1 2203,1646 2208.7,1647.9 2214.3,1649.8 2219.9,1651.7 2225.6,1653.6 2231.2,1655.5 2236.9,1657.4 2242.5,1659.2 2248.1,1661 2253.8,1662.8 2259.4,1664.5 2265.1,1666.1 2270.7,1667.7 2276.3,1669.2 2282,1670.7 2287.6,1672.1 2293.3,1673.4 2298.9,1674.7 2304.5,1675.9 2310.2,1677 2315.8,1678.1 2321.5,1679.1 2327.1,1680.1 2332.7,1680.9 2338.4,1681.8 2340.1,1682"/>
<g><use href="#p" x="1295" y="1699.8"/><use href="#p" x="1295" y="1701.5"/><use href="#p" x="1295" y="1703.2"/><use href="#p" x="1295" y="1705"/><use href="#p" x="1295" y="1706.7"/><use href="#p" x="1295" y="1708.5"/><use href="#p" x="1295" y="1710.2"/><use href="#p" x="1295" y="1711.9"/><use href="#p" x="1295" y="1713.7"/><use href="#p" x="1295" y="1715.4"/><use href="#p" x="1295" y="1717.2"/><use href="#p" x="1295" y="1718.9"/><use href="#p" x="1295" y="1720.6"/><use href="#p" x="1295" y="1722.4"/><use href="#p" x="1295" y="1724.1"/><use href="#p" x="1295" y="1725.9"/><use href="#p" x="1295" y="1727.6"/><use href="#p" x="1295" y="1729.3"/><use href="#p" x="1295" y="1731.1"/><use href="#p" x="1295" y="1732.8"/><use href="#p" x="1295" y="1734.6"/><use href="#p" x="1295" y="1736.3"/><use href="#p" x="1295" y="1738"/><use href="#p" x="1295" y="1739.8"/><use href="#p" x="1295" y="1741.5"/><use href="#p" x="1295" y="1743.3"/><use href="#p" x="1726.4" y="1732.7"/><use href="#p" x="1779.1" y="1723"/><use href="#p" x="1801.8" y="1734.6"/><use href="#p" x="1785.7" y="1718.1"/><use href="#p" x="1740.4" y="1701.1"/><use href="#p" x="1744.4" y="1706"/><use href="#p" x="1835.2" y="1723.9"/><use href="#p" x="1728.3" y="1713.1"/><use href="#p" x="1773.3" y="1735.5"/><use href="#p" x="1773.4" y="1723"/><use href="#p" x="1756" y="1713.3"/><use href="#p" x="1734.4" y="1733.3"/><use href="#p" x="1782.3" y="1731.1"/><use href="#p" x="1792" y="1703.1"/><use href="#p" x="1756.5" y="1713.2"/><use href="#p" x="1816.7" y="1714.3"/><use href="#p" x="1838.1" y="1733.9"/><use href="#p" x="1805.9" y="1722.4"/><use href="#p" x="1806.1" y="1714"/><use href="#p" x="1737" y="1736.6"/><use href="#p" x="1778.8" y="1740.9"/><use href="#p" x="1810.7" y="1724.2"/><use href="#p" x="1775" y="1729.1"/><use href="#p" x="1753.4" y="1714.6"/><use href="#p" x="1762.5" y="1734.9"/><use href="#p" x="1836.2" y="1703.5"/><use href="#p" x="1727.9" y="1714.6"/><use href="#p" x="1804.9" y="1718.3"/><use href="#p" x="1814" y="1741.4"/><use href="#p" x="1803" y="1728.2"/><use href="#p" x="1741.8" y="1724.7"/><use href="#p" x="1798.5" y="1707.7"/><use href="#p" x="1845" y="1728.8"/><use href="#p" x="1952.7" y="1727.4"/><use href="#p" x="1864.4" y="1737.1"/><use href="#p" x="1877.5" y="1714.1"/><use href="#p" x="1932.7" y="1733.8"/><use href="#p" x="1945.8" y="1737.7"/><use href="#p" x="1842.3" y="1709.2"/><use href="#p" x="1907" y="1709.3"/><use href="#p" x="1936.9" y="1731.3"/><use href="#p" x="1926.3" y="1740.3"/><use href="#p" x="1920.9" y="1741.2"/><use href="#p" x="1894" y="1705.2"/><use href="#p" x="1899.6" y="1740.5"/><use href="#p" x="1910.5" y="1713.3"/><use href="#p" x="1853.1" y="1705.1"/><use href="#p" x="1855.7" y="1730.2"/><use href="#p" x="1878.7" y="1718.2"/><use href="#p" x="1950.7" y="1713.7"/><use href="#p" x="1914.9" y="1714.4"/><use href="#p" x="1885" y="1717.8"/><use href="#p" x="1891.6" y="1704.3"/><use href="#p" x="1913.6" y="1723.4"/><use href="#p" x="1854.5" y="1741.6"/><use href="#p" x="1952" y="1711.2"/><use href="#p" x="1880" y="1733.2"/><use href="#p" x="1898.5" y="1723.9"/><use href="#p" x="1927.2" y="1731.9"/><use href="#p" x="1871.6" y="1720.4"/><use href="#p" x="1932.4" y="1737.7"/><use href="#p" x="1938.6" y="1734"/><use href="#p" x="1915.4" y="1700.4"/><use href="#p" x="1882.8" y="1730.1"/><use href="#p" x="1869.1" y="1702"/><use href="#p" x="1908.2" y="1732.7"/><use href="#p" x="1953" y="1730.9"/><use href="#p" x="1892.1" y="1700.6"/><use href="#p" x="1998.5" y="1738.1"/><use href="#p" x="1987.8" y="1723.7"/><use href="#p" x="1959.6" y="1713.2"/><use href="#p" x="1992.7" y="1734.2"/><use href="#p" x="1975" y="1735.4"/><use href="#p" x="1992.5" y="1723.4"/><use href="#p" x="1966.8" y="1729.5"/><use href="#p" x="1962.5" y="1717.5"/><use href="#p" x="2012.2" y="1737"/><use href="#p" x="2016.1" y="1707.7"/><use href="#p" x="2013.4" y="1719.6"/><use href="#p" x="1964.4" y="1738.2"/><use href="#p" x="2016.4" y="1741.6"/><use href="#p" x="1977.2" y="1709"/><use href="#p" x="2014.7" y="1730.3"/><use href="#p" x="2014.8" y="1731"/><use href="#p" x="2018.7" y="1731"/><use href="#p" x="2007.8" y="1739.4"/><use href="#p" x="1981.9" y="1739.3"/><use href="#p" x="1980.9" y="1741.1"/><use href="#p" x="1989.4" y="1727.1"/><use href="#p" x="1954.1" y="1714"/><use href="#p" x="1971.7" y="1699.8"/><use href="#p" x="1974.2" y="1710.4"/><use href="#p" x="1960.7" y="1710.4"/><use href="#p" x="2010.5" y="1708.6"/><use href="#p" x="2144.1" y="1742.4"/><use href="#p" x="2021.4" y="1730.2"/><use href="#p" x="2043.6" y="1707.3"/><use href="#p" x="2074.4" y="1739.2"/><use href="#p" x="2175.4" y="1703.2"/><use href="#p" x="2160.1" y="1702.9"/><use href="#p" x="2083.5" y="1742.7"/><use href="#p" x="2176" y="1704"/><use href="#p" x="2120.5" y="1717.5"/><use href="#p" x="2139.7" y="1736.6"/><use href="#p" x="2118.8" y="1739.8"/><use href="#p" x="2179" y="1706.4"/><use href="#p" x="2029.9" y="1707.9"/><use href="#p" x="2110" y="1729.5"/><use href="#p" x="2171.5" y="1731.1"/><use href="#p" x="2136" y="1725.4"/><use href="#p" x="2135.9" y="1716.7"/><use href="#p" x="2137.5" y="1735.6"/><use href="#p" x="2171.9" y="1730.5"/><use href="#p" x="2139.8" y="1702.4"/><use href="#p" x="2078" y="1719.1"/><use href="#p" x="2074.3" y="1707.9"/><use href="#p" x="2086.3" y="1735.5"/><use href="#p" x="2067.2" y="1739.9"/><use href="#p" x="2020.9" y="1717.6"/><use href="#p" x="2147.9" y="1732.1"/><use href="#p" x="2021.9" y="1704.3"/><use href="#p" x="2032.3" y="1723.8"/><use href="#p" x="2036.6" y="1716.5"/><use href="#p" x="2069.9" y="1703.7"/><use href="#p" x="2086.3" y="1718.2"/><use href="#p" x="2122.5" y="1714.3"/><use href="#p" x="2032" y="1713.6"/><use href="#p" x="2143.1" y="1699.4"/><use href="#p" x="2112.4" y="1700.1"/><use href="#p" x="2173.3" y="1707.8"/><use href="#p" x="2114.5" y="1703.2"/><use href="#p" x="2117" y="1733.7"/><use href="#p" x="2182.2" y="1733.6"/><use href="#p" x="2178.5" y="1699.6"/><use href="#p" x="2162.9" y="1701.4"/><use href="#p" x="2174.4" y="1742.6"/><use href="#p" x="2147.2" y="1725.6"/><use href="#p" x="2150" y="1703"/><use href="#p" x="2173.1" y="1703.1"/><use href="#p" x="2062.2" y="1711"/><use href="#p" x="2141.9" y="1716.4"/><use href="#p" x="2088.3" y="1721.1"/><use href="#p" x="2153.6" y="1735.8"/><use href="#p" x="2169.9" y="1711.6"/><use href="#p" x="2029.1" y="1703.4"/><use href="#p" x="2040.2" y="1731.7"/><use href="#p" x="2034.7" y="1732.2"/><use href="#p" x="2020.1" y="1729.1"/><use href="#p" x="2063.7" y="1727.3"/><use href="#p" x="2154.8" y="1727.7"/><use href="#p" x="2032.9" y="1700.2"/><use href="#p" x="2087.7" y="1738.7"/><use href="#p" x="2102.3" y="1710.7"/><use href="#p" x="2103.4" y="1734.9"/><use href="#p" x="2056.5" y="1704.6"/><use href="#p" x="2182.9" y="1717.7"/><use href="#p" x="2098.6" y="1712.8"/><use href="#p" x="2063.2" y="1736.7"/><use href="#p" x="2162.3" y="1710.3"/><use href="#p" x="2148.5" y="1739.2"/><use href="#p" x="2094" y="1741.9"/><use href="#p" x="2035.9" y="1735.7"/><use href="#p" x="2170.9" y="1710.2"/><use href="#p" x="2068.9" y="1711.1"/><use href="#p" x="2044" y="1734.5"/><use href="#p" x="2143.8" y="1733.5"/><use href="#p" x="2133.8" y="1710.6"/><use href="#p" x="2035.2" y="1710.5"/><use href="#p" x="2159.8" y="1700.1"/><use href="#p" x="2114.5" y="1713.2"/><use href="#p" x="2071" y="1713.8"/><use href="#p" x="2124.8" y="1706.6"/><use href="#p" x="2048" y="1736.2"/><use href="#p" x="2153.8" y="1714.9"/><use href="#p" x="2063.9" y="1724.7"/><use href="#p" x="2185.4" y="1733.5"/><use href="#p" x="2098.5" y="1726.9"/><use href="#p" x="2083.6" y="1730.1"/><use href="#p" x="2111.8" y="1700.4"/><use href="#p" x="2139.5" y="1737.2"/><use href="#p" x="2105.9" y="1706.2"/><use href="#p" x="2073.6" y="1707.6"/><use href="#p" x="2169" y="1731.2"/><use href="#p" x="2072.6" y="1712.4"/><use href="#p" x="2042.2" y="1718.4"/><use href="#p" x="2193.1" y="1732.2"/><use href="#p" x="2186" y="1702.5"/><use href="#p" x="2184.2" y="1739"/><use href="#p" x="2163.8" y="1704.8"/><use href="#p" x="2174.1" y="1741.8"/><use href="#p" x="2151.3" y="1721.6"/><use href="#p" x="2080.7" y="1737.5"/><use href="#p" x="2126.1" y="1713.3"/><use href="#p" x="2034.4" y="1700"/><use href="#p" x="2144.5" y="1712.1"/><use href="#p" x="2043.2" y="1712.6"/><use href="#p" x="2101.8" y="1736.1"/><use href="#p" x="2104" y="1704.9"/><use href="#p" x="2166.9" y="1728.6"/><use href="#p" x="2116.7" y="1738.3"/><use href="#p" x="2091.7" y="1716.1"/><use href="#p" x="2029.5" y="1729.5"/><use href="#p" x="2130.2" y="1740.5"/><use href="#p" x="2021.1" y="1717.2"/><use href="#p" x="2097.4" y="1717.3"/><use href="#p" x="2027.4" y="1734.7"/><use href="#p" x="2027.4" y="1727.1"/><use href="#p" x="2075.3" y="1717.7"/><use href="#p" x="2168.6" y="1708.1"/><use href="#p" x="2110.6" y="1710.9"/><use href="#p" x="2128.1" y="1722.9"/><use href="#p" x="2138.3" y="1703.4"/><use href="#p" x="2132.1" y="1728.1"/><use href="#p" x="2031.8" y="1741.4"/><use href="#p" x="2170.9" y="1733.8"/><use href="#p" x="2159.5" y="1721"/><use href="#p" x="2182.4" y="1706"/><use href="#p" x="2151.9" y="1741.7"/><use href="#p" x="2030.9" y="1727.5"/><use href="#p" x="2192.6" y="1705.4"/><use href="#p" x="2119.1" y="1738.3"/><use href="#p" x="2066.6" y="1708.4"/><use href="#p" x="2147.3" y="1733.8"/><use href="#p" x="2187" y="1727.6"/><use href="#p" x="2029.3" y="1735"/><use href="#p" x="2070.5" y="1723.8"/><use href="#p" x="2147.8" y="1741.8"/><use href="#p" x="2117.7" y="1705.5"/><use href="#p" x="2110.7" y="1723.4"/><use href="#p" x="2153.4" y="1707.6"/><use href="#p" x="2117.7" y="1701.4"/><use href="#p" x="2194.7" y="1700.2"/><use href="#p" x="2115.9" y="1706.8"/><use href="#p" x="2068.6" y="1716.7"/><use href="#p" x="2202" y="1710.6"/><use href="#p" x="2203.1" y="1721"/><use href="#p" x="2214.9" y="1708.3"/><use href="#p" x="2200.6" y="1701.1"/><use href="#p" x="1414" y="1704.2"/><use href="#p" x="1447.1" y="1715.8"/><use href="#p" x="1474.9" y="1719.7"/><use href="#p" x="1520.6" y="1722.7"/><use href="#p" x="1526.6" y="1729.3"/><use href="#p" x="1528.9" y="1731.7"/><use href="#p" x="1530.6" y="1740.6"/><use href="#p" x="1563" y="1716.8"/><use href="#p" x="1568.7" y="1696.9"/><use href="#p" x="1570.3" y="1705.2"/><use href="#p" x="1577" y="1696.2"/><use href="#p" x="1587.9" y="1699.5"/><use href="#p" x="1590.2" y="1721.7"/><use href="#p" x="1590.2" y="1735"/><use href="#p" x="1600.1" y="1720.1"/><use href="#p" x="1603.5" y="1721.7"/><use href="#p" x="1616.7" y="1731.7"/><use href="#p" x="1619.4" y="1699.5"/><use href="#p" x="1620" y="1733.3"/><use href="#p" x="1626.6" y="1725"/><use href="#p" x="1631.6" y="1726.7"/><use href="#p" x="1638.2" y="1739.9"/><use href="#p" x="1641.6" y="1731.7"/><use href="#p" x="1643.2" y="1733.3"/><use href="#p" x="1648.2" y="1710.1"/><use href="#p" x="1653.1" y="1698.5"/><use href="#p" x="1654.8" y="1735"/><use href="#p" x="1658.1" y="1706.8"/><use href="#p" x="1660.4" y="1725"/><use href="#p" x="1664.7" y="1739.9"/><use href="#p" x="1666.4" y="1741.6"/><use href="#p" x="1669.7" y="1735"/><use href="#p" x="1673" y="1705.2"/><use href="#p" x="1676.3" y="1698.5"/><use href="#p" x="1678" y="1716.8"/><use href="#p" x="1683" y="1711.8"/><use href="#p" x="1686.3" y="1715.1"/><use href="#p" x="1689.6" y="1718.4"/><use href="#p" x="1692.9" y="1720.1"/><use href="#p" x="1696.2" y="1706.8"/><use href="#p" x="1701.2" y="1710.1"/><use href="#p" x="1702.8" y="1726.7"/><use href="#p" x="1704.5" y="1742.6"/><use href="#p" x="1706.1" y="1698.5"/><use href="#p" x="1707.8" y="1725"/><use href="#p" x="1712.8" y="1723.4"/><use href="#p" x="1721.1" y="1708.5"/><use href="#p" x="1724.4" y="1696.9"/><use href="#p" x="1727.7" y="1733.3"/><use href="#p" x="1729.3" y="1720.1"/></g>
<polygon class="f" fill="#B79F00" points="1093.1,1808.2 1093.1,1790.3 1098.7,1788.5 1104.3,1786.6 1110,1784.6 1115.6,1782.5 1121.3,1780.2 1126.9,1777.8 1132.5,1775.3 1138.2,1772.7 1143.8,1770 1149.5,1767.1 1155.1,1764.2 1160.7,1761.3 1166.4,1758.2 1172,1755.1 1177.7,1751.9 1183.3,1748.8 1188.9,1745.6 1194.6,1742.4 1200.2,1739.2 1205.9,1736.1 1211.5,1733.1 1217.1,1730.1 1222.8,1727.2 1228.4,1724.5 1234.1,1721.9 1239.7,1719.4 1245.3,1717.1 1251,1715 1256.6,1713.1 1262.3,1711.5 1267.9,1710 1273.5,1708.9 1279.2,1707.9 1284.8,1707.2 1290.5,1706.8 1296.1,1706.7 1301.7,1706.8 1307.4,1707.2 1313,1707.9 1318.7,1708.8 1324.3,1710 1329.9,1711.4 1335.6,1713 1341.2,1714.9 1346.9,1716.9 1352.5,1719.2 1358.1,1721.6 1363.8,1724.1 1369.4,1726.8 1375.1,1729.6 1380.7,1732.5 1386.3,1735.5 1392,1738.5 1397.6,1741.6 1403.3,1744.6 1408.9,1747.7 1414.5,1750.7 1420.2,1753.7 1425.8,1756.7 1431.5,1759.6 1437.1,1762.4 1442.7,1765.1 1448.4,1767.7 1454,1770.2 1459.7,1772.6 1465.3,1774.8 1470.9,1777 1476.6,1778.9 1482.2,1780.8 1487.9,1782.5 1493.5,1784.1 1499.1,1785.5 1504.8,1786.8 1510.4,1787.9 1516.1,1788.9 1521.7,1789.8 1527.3,1790.5 1533,1791.1 1538.6,1791.6 1544.3,1792 1549.9,1792.3 1555.5,1792.4 1561.2,1792.5 1566.8,1792.4 1572.5,1792.3 1578.1,1792.1 1583.7,1791.8 1589.4,1791.4 1595,1790.9 1600.7,1790.4 1606.3,1789.9 1611.9,1789.2 1617.6,1788.6 1623.2,1787.9 1628.9,1787.1 1634.5,1786.3 1640.1,1785.5 1645.8,1784.7 1651.4,1783.9 1657.1,1783.1 1662.7,1782.2 1668.3,1781.4 1674,1780.6 1679.6,1779.7 1685.3,1778.9 1690.9,1778.1 1696.5,1777.4 1702.2,1776.7 1707.8,1776 1713.5,1775.3 1719.1,1774.7 1724.7,1774.1 1730.4,1773.6 1736,1773.1 1741.7,1772.7 1747.3,1772.4 1752.9,1772.1 1758.6,1771.8 1764.2,1771.7 1769.9,1771.5 1775.5,1771.5 1781.1,1771.5 1786.8,1771.6 1792.4,1771.7 1798.1,1771.9 1803.7,1772.1 1809.3,1772.4 1815,1772.8 1820.6,1773.2 1826.3,1773.6 1831.9,1774.1 1837.5,1774.6 1843.2,1775.2 1848.8,1775.7 1854.5,1776.3 1860.1,1777 1865.7,1777.6 1871.4,1778.3 1877,1779 1882.7,1779.6 1888.3,1780.3 1893.9,1781 1899.6,1781.7 1905.2,1782.3 1910.9,1783 1916.5,1783.6 1922.1,1784.2 1927.8,1784.9 1933.4,1785.5 1939.1,1786.1 1944.7,1786.6 1950.3,1787.2 1956,1787.7 1961.6,1788.2 1967.3,1788.7 1972.9,1789.2 1978.5,1789.7 1984.2,1790.2 1989.8,1790.6 1995.5,1791.1 2001.1,1791.5 2006.7,1792 2012.4,1792.4 2018,1792.9 2023.7,1793.3 2029.3,1793.7 2034.9,1794.1 2040.6,1794.6 2046.2,1795 2051.9,1795.4 2057.5,1795.9 2063.1,1796.3 2068.8,1796.8 2074.4,1797.2 2080.1,1797.6 2085.7,1798.1 2091.3,1798.5 2097,1799 2102.6,1799.4 2108.3,1799.8 2113.9,1800.3 2119.5,1800.7 2125.2,1801.1 2130.8,1801.5 2136.5,1801.9 2142.1,1802.3 2147.7,1802.7 2153.4,1803 2159,1803.4 2162.6,1803.6 2162.6,1808.2"/><polyline class="r" points="1093.1,1790.3 1098.7,1788.5 1104.3,1786.6 1110,1784.6 1115.6,1782.5 1121.3,1780.2 1126.9,1777.8 1132.5,1775.3 1138.2,1772.7 1143.8,1770 1149.5,1767.1 1155.1,1764.2 1160.7,1761.3 1166.4,1758.2 1172,1755.1 1177.7,1751.9 1183.3,1748.8 1188.9,1745.6 1194.6,1742.4 1200.2,1739.2 1205.9,1736.1 1211.5,1733.1 1217.1,1730.1 1222.8,1727.2 1228.4,1724.5 1234.1,1721.9 1239.7,1719.4 1245.3,1717.1 1251,1715 1256.6,1713.1 1262.3,1711.5 1267.9,1710 1273.5,1708.9 1279.2,1707.9 1284.8,1707.2 1290.5,1706.8 1296.1,1706.7 1301.7,1706.8 1307.4,1707.2 1313,1707.9 1318.7,1708.8 1324.3,1710 1329.9,1711.4 1335.6,1713 1341.2,1714.9 1346.9,1716.9 1352.5,1719.2 1358.1,1721.6 1363.8,1724.1 1369.4,1726.8 1375.1,1729.6 1380.7,1732.5 1386.3,1735.5 1392,1738.5 1397.6,1741.6 1403.3,1744.6 1408.9,1747.7 1414.5,1750.7 1420.2,1753.7 1425.8,1756.7 1431.5,1759.6 1437.1,1762.4 1442.7,1765.1 1448.4,1767.7 1454,1770.2 1459.7,1772.6 1465.3,1774.8 1470.9,1777 1476.6,1778.9 1482.2,1780.8 1487.9,1782.5 1493.5,1784.1 1499.1,1785.5 1504.8,1786.8 1510.4,1787.9 1516.1,1788.9 1521.7,1789.8 1527.3,1790.5 1533,1791.1 1538.6,1791.6 1544.3,1792 1549.9,1792.3 1555.5,1792.4 1561.2,1792.5 1566.8,1792.4 1572.5,1792.3 1578.1,1792.1 1583.7,1791.8 1589.4,1791.4 1595,1790.9 1600.7,1790.4 1606.3,1789.9 1611.9,1789.2 1617.6,1788.6 1623.2,1787.9 1628.9,1787.1 1634.5,1786.3 1640.1,1785.5 1645.8,1784.7 1651.4,1783.9 1657.1,1783.1 1662.7,1782.2 1668.3,1781.4 1674,1780.6 1679.6,1779.7 1685.3,1778.9 1690.9,1778.1 1696.5,1777.4 1702.2,1776.7 1707.8,1776 1713.5,1775.3 1719.1,1774.7 1724.7,1774.1 1730.4,1773.6 1736,1773.1 1741.7,1772.7 1747.3,1772.4 1752.9,1772.1 1758.6,1771.8 1764.2,1771.7 1769.9,1771.5 1775.5,1771.5 1781.1,1771.5 1786.8,1771.6 1792.4,1771.7 1798.1,1771.9 1803.7,1772.1 1809.3,1772.4 1815,1772.8 1820.6,1773.2 1826.3,1773.6 1831.9,1774.1 1837.5,1774.6 1843.2,1775.2 1848.8,1775.7 1854.5,1776.3 1860.1,1777 1865.7,1777.6 1871.4,1778.3 1877,1779 1882.7,1779.6 1888.3,1780.3 1893.9,1781 1899.6,1781.7 1905.2,1782.3 1910.9,1783 1916.5,1783.6 1922.1,1784.2 1927.8,1784.9 1933.4,1785.5 1939.1,1786.1 1944.7,1786.6 1950.3,1787.2 1956,1787.7 1961.6,1788.2 1967.3,1788.7 1972.9,1789.2 1978.5,1789.7 1984.2,1790.2 1989.8,1790.6 1995.5,1791.1 2001.1,1791.5 2006.7,1792 2012.4,1792.4 2018,1792.9 2023.7,1793.3 2029.3,1793.7 2034.9,1794.1 2040.6,1794.6 2046.2,1795 2051.9,1795.4 2057.5,1795.9 2063.1,1796.3 2068.8,1796.8 2074.4,1797.2 2080.1,1797.6 2085.7,1798.1 2091.3,1798.5 2097,1799 2102.6,1799.4 2108.3,1799.8 2113.9,1800.3 2119.5,1800.7 2125.2,1801.1 2130.8,1801.5 2136.5,1801.9 2142.1,1802.3 2147.7,1802.7 2153.4,1803 2159,1803.4 2162.6,1803.6"/>
<g><use href="#p" x="1295" y="1816.2"/><use href="#p" x="1295" y="1818.5"/><use href="#p" x="1295" y="1820.8"/><use href="#p" x="1295" y="1823.1"/><use href="#p" x="1295" y="1825.5"/><use href="#p" x="1295" y="1827.8"/><use href="#p" x="1295" y="1830.1"/><use href="#p" x="1295" y="1832.4"/><use href="#p" x="1295" y="1834.7"/><use href="#p" x="1295" y="1837"/><use href="#p" x="1295" y="1839.4"/><use href="#p" x="1295" y="1841.7"/><use href="#p" x="1295" y="1844"/><use href="#p" x="1295" y="1846.3"/><use href="#p" x="1295" y="1848.6"/><use href="#p" x="1295" y="1850.9"/><use href="#p" x="1295" y="1853.3"/><use href="#p" x="1295" y="1855.6"/><use href="#p" x="1295" y="1857.9"/><use href="#p" x="1295" y="1860.2"/><use href="#p" x="1658.8" y="1834"/><use href="#p" x="1724.4" y="1834.7"/><use href="#p" x="1724.4" y="1858.9"/><use href="#p" x="1780" y="1830.7"/><use href="#p" x="1780" y="1840"/><use href="#p" x="1804.8" y="1834.7"/><use href="#p" x="1820.7" y="1840.7"/><use href="#p" x="1941.6" y="1815.8"/><use href="#p" x="1989" y="1815.8"/><use href="#p" x="2071.8" y="1858.9"/></g>
<polygon class="f" fill="#D39200" points="1115.8,1925.2 1115.8,1919.5 1121.5,1919 1127.1,1918.5 1132.8,1918 1138.4,1917.4 1144,1916.8 1149.7,1916.2 1155.3,1915.6 1161,1914.9 1166.6,1914.2 1172.2,1913.6 1177.9,1912.9 1183.5,1912.2 1189.2,1911.5 1194.8,1910.8 1200.4,1910.1 1206.1,1909.4 1211.7,1908.7 1217.4,1908.1 1223,1907.5 1228.6,1906.8 1234.3,1906.3 1239.9,1905.7 1245.6,1905.2 1251.2,1904.7 1256.8,1904.3 1262.5,1903.9 1268.1,1903.5 1273.8,1903.2 1279.4,1902.9 1285,1902.7 1290.7,1902.6 1296.3,1902.5 1302,1902.4 1307.6,1902.4 1313.2,1902.4 1318.9,1902.5 1324.5,1902.6 1330.2,1902.7 1335.8,1902.9 1341.4,1903.1 1347.1,1903.3 1352.7,1903.6 1358.4,1903.8 1364,1904.1 1369.6,1904.4 1375.3,1904.6 1380.9,1904.9 1386.6,1905.1 1392.2,1905.3 1397.8,1905.6 1403.5,1905.7 1409.1,1905.9 1414.8,1906 1420.4,1906 1426,1906.1 1431.7,1906 1437.3,1905.9 1443,1905.8 1448.6,1905.6 1454.2,1905.3 1459.9,1905 1465.5,1904.6 1471.2,1904.2 1476.8,1903.7 1482.4,1903.1 1488.1,1902.5 1493.7,1901.8 1499.4,1901 1505,1900.2 1510.6,1899.3 1516.3,1898.3 1521.9,1897.3 1527.6,1896.2 1533.2,1895.1 1538.8,1893.9 1544.5,1892.7 1550.1,1891.4 1555.8,1890.1 1561.4,1888.8 1567,1887.4 1572.7,1886 1578.3,1884.5 1584,1883 1589.6,1881.5 1595.2,1880 1600.9,1878.5 1606.5,1877 1612.2,1875.5 1617.8,1873.9 1623.4,1872.5 1629.1,1871 1634.7,1869.6 1640.4,1868.2 1646,1866.8 1651.6,1865.5 1657.3,1864.3 1662.9,1863.1 1668.6,1862 1674.2,1861 1679.8,1860 1685.5,1859.2 1691.1,1858.4 1696.8,1857.7 1702.4,1857.2 1708,1856.7 1713.7,1856.3 1719.3,1856.1 1725,1855.9 1730.6,1855.8 1736.2,1855.9 1741.9,1856 1747.5,1856.2 1753.2,1856.6 1758.8,1856.9 1764.4,1857.4 1770.1,1858 1775.7,1858.6 1781.4,1859.2 1787,1859.9 1792.6,1860.6 1798.3,1861.4 1803.9,1862.2 1809.6,1863 1815.2,1863.8 1820.8,1864.6 1826.5,1865.4 1832.1,1866.2 1837.8,1866.9 1843.4,1867.6 1849,1868.3 1854.7,1869 1860.3,1869.6 1866,1870.2 1871.6,1870.7 1877.2,1871.2 1882.9,1871.6 1888.5,1872 1894.2,1872.4 1899.8,1872.7 1905.4,1872.9 1911.1,1873.2 1916.7,1873.4 1922.4,1873.5 1928,1873.7 1933.6,1873.8 1939.3,1873.9 1944.9,1874 1950.6,1874.1 1956.2,1874.1 1961.8,1874.2 1967.5,1874.3 1973.1,1874.4 1978.8,1874.5 1984.4,1874.7 1990,1874.8 1995.7,1875 2001.3,1875.2 2007,1875.5 2012.6,1875.8 2018.2,1876.1 2023.9,1876.5 2029.5,1877 2035.2,1877.5 2040.8,1878 2046.4,1878.6 2052.1,1879.2 2057.7,1879.9 2063.4,1880.7 2069,1881.5 2074.6,1882.3 2080.3,1883.3 2085.9,1884.2 2091.6,1885.2 2097.2,1886.2 2102.8,1887.3 2108.5,1888.4 2114.1,1889.6 2119.8,1890.8 2125.4,1892 2131,1893.2 2136.7,1894.4 2142.3,1895.7 2148,1896.9 2153.6,1898.2 2159.2,1899.5 2164.9,1900.7 2170.5,1902 2176.2,1903.2 2181.8,1904.4 2187.4,1905.6 2193.1,1906.7 2198.7,1907.9 2204.4,1909 2210,1910 2215.6,1911.1 2221.3,1912 2226.9,1913 2232.6,1913.9 2238.2,1914.8 2243.8,1915.6 2249.5,1916.4 2255.1,1917.1 2260.8,1917.8 2266.4,1918.4 2272,1919 2275.9,1919.4 2275.9,1925.2"/><polyline class="r" points="1115.8,1919.5 1121.5,1919 1127.1,1918.5 1132.8,1918 1138.4,1917.4 1144,1916.8 1149.7,1916.2 1155.3,1915.6 1161,1914.9 1166.6,1914.2 1172.2,1913.6 1177.9,1912.9 1183.5,1912.2 1189.2,1911.5 1194.8,1910.8 1200.4,1910.1 1206.1,1909.4 1211.7,1908.7 1217.4,1908.1 1223,1907.5 1228.6,1906.8 1234.3,1906.3 1239.9,1905.7 1245.6,1905.2 1251.2,1904.7 1256.8,1904.3 1262.5,1903.9 1268.1,1903.5 1273.8,1903.2 1279.4,1902.9 1285,1902.7 1290.7,1902.6 1296.3,1902.5 1302,1902.4 1307.6,1902.4 1313.2,1902.4 1318.9,1902.5 1324.5,1902.6 1330.2,1902.7 1335.8,1902.9 1341.4,1903.1 1347.1,1903.3 1352.7,1903.6 1358.4,1903.8 1364,1904.1 1369.6,1904.4 1375.3,1904.6 1380.9,1904.9 1386.6,1905.1 1392.2,1905.3 1397.8,1905.6 1403.5,1905.7 1409.1,1905.9 1414.8,1906 1420.4,1906 1426,1906.1 1431.7,1906 1437.3,1905.9 1443,1905.8 1448.6,1905.6 1454.2,1905.3 1459.9,1905 1465.5,1904.6 1471.2,1904.2 1476.8,1903.7 1482.4,1903.1 1488.1,1902.5 1493.7,1901.8 1499.4,1901 1505,1900.2 1510.6,1899.3 1516.3,1898.3 1521.9,1897.3 1527.6,1896.2 1533.2,1895.1 1538.8,1893.9 1544.5,1892.7 1550.1,1891.4 1555.8,1890.1 1561.4,1888.8 1567,1887.4 1572.7,1886 1578.3,1884.5 1584,1883 1589.6,1881.5 1595.2,1880 1600.9,1878.5 1606.5,1877 1612.2,1875.5 1617.8,1873.9 1623.4,1872.5 1629.1,1871 1634.7,1869.6 1640.4,1868.2 1646,1866.8 1651.6,1865.5 1657.3,1864.3 1662.9,1863.1 1668.6,1862 1674.2,1861 1679.8,1860 1685.5,1859.2 1691.1,1858.4 1696.8,1857.7 1702.4,1857.2 1708,1856.7 1713.7,1856.3 1719.3,1856.1 1725,1855.9 1730.6,1855.8 1736.2,1855.9 1741.9,1856 1747.5,1856.2 1753.2,1856.6 1758.8,1856.9 1764.4,1857.4 1770.1,1858 1775.7,1858.6 1781.4,1859.2 1787,1859.9 1792.6,1860.6 1798.3,1861.4 1803.9,1862.2 1809.6,1863 1815.2,1863.8 1820.8,1864.6 1826.5,1865.4 1832.1,1866.2 1837.8,1866.9 1843.4,1867.6 1849,1868.3 1854.7,1869 1860.3,1869.6 1866,1870.2 1871.6,1870.7 1877.2,1871.2 1882.9,1871.6 1888.5,1872 1894.2,1872.4 1899.8,1872.7 1905.4,1872.9 1911.1,1873.2 1916.7,1873.4 1922.4,1873.5 1928,1873.7 1933.6,1873.8 1939.3,1873.9 1944.9,1874 1950.6,1874.1 1956.2,1874.1 1961.8,1874.2 1967.5,1874.3 1973.1,1874.4 1978.8,1874.5 1984.4,1874.7 1990,1874.8 1995.7,1875 2001.3,1875.2 2007,1875.5 2012.6,1875.8 2018.2,1876.1 2023.9,1876.5 2029.5,1877 2035.2,1877.5 2040.8,1878 2046.4,1878.6 2052.1,1879.2 2057.7,1879.9 2063.4,1880.7 2069,1881.5 2074.6,1882.3 2080.3,1883.3 2085.9,1884.2 2091.6,1885.2 2097.2,1886.2 2102.8,1887.3 2108.5,1888.4 2114.1,1889.6 2119.8,1890.8 2125.4,1892 2131,1893.2 2136.7,1894.4 2142.3,1895.7 2148,1896.9 2153.6,1898.2 2159.2,1899.5 2164.9,1900.7 2170.5,1902 2176.2,1903.2 2181.8,1904.4 2187.4,1905.6 2193.1,1906.7 2198.7,1907.9 2204.4,1909 2210,1910 2215.6,1911.1 2221.3,1912 2226.9,1913 2232.6,1913.9 2238.2,1914.8 2243.8,1915.6 2249.5,1916.4 2255.1,1917.1 2260.8,1917.8 2266.4,1918.4 2272,1919 2275.9,1919.4"/>
<g><use href="#p" x="1295" y="1933.2"/><use href="#p" x="1295" y="1936.2"/><use href="#p" x="1295" y="1939.2"/><use href="#p" x="1295" y="1942.2"/><use href="#p" x="1295" y="1945.2"/><use href="#p" x="1295" y="1948.2"/><use href="#p" x="1295" y="1951.2"/><use href="#p" x="1295" y="1954.2"/><use href="#p" x="1295" y="1957.2"/><use href="#p" x="1295" y="1960.2"/><use href="#p" x="1295" y="1963.2"/><use href="#p" x="1295" y="1966.2"/><use href="#p" x="1295" y="1969.2"/><use href="#p" x="1295" y="1972.2"/><use href="#p" x="1295" y="1975.2"/><use href="#p" x="1486.9" y="1975.6"/><use href="#p" x="1503.1" y="1945.5"/><use href="#p" x="1527.9" y="1941.8"/><use href="#p" x="1569.7" y="1944.5"/><use href="#p" x="1591.9" y="1969"/><use href="#p" x="1593.5" y="1973.9"/><use href="#p" x="1601.1" y="1946.8"/><use href="#p" x="1616.7" y="1975.6"/><use href="#p" x="1621.7" y="1936.5"/><use href="#p" x="1621.7" y="1944.1"/><use href="#p" x="1624" y="1970.6"/><use href="#p" x="1625" y="1937.5"/><use href="#p" x="1634.9" y="1939.2"/><use href="#p" x="1636.6" y="1957.4"/><use href="#p" x="1643.9" y="1945.8"/><use href="#p" x="1655.8" y="1952.4"/><use href="#p" x="1655.8" y="1974.6"/><use href="#p" x="1663.1" y="1942.5"/><use href="#p" x="1668.1" y="1947.4"/><use href="#p" x="1672" y="1963.3"/><use href="#p" x="1673.7" y="1939.2"/><use href="#p" x="1683" y="1940.8"/><use href="#p" x="1686.3" y="1932.5"/><use href="#p" x="1686.3" y="1942.5"/><use href="#p" x="1696.2" y="1975.6"/><use href="#p" x="1699.5" y="1930.9"/><use href="#p" x="1699.5" y="1974.6"/><use href="#p" x="1706.1" y="1935.8"/><use href="#p" x="1708.8" y="1950.8"/><use href="#p" x="1712.8" y="1934.2"/><use href="#p" x="1714.4" y="1952.4"/><use href="#p" x="1719.4" y="1950.8"/><use href="#p" x="1721.1" y="1939.2"/><use href="#p" x="1727.7" y="1930.9"/><use href="#p" x="1727.7" y="1970.6"/><use href="#p" x="1725.3" y="1930.9"/><use href="#p" x="1723.7" y="1940.8"/><use href="#p" x="1728.6" y="1970.6"/><use href="#p" x="1731.9" y="1942.5"/><use href="#p" x="1736.9" y="1947.4"/><use href="#p" x="1738.6" y="1955.7"/><use href="#p" x="1743.5" y="1973.9"/><use href="#p" x="1745.2" y="1937.5"/><use href="#p" x="1746.8" y="1947.4"/><use href="#p" x="1750.2" y="1962.3"/><use href="#p" x="1753.5" y="1970.6"/><use href="#p" x="1756.8" y="1930.9"/><use href="#p" x="1761.8" y="1960.7"/><use href="#p" x="1766.7" y="1946.8"/><use href="#p" x="1775" y="1930.9"/><use href="#p" x="1776.7" y="1939.2"/><use href="#p" x="1776.7" y="1949.1"/><use href="#p" x="1780" y="1967.3"/><use href="#p" x="1783.3" y="1969"/><use href="#p" x="1791.6" y="1969"/><use href="#p" x="1798.2" y="1970.6"/><use href="#p" x="1801.5" y="1969.6"/><use href="#p" x="1808.8" y="1954.7"/><use href="#p" x="1809.8" y="1967.3"/><use href="#p" x="1829.7" y="1947.4"/><use href="#p" x="1858.8" y="1972.3"/><use href="#p" x="1865.8" y="1948.8"/><use href="#p" x="1890.9" y="1962.7"/><use href="#p" x="1900.9" y="1970"/><use href="#p" x="1906.5" y="1943.5"/><use href="#p" x="1914.1" y="1952.7"/><use href="#p" x="1921.8" y="1965.7"/><use href="#p" x="1930.7" y="1969.6"/><use href="#p" x="1967.1" y="1964"/><use href="#p" x="1972.8" y="1940.8"/><use href="#p" x="1973.8" y="1947.4"/><use href="#p" x="1975.4" y="1965"/><use href="#p" x="1979.7" y="1974.9"/><use href="#p" x="1983.7" y="1940.8"/><use href="#p" x="1995.3" y="1950.8"/><use href="#p" x="1997.9" y="1939.8"/><use href="#p" x="2001.9" y="1951.7"/><use href="#p" x="2012.8" y="1936.8"/><use href="#p" x="2016.8" y="1966.7"/><use href="#p" x="2031.7" y="1943.5"/><use href="#p" x="2031.7" y="1972.3"/><use href="#p" x="2039.3" y="1967.3"/><use href="#p" x="2042.7" y="1931.5"/><use href="#p" x="2044" y="1948.1"/><use href="#p" x="2048.3" y="1950.8"/><use href="#p" x="2051.6" y="1932.5"/><use href="#p" x="2053.3" y="1934.2"/><use href="#p" x="2058.2" y="1965.7"/><use href="#p" x="2059.9" y="1950.8"/><use href="#p" x="2066.5" y="1966.3"/><use href="#p" x="2069.8" y="1959"/><use href="#p" x="2071.5" y="1967.3"/><use href="#p" x="2074.8" y="1969.6"/><use href="#p" x="2081.4" y="1972.3"/><use href="#p" x="2089.7" y="1965"/><use href="#p" x="2093.7" y="1939.8"/><use href="#p" x="2100.6" y="1957.7"/><use href="#p" x="2106.3" y="1937.8"/><use href="#p" x="2140.1" y="1965.7"/></g>
<polygon class="f" fill="#E88526" points="1106.6,2042.1 1106.6,2036.7 1112.2,2036.2 1117.8,2035.7 1123.5,2035.2 1129.1,2034.6 1134.8,2034 1140.4,2033.3 1146,2032.7 1151.7,2032 1157.3,2031.3 1163,2030.5 1168.6,2029.8 1174.2,2029.1 1179.9,2028.3 1185.5,2027.5 1191.2,2026.8 1196.8,2026 1202.4,2025.3 1208.1,2024.5 1213.7,2023.8 1219.4,2023.1 1225,2022.4 1230.6,2021.8 1236.3,2021.2 1241.9,2020.6 1247.6,2020.1 1253.2,2019.6 1258.8,2019.1 1264.5,2018.8 1270.1,2018.4 1275.8,2018.2 1281.4,2018 1287,2017.8 1292.7,2017.7 1298.3,2017.7 1304,2017.7 1309.6,2017.8 1315.2,2017.9 1320.9,2018.1 1326.5,2018.4 1332.2,2018.7 1337.8,2019 1343.4,2019.4 1349.1,2019.8 1354.7,2020.3 1360.4,2020.7 1366,2021.2 1371.6,2021.7 1377.3,2022.2 1382.9,2022.7 1388.6,2023.1 1394.2,2023.6 1399.8,2024.1 1405.5,2024.5 1411.1,2024.8 1416.8,2025.2 1422.4,2025.5 1428,2025.7 1433.7,2025.9 1439.3,2026 1445,2026.1 1450.6,2026.1 1456.2,2026 1461.9,2025.9 1467.5,2025.6 1473.2,2025.4 1478.8,2025 1484.4,2024.5 1490.1,2024 1495.7,2023.4 1501.4,2022.8 1507,2022.1 1512.6,2021.3 1518.3,2020.4 1523.9,2019.5 1529.6,2018.6 1535.2,2017.6 1540.8,2016.5 1546.5,2015.4 1552.1,2014.3 1557.8,2013.2 1563.4,2012 1569,2010.9 1574.7,2009.7 1580.3,2008.6 1586,2007.4 1591.6,2006.3 1597.2,2005.2 1602.9,2004.1 1608.5,2003.1 1614.2,2002.1 1619.8,2001.1 1625.4,2000.2 1631.1,1999.3 1636.7,1998.5 1642.4,1997.7 1648,1997 1653.6,1996.4 1659.3,1995.8 1664.9,1995.3 1670.6,1994.8 1676.2,1994.3 1681.8,1994 1687.5,1993.6 1693.1,1993.3 1698.8,1993.1 1704.4,1992.9 1710,1992.7 1715.7,1992.5 1721.3,1992.3 1727,1992.2 1732.6,1992.1 1738.2,1991.9 1743.9,1991.8 1749.5,1991.6 1755.2,1991.5 1760.8,1991.3 1766.4,1991 1772.1,1990.8 1777.7,1990.5 1783.4,1990.1 1789,1989.8 1794.6,1989.4 1800.3,1988.9 1805.9,1988.4 1811.6,1987.8 1817.2,1987.2 1822.8,1986.5 1828.5,1985.8 1834.1,1985.1 1839.8,1984.3 1845.4,1983.5 1851,1982.7 1856.7,1981.8 1862.3,1981 1868,1980.1 1873.6,1979.2 1879.2,1978.3 1884.9,1977.4 1890.5,1976.6 1896.2,1975.8 1901.8,1975 1907.4,1974.2 1913.1,1973.5 1918.7,1972.8 1924.4,1972.3 1930,1971.7 1935.6,1971.3 1941.3,1970.9 1946.9,1970.6 1952.6,1970.4 1958.2,1970.3 1963.8,1970.2 1969.5,1970.3 1975.1,1970.4 1980.8,1970.7 1986.4,1971.1 1992,1971.5 1997.7,1972.1 2003.3,1972.7 2009,1973.4 2014.6,1974.3 2020.2,1975.2 2025.9,1976.2 2031.5,1977.3 2037.2,1978.4 2042.8,1979.7 2048.4,1981 2054.1,1982.4 2059.7,1983.8 2065.4,1985.3 2071,1986.9 2076.6,1988.4 2082.3,1990.1 2087.9,1991.7 2093.6,1993.4 2099.2,1995.2 2104.8,1996.9 2110.5,1998.6 2116.1,2000.4 2121.8,2002.1 2127.4,2003.9 2133,2005.6 2138.7,2007.4 2144.3,2009.1 2150,2010.7 2155.6,2012.4 2161.2,2014 2166.9,2015.6 2172.5,2017.2 2178.2,2018.7 2183.8,2020.1 2189.4,2021.5 2195.1,2022.9 2200.7,2024.2 2206.4,2025.5 2212,2026.7 2217.6,2027.8 2223.3,2028.9 2228.9,2029.9 2234.6,2030.9 2240.2,2031.8 2245.8,2032.7 2251.5,2033.5 2257.1,2034.3 2262.8,2035 2268.4,2035.7 2272.6,2036.1 2272.6,2042.1"/><polyline class="r" points="1106.6,2036.7 1112.2,2036.2 1117.8,2035.7 1123.5,2035.2 1129.1,2034.6 1134.8,2034 1140.4,2033.3 1146,2032.7 1151.7,2032 1157.3,2031.3 1163,2030.5 1168.6,2029.8 1174.2,2029.1 1179.9,2028.3 1185.5,2027.5 1191.2,2026.8 1196.8,2026 1202.4,2025.3 1208.1,2024.5 1213.7,2023.8 1219.4,2023.1 1225,2022.4 1230.6,2021.8 1236.3,2021.2 1241.9,2020.6 1247.6,2020.1 1253.2,2019.6 1258.8,2019.1 1264.5,2018.8 1270.1,2018.4 1275.8,2018.2 1281.4,2018 1287,2017.8 1292.7,2017.7 1298.3,2017.7 1304,2017.7 1309.6,2017.8 1315.2,2017.9 1320.9,2018.1 1326.5,2018.4 1332.2,2018.7 1337.8,2019 1343.4,2019.4 1349.1,2019.8 1354.7,2020.3 1360.4,2020.7 1366,2021.2 1371.6,2021.7 1377.3,2022.2 1382.9,2022.7 1388.6,2023.1 1394.2,2023.6 1399.8,2024.1 1405.5,2024.5 1411.1,2024.8 1416.8,2025.2 1422.4,2025.5 1428,2025.7 1433.7,2025.9 1439.3,2026 1445,2026.1 1450.6,2026.1 1456.2,2026 1461.9,2025.9 1467.5,2025.6 1473.2,2025.4 1478.8,2025 1484.4,2024.5 1490.1,2024 1495.7,2023.4 1501.4,2022.8 1507,2022.1 1512.6,2021.3 1518.3,2020.4 1523.9,2019.5 1529.6,2018.6 1535.2,2017.6 1540.8,2016.5 1546.5,2015.4 1552.1,2014.3 1557.8,2013.2 1563.4,2012 1569,2010.9 1574.7,2009.7 1580.3,2008.6 1586,2007.4 1591.6,2006.3 1597.2,2005.2 1602.9,2004.1 1608.5,2003.1 1614.2,2002.1 1619.8,2001.1 1625.4,2000.2 1631.1,1999.3 1636.7,1998.5 1642.4,1997.7 1648,1997 1653.6,1996.4 1659.3,1995.8 1664.9,1995.3 1670.6,1994.8 1676.2,1994.3 1681.8,1994 1687.5,1993.6 1693.1,1993.3 1698.8,1993.1 1704.4,1992.9 1710,1992.7 1715.7,1992.5 1721.3,1992.3 1727,1992.2 1732.6,1992.1 1738.2,1991.9 1743.9,1991.8 1749.5,1991.6 1755.2,1991.5 1760.8,1991.3 1766.4,1991 1772.1,1990.8 1777.7,1990.5 1783.4,1990.1 1789,1989.8 1794.6,1989.4 1800.3,1988.9 1805.9,1988.4 1811.6,1987.8 1817.2,1987.2 1822.8,1986.5 1828.5,1985.8 1834.1,1985.1 1839.8,1984.3 1845.4,1983.5 1851,1982.7 1856.7,1981.8 1862.3,1981 1868,1980.1 1873.6,1979.2 1879.2,1978.3 1884.9,1977.4 1890.5,1976.6 1896.2,1975.8 1901.8,1975 1907.4,1974.2 1913.1,1973.5 1918.7,1972.8 1924.4,1972.3 1930,1971.7 1935.6,1971.3 1941.3,1970.9 1946.9,1970.6 1952.6,1970.4 1958.2,1970.3 1963.8,1970.2 1969.5,1970.3 1975.1,1970.4 1980.8,1970.7 1986.4,1971.1 1992,1971.5 1997.7,1972.1 2003.3,1972.7 2009,1973.4 2014.6,1974.3 2020.2,1975.2 2025.9,1976.2 2031.5,1977.3 2037.2,1978.4 2042.8,1979.7 2048.4,1981 2054.1,1982.4 2059.7,1983.8 2065.4,1985.3 2071,1986.9 2076.6,1988.4 2082.3,1990.1 2087.9,1991.7 2093.6,1993.4 2099.2,1995.2 2104.8,1996.9 2110.5,1998.6 2116.1,2000.4 2121.8,2002.1 2127.4,2003.9 2133,2005.6 2138.7,2007.4 2144.3,2009.1 2150,2010.7 2155.6,2012.4 2161.2,2014 2166.9,2015.6 2172.5,2017.2 2178.2,2018.7 2183.8,2020.1 2189.4,2021.5 2195.1,2022.9 2200.7,2024.2 2206.4,2025.5 2212,2026.7 2217.6,2027.8 2223.3,2028.9 2228.9,2029.9 2234.6,2030.9 2240.2,2031.8 2245.8,2032.7 2251.5,2033.5 2257.1,2034.3 2262.8,2035 2268.4,2035.7 2272.6,2036.1"/>
<g><use href="#p" x="1295" y="2073.1"/><use href="#p" x="1295" y="2091.1"/><use href="#p" x="1295" y="2091.9"/><use href="#p" x="1621" y="2091.9"/><use href="#p" x="1644.9" y="2051.9"/><use href="#p" x="1664.1" y="2091.9"/><use href="#p" x="1669.7" y="2063.8"/><use href="#p" x="1701.2" y="2049.5"/><use href="#p" x="1790.9" y="2057.8"/><use href="#p" x="1897.6" y="2083.3"/><use href="#p" x="1914.1" y="2084.3"/><use href="#p" x="1920.8" y="2086"/><use href="#p" x="1926.4" y="2093.6"/><use href="#p" x="1974.8" y="2055.8"/><use href="#p" x="1976.7" y="2077"/><use href="#p" x="2019.8" y="2062.8"/><use href="#p" x="2019.8" y="2091.9"/><use href="#p" x="2080.8" y="2078.7"/><use href="#p" x="2093" y="2089.3"/></g>
<polygon class="f" fill="#F8766D" points="1150.6,2159.1 1150.6,2153.8 1156.3,2153.4 1161.9,2153 1167.5,2152.6 1173.2,2152.2 1178.8,2151.8 1184.5,2151.4 1190.1,2151 1195.7,2150.6 1201.4,2150.2 1207,2149.7 1212.7,2149.3 1218.3,2148.9 1223.9,2148.5 1229.6,2148.2 1235.2,2147.8 1240.9,2147.5 1246.5,2147.1 1252.1,2146.8 1257.8,2146.6 1263.4,2146.3 1269.1,2146.1 1274.7,2145.9 1280.3,2145.7 1286,2145.6 1291.6,2145.5 1297.3,2145.4 1302.9,2145.3 1308.5,2145.3 1314.2,2145.3 1319.8,2145.4 1325.5,2145.4 1331.1,2145.5 1336.7,2145.6 1342.4,2145.7 1348,2145.9 1353.7,2146.1 1359.3,2146.2 1364.9,2146.4 1370.6,2146.6 1376.2,2146.8 1381.9,2147 1387.5,2147.2 1393.1,2147.4 1398.8,2147.6 1404.4,2147.8 1410.1,2147.9 1415.7,2148.1 1421.3,2148.2 1427,2148.3 1432.6,2148.4 1438.3,2148.4 1443.9,2148.4 1449.5,2148.4 1455.2,2148.3 1460.8,2148.2 1466.5,2148.1 1472.1,2147.9 1477.7,2147.7 1483.4,2147.5 1489,2147.2 1494.7,2146.9 1500.3,2146.5 1505.9,2146.1 1511.6,2145.7 1517.2,2145.2 1522.9,2144.7 1528.5,2144.1 1534.1,2143.5 1539.8,2142.9 1545.4,2142.2 1551.1,2141.6 1556.7,2140.8 1562.3,2140.1 1568,2139.3 1573.6,2138.5 1579.3,2137.7 1584.9,2136.8 1590.5,2136 1596.2,2135.1 1601.8,2134.2 1607.5,2133.2 1613.1,2132.3 1618.7,2131.3 1624.4,2130.4 1630,2129.4 1635.7,2128.4 1641.3,2127.4 1646.9,2126.4 1652.6,2125.4 1658.2,2124.4 1663.9,2123.5 1669.5,2122.5 1675.1,2121.5 1680.8,2120.6 1686.4,2119.7 1692.1,2118.8 1697.7,2117.9 1703.3,2117 1709,2116.2 1714.6,2115.4 1720.3,2114.7 1725.9,2114 1731.5,2113.3 1737.2,2112.7 1742.8,2112.1 1748.5,2111.6 1754.1,2111.1 1759.7,2110.6 1765.4,2110.2 1771,2109.9 1776.7,2109.6 1782.3,2109.3 1787.9,2109.1 1793.6,2108.9 1799.2,2108.7 1804.9,2108.6 1810.5,2108.5 1816.1,2108.4 1821.8,2108.4 1827.4,2108.3 1833.1,2108.3 1838.7,2108.2 1844.3,2108.2 1850,2108.2 1855.6,2108.1 1861.3,2108.1 1866.9,2108 1872.5,2107.9 1878.2,2107.8 1883.8,2107.7 1889.5,2107.6 1895.1,2107.4 1900.7,2107.2 1906.4,2107 1912,2106.7 1917.7,2106.4 1923.3,2106.1 1928.9,2105.7 1934.6,2105.4 1940.2,2105 1945.9,2104.5 1951.5,2104.1 1957.1,2103.6 1962.8,2103.1 1968.4,2102.5 1974.1,2102 1979.7,2101.4 1985.3,2100.8 1991,2100.2 1996.6,2099.6 2002.3,2099 2007.9,2098.4 2013.5,2097.8 2019.2,2097.2 2024.8,2096.5 2030.5,2095.9 2036.1,2095.3 2041.7,2094.8 2047.4,2094.2 2053,2093.7 2058.7,2093.2 2064.3,2092.7 2069.9,2092.3 2075.6,2091.9 2081.2,2091.6 2086.9,2091.3 2092.5,2091.1 2098.1,2091 2103.8,2090.9 2109.4,2090.9 2115.1,2091.1 2120.7,2091.3 2126.3,2091.5 2132,2091.9 2137.6,2092.4 2143.3,2093 2148.9,2093.7 2154.5,2094.5 2160.2,2095.4 2165.8,2096.4 2171.5,2097.5 2177.1,2098.6 2182.7,2099.9 2188.4,2101.3 2194,2102.7 2199.7,2104.2 2205.3,2105.8 2210.9,2107.5 2216.6,2109.2 2222.2,2110.9 2227.9,2112.7 2233.5,2114.5 2239.1,2116.4 2244.8,2118.2 2250.4,2120.1 2256.1,2122 2261.7,2123.8 2267.3,2125.7 2273,2127.5 2278.6,2129.2 2284.3,2131 2289.9,2132.7 2295.5,2134.3 2301.2,2135.9 2306.8,2137.5 2312.5,2139 2318.1,2140.4 2323.7,2141.8 2329.4,2143.1 2335,2144.3 2340.1,2145.3 2340.1,2159.1"/><polyline class="r" points="1150.6,2153.8 1156.3,2153.4 1161.9,2153 1167.5,2152.6 1173.2,2152.2 1178.8,2151.8 1184.5,2151.4 1190.1,2151 1195.7,2150.6 1201.4,2150.2 1207,2149.7 1212.7,2149.3 1218.3,2148.9 1223.9,2148.5 1229.6,2148.2 1235.2,2147.8 1240.9,2147.5 1246.5,2147.1 1252.1,2146.8 1257.8,2146.6 1263.4,2146.3 1269.1,2146.1 1274.7,2145.9 1280.3,2145.7 1286,2145.6 1291.6,2145.5 1297.3,2145.4 1302.9,2145.3 1308.5,2145.3 1314.2,2145.3 1319.8,2145.4 1325.5,2145.4 1331.1,2145.5 1336.7,2145.6 1342.4,2145.7 1348,2145.9 1353.7,2146.1 1359.3,2146.2 1364.9,2146.4 1370.6,2146.6 1376.2,2146.8 1381.9,2147 1387.5,2147.2 1393.1,2147.4 1398.8,2147.6 1404.4,2147.8 1410.1,2147.9 1415.7,2148.1 1421.3,2148.2 1427,2148.3 1432.6,2148.4 1438.3,2148.4 1443.9,2148.4 1449.5,2148.4 1455.2,2148.3 1460.8,2148.2 1466.5,2148.1 1472.1,2147.9 1477.7,2147.7 1483.4,2147.5 1489,2147.2 1494.7,2146.9 1500.3,2146.5 1505.9,2146.1 1511.6,2145.7 1517.2,2145.2 1522.9,2144.7 1528.5,2144.1 1534.1,2143.5 1539.8,2142.9 1545.4,2142.2 1551.1,2141.6 1556.7,2140.8 1562.3,2140.1 1568,2139.3 1573.6,2138.5 1579.3,2137.7 1584.9,2136.8 1590.5,2136 1596.2,2135.1 1601.8,2134.2 1607.5,2133.2 1613.1,2132.3 1618.7,2131.3 1624.4,2130.4 1630,2129.4 1635.7,2128.4 1641.3,2127.4 1646.9,2126.4 1652.6,2125.4 1658.2,2124.4 1663.9,2123.5 1669.5,2122.5 1675.1,2121.5 1680.8,2120.6 1686.4,2119.7 1692.1,2118.8 1697.7,2117.9 1703.3,2117 1709,2116.2 1714.6,2115.4 1720.3,2114.7 1725.9,2114 1731.5,2113.3 1737.2,2112.7 1742.8,2112.1 1748.5,2111.6 1754.1,2111.1 1759.7,2110.6 1765.4,2110.2 1771,2109.9 1776.7,2109.6 1782.3,2109.3 1787.9,2109.1 1793.6,2108.9 1799.2,2108.7 1804.9,2108.6 1810.5,2108.5 1816.1,2108.4 1821.8,2108.4 1827.4,2108.3 1833.1,2108.3 1838.7,2108.2 1844.3,2108.2 1850,2108.2 1855.6,2108.1 1861.3,2108.1 1866.9,2108 1872.5,2107.9 1878.2,2107.8 1883.8,2107.7 1889.5,2107.6 1895.1,2107.4 1900.7,2107.2 1906.4,2107 1912,2106.7 1917.7,2106.4 1923.3,2106.1 1928.9,2105.7 1934.6,2105.4 1940.2,2105 1945.9,2104.5 1951.5,2104.1 1957.1,2103.6 1962.8,2103.1 1968.4,2102.5 1974.1,2102 1979.7,2101.4 1985.3,2100.8 1991,2100.2 1996.6,2099.6 2002.3,2099 2007.9,2098.4 2013.5,2097.8 2019.2,2097.2 2024.8,2096.5 2030.5,2095.9 2036.1,2095.3 2041.7,2094.8 2047.4,2094.2 2053,2093.7 2058.7,2093.2 2064.3,2092.7 2069.9,2092.3 2075.6,2091.9 2081.2,2091.6 2086.9,2091.3 2092.5,2091.1 2098.1,2091 2103.8,2090.9 2109.4,2090.9 2115.1,2091.1 2120.7,2091.3 2126.3,2091.5 2132,2091.9 2137.6,2092.4 2143.3,2093 2148.9,2093.7 2154.5,2094.5 2160.2,2095.4 2165.8,2096.4 2171.5,2097.5 2177.1,2098.6 2182.7,2099.9 2188.4,2101.3 2194,2102.7 2199.7,2104.2 2205.3,2105.8 2210.9,2107.5 2216.6,2109.2 2222.2,2110.9 2227.9,2112.7 2233.5,2114.5 2239.1,2116.4 2244.8,2118.2 2250.4,2120.1 2256.1,2122 2261.7,2123.8 2267.3,2125.7 2273,2127.5 2278.6,2129.2 2284.3,2131 2289.9,2132.7 2295.5,2134.3 2301.2,2135.9 2306.8,2137.5 2312.5,2139 2318.1,2140.4 2323.7,2141.8 2329.4,2143.1 2335,2144.3 2340.1,2145.3"/>
<g><use href="#p" x="1295" y="2167.1"/><use href="#p" x="1295" y="2168.7"/><use href="#p" x="1295" y="2170.3"/><use href="#p" x="1295" y="2171.9"/><use href="#p" x="1295" y="2173.5"/><use href="#p" x="1295" y="2175.1"/><use href="#p" x="1295" y="2176.8"/><use href="#p" x="1295" y="2178.4"/><use href="#p" x="1295" y="2180"/><use href="#p" x="1295" y="2181.6"/><use href="#p" x="1295" y="2183.2"/><use href="#p" x="1295" y="2184.9"/><use href="#p" x="1295" y="2186.5"/><use href="#p" x="1295" y="2188.1"/><use href="#p" x="1295" y="2189.7"/><use href="#p" x="1295" y="2191.3"/><use href="#p" x="1295" y="2193"/><use href="#p" x="1295" y="2194.6"/><use href="#p" x="1295" y="2196.2"/><use href="#p" x="1295" y="2197.8"/><use href="#p" x="1295" y="2199.4"/><use href="#p" x="1295" y="2201.1"/><use href="#p" x="1295" y="2210.6"/><use href="#p" x="1822.7" y="2201.1"/><use href="#p" x="1813.6" y="2173.6"/><use href="#p" x="1772.1" y="2196.3"/><use href="#p" x="1781.7" y="2198.9"/><use href="#p" x="1745.8" y="2206.3"/><use href="#p" x="1788.1" y="2193.7"/><use href="#p" x="1787.5" y="2186.3"/><use href="#p" x="1726.4" y="2174.2"/><use href="#p" x="1776.3" y="2170.6"/><use href="#p" x="1788.5" y="2175.3"/><use href="#p" x="1798" y="2184.7"/><use href="#p" x="1795.1" y="2178.4"/><use href="#p" x="1738.3" y="2195.9"/><use href="#p" x="1813" y="2176.2"/><use href="#p" x="1729" y="2204.8"/><use href="#p" x="1805.3" y="2200.4"/><use href="#p" x="1809.3" y="2185.2"/><use href="#p" x="1826.4" y="2202.2"/><use href="#p" x="1805.6" y="2208"/><use href="#p" x="1821.8" y="2191.6"/><use href="#p" x="1731.1" y="2192.7"/><use href="#p" x="1777.9" y="2167.8"/><use href="#p" x="1758.5" y="2202.7"/><use href="#p" x="1791.7" y="2207.5"/><use href="#p" x="1805.6" y="2175.1"/><use href="#p" x="1801.1" y="2169.1"/><use href="#p" x="1817.7" y="2179.9"/><use href="#p" x="1828.6" y="2169.1"/><use href="#p" x="1804.2" y="2171.5"/><use href="#p" x="1817" y="2202.6"/><use href="#p" x="1779.7" y="2191.5"/><use href="#p" x="1748.5" y="2182.9"/><use href="#p" x="1740.9" y="2184.2"/><use href="#p" x="1739.8" y="2194.6"/><use href="#p" x="1777.6" y="2182.5"/><use href="#p" x="1762" y="2208.5"/><use href="#p" x="1928.9" y="2209.6"/><use href="#p" x="1868.9" y="2170.6"/><use href="#p" x="1848.4" y="2204.5"/><use href="#p" x="1867.7" y="2173.4"/><use href="#p" x="1929.7" y="2176.8"/><use href="#p" x="1889.2" y="2185"/><use href="#p" x="1845.8" y="2183.2"/><use href="#p" x="1912.6" y="2190.7"/><use href="#p" x="1919.7" y="2167.7"/><use href="#p" x="1842.7" y="2185.8"/><use href="#p" x="1897.6" y="2184.9"/><use href="#p" x="1860" y="2202.5"/><use href="#p" x="1919.2" y="2195.3"/><use href="#p" x="1845.2" y="2199.3"/><use href="#p" x="1894" y="2199"/><use href="#p" x="1907.2" y="2191.6"/><use href="#p" x="1871.1" y="2203.5"/><use href="#p" x="1926.6" y="2208.4"/><use href="#p" x="1862.8" y="2176.2"/><use href="#p" x="1851.4" y="2196.7"/><use href="#p" x="1930.6" y="2177.4"/><use href="#p" x="1877.8" y="2190.8"/><use href="#p" x="1874.4" y="2190.9"/><use href="#p" x="1869.7" y="2192.6"/><use href="#p" x="1932" y="2200.3"/><use href="#p" x="1930.5" y="2185.4"/><use href="#p" x="1847" y="2175.8"/><use href="#p" x="1855.4" y="2200.5"/><use href="#p" x="1854.6" y="2191.5"/><use href="#p" x="2008" y="2185.4"/><use href="#p" x="1953.1" y="2205.7"/><use href="#p" x="2012.2" y="2170"/><use href="#p" x="1999.7" y="2209.4"/><use href="#p" x="1957.9" y="2182.6"/><use href="#p" x="1949.5" y="2176.5"/><use href="#p" x="1995.5" y="2186.3"/><use href="#p" x="1958.9" y="2182.9"/><use href="#p" x="2006.5" y="2210.4"/><use href="#p" x="1959.7" y="2178.7"/><use href="#p" x="1955.7" y="2201.2"/><use href="#p" x="2006.6" y="2175.4"/><use href="#p" x="1942.6" y="2181.5"/><use href="#p" x="2000.3" y="2203.9"/><use href="#p" x="2009.8" y="2185.3"/><use href="#p" x="1937.7" y="2169"/><use href="#p" x="1998.4" y="2183.4"/><use href="#p" x="1947.8" y="2179.3"/><use href="#p" x="1942.3" y="2206.9"/><use href="#p" x="1968.5" y="2189"/><use href="#p" x="1950.2" y="2189.8"/><use href="#p" x="2034.9" y="2207.9"/><use href="#p" x="2085.6" y="2198.3"/><use href="#p" x="2060.6" y="2198.8"/><use href="#p" x="2020.8" y="2182.8"/><use href="#p" x="2086.9" y="2201.5"/><use href="#p" x="2040" y="2183.8"/><use href="#p" x="2025.4" y="2167.1"/><use href="#p" x="2092.6" y="2175.1"/><use href="#p" x="2080.2" y="2174.8"/><use href="#p" x="2051.6" y="2190.7"/><use href="#p" x="2029.1" y="2179.3"/><use href="#p" x="2025.4" y="2167.2"/><use href="#p" x="2044.3" y="2203.6"/><use href="#p" x="2032.1" y="2185.9"/><use href="#p" x="2046.4" y="2189.5"/><use href="#p" x="2031.6" y="2169.1"/><use href="#p" x="2041.2" y="2209.6"/><use href="#p" x="2061.9" y="2186.7"/><use href="#p" x="2038.2" y="2198.2"/><use href="#p" x="2026.1" y="2193.7"/><use href="#p" x="2055.2" y="2170"/><use href="#p" x="2055.4" y="2181.8"/><use href="#p" x="2014.7" y="2186.6"/><use href="#p" x="2030.7" y="2171.7"/><use href="#p" x="2070.7" y="2191.1"/><use href="#p" x="2046.2" y="2197.7"/><use href="#p" x="2086.5" y="2183"/><use href="#p" x="2057.5" y="2205.8"/><use href="#p" x="2035.9" y="2186.7"/><use href="#p" x="2140.2" y="2182.7"/><use href="#p" x="2146.8" y="2201.3"/><use href="#p" x="2174.7" y="2185"/><use href="#p" x="2122.1" y="2200.4"/><use href="#p" x="2159.6" y="2179"/><use href="#p" x="2136.4" y="2177.8"/><use href="#p" x="2143.5" y="2176.1"/><use href="#p" x="2103.1" y="2178.6"/><use href="#p" x="2104.5" y="2180.1"/><use href="#p" x="2126.1" y="2180.6"/><use href="#p" x="2179.8" y="2200.3"/><use href="#p" x="2120.1" y="2206.4"/><use href="#p" x="2139.8" y="2167.7"/><use href="#p" x="2138.7" y="2170.7"/><use href="#p" x="2121.3" y="2208.9"/><use href="#p" x="2144.3" y="2209.9"/><use href="#p" x="2136.2" y="2181.6"/><use href="#p" x="2117.2" y="2177.8"/><use href="#p" x="2165.7" y="2192.8"/><use href="#p" x="2173.7" y="2187.9"/><use href="#p" x="2174.5" y="2206.2"/><use href="#p" x="2103.3" y="2196.1"/><use href="#p" x="2103.4" y="2182.4"/><use href="#p" x="2108.1" y="2194.6"/><use href="#p" x="2107.8" y="2170.9"/><use href="#p" x="2162.5" y="2196.6"/><use href="#p" x="2172.4" y="2206.6"/><use href="#p" x="2160.5" y="2203.1"/><use href="#p" x="2122.5" y="2187"/><use href="#p" x="2145.5" y="2184.4"/><use href="#p" x="2138" y="2188"/><use href="#p" x="2143" y="2168.7"/><use href="#p" x="2110" y="2200.6"/><use href="#p" x="2174.1" y="2176.1"/><use href="#p" x="2106.8" y="2177.2"/><use href="#p" x="2175.3" y="2186.3"/><use href="#p" x="2184.3" y="2188.6"/><use href="#p" x="2107.1" y="2200.3"/><use href="#p" x="2107.4" y="2197.3"/><use href="#p" x="2185.8" y="2199.4"/><use href="#p" x="2169.5" y="2185.6"/><use href="#p" x="2102.3" y="2176.9"/><use href="#p" x="2173.5" y="2201.4"/><use href="#p" x="2148.1" y="2175.8"/><use href="#p" x="2216.2" y="2202.7"/><use href="#p" x="2193" y="2206.3"/><use href="#p" x="2191" y="2198.4"/><use href="#p" x="2187.3" y="2204.2"/><use href="#p" x="2205.9" y="2191"/><use href="#p" x="2188.9" y="2196.1"/><use href="#p" x="2248.8" y="2180.2"/><use href="#p" x="2238.8" y="2173.6"/><use href="#p" x="2188.4" y="2196.1"/><use href="#p" x="2203.1" y="2198.1"/><use href="#p" x="2190.2" y="2172.8"/><use href="#p" x="2206" y="2189.6"/><use href="#p" x="2201.2" y="2172.5"/><use href="#p" x="1441.8" y="2185.7"/><use href="#p" x="1447.1" y="2175.8"/><use href="#p" x="1513" y="2201.7"/><use href="#p" x="1600.1" y="2198.7"/><use href="#p" x="1601.8" y="2175.5"/><use href="#p" x="1609.1" y="2202.6"/><use href="#p" x="1618.4" y="2168.9"/><use href="#p" x="1620" y="2171.5"/><use href="#p" x="1631" y="2192.4"/><use href="#p" x="1633.3" y="2174.8"/><use href="#p" x="1638.2" y="2173.2"/><use href="#p" x="1641.6" y="2174.8"/><use href="#p" x="1638.2" y="2183.8"/><use href="#p" x="1650.8" y="2191"/><use href="#p" x="1652.5" y="2175.5"/><use href="#p" x="1664.7" y="2193.4"/><use href="#p" x="1677" y="2192.4"/><use href="#p" x="1685.3" y="2209.9"/><use href="#p" x="1689.6" y="2187.7"/><use href="#p" x="1691.2" y="2198"/><use href="#p" x="1699.5" y="2181.4"/><use href="#p" x="1704.5" y="2176.5"/><use href="#p" x="1708.8" y="2174.8"/><use href="#p" x="1708.8" y="2203"/><use href="#p" x="1714.4" y="2172.5"/><use href="#p" x="1716.1" y="2209.6"/><use href="#p" x="1721.1" y="2169.8"/><use href="#p" x="1726" y="2199.7"/><use href="#p" x="1727.7" y="2168.2"/></g>
</g>
<path d="M1097.0,96.5V2228.95H2338.8" fill="none" stroke="#000" stroke-width="3.8" stroke-linejoin="miter"/>
<path class="t" d="M1086,170.9H1096"/><text class="yl" x="1077.2" y="187.7" letter-spacing="0.215">Type_2_diabetes_[n=248].txt</text>
<path class="t" d="M1086,287.9H1096"/><text class="yl" x="1077.2" y="304.6" letter-spacing="0.212">Type_1_diabetes_[n=58].txt</text>
<path class="t" d="M1086,404.8H1096"/><text class="yl" x="1077.2" y="421.4" letter-spacing="0.177">Rheumatoid_arthritis_[n=97].txt</text>
<path class="t" d="M1086,521.8H1096"/><text class="yl" x="1077.2" y="538.3" letter-spacing="0.232">Pneumonia_[n=22].txt</text>
<path class="t" d="M1086,638.7H1096"/><text class="yl" x="1077.2" y="655.2" letter-spacing="0.206">Otitis_[n=107].txt</text>
<path class="t" d="M1086,755.6H1096"/><text class="yl" x="1077.2" y="772.0" letter-spacing="0.200">Metabolic_syndrome_[n=50].txt</text>
<path class="t" d="M1086,872.6H1096"/><text class="yl" x="1077.2" y="888.9" letter-spacing="0.206">Melanoma_[n=64].txt</text>
<path class="t" d="M1086,989.5H1096"/><text class="yl" x="1077.2" y="1005.7" letter-spacing="0.143">Inflammatory_bowel_disease_[n=151].txt</text>
<path class="t" d="M1086,1106.5H1096"/><text class="yl" x="1077.2" y="1122.6" letter-spacing="0.183">Infectious_gastroenteritis_[n=20].txt</text>
<path class="t" d="M1086,1223.5H1096"/><text class="yl" x="1077.2" y="1239.5" letter-spacing="0.153">Impaired_glucose_tolerance_[n=49].txt</text>
<path class="t" d="M1086,1340.4H1096"/><text class="yl" x="1077.2" y="1356.3" letter-spacing="0.183">Hypertension_[n=261].txt</text>
<path class="t" d="M1086,1457.4H1096"/><text class="yl" x="1077.2" y="1473.2" letter-spacing="0.181">Hepatitis_B_Virus_[n=99].txt</text>
<path class="t" d="M1086,1574.3H1096"/><text class="yl" x="1077.2" y="1590.1" letter-spacing="0.127">Fatty_liver_[n=166].txt</text>
<path class="t" d="M1086,1691.3H1096"/><text class="yl" x="1077.2" y="1706.9" letter-spacing="0.111">Colorectal_cancer_[n=352].txt</text>
<path class="t" d="M1086,1808.2H1096"/><text class="yl" x="1077.2" y="1823.8" letter-spacing="0.227">Clostridium_difficile_infection_[n=33].txt</text>
<path class="t" d="M1086,1925.2H1096"/><text class="yl" x="1077.2" y="1940.7" letter-spacing="0.180">Cirrhosis_[n=123].txt</text>
<path class="t" d="M1086,2042.1H1096"/><text class="yl" x="1077.2" y="2057.5" letter-spacing="0.143">Binswanger_disease_[n=20].txt</text>
<path class="t" d="M1086,2159.1H1096"/><text class="yl" x="1077.2" y="2174.4" letter-spacing="0.063">Atherosclerotic_cardiovascular_disease_[n=214].txt</text>
<path class="t" d="M1154,2229.95V2239.95"/><text class="xl" x="1154" y="2277.6">-8</text>
<path class="t" d="M1436,2229.95V2239.95"/><text class="xl" x="1436" y="2277.6">-6</text>
<path class="t" d="M1718,2229.95V2239.95"/><text class="xl" x="1718" y="2277.6">-4</text>
<path class="t" d="M2000,2229.95V2239.95"/><text class="xl" x="2000" y="2277.6">-2</text>
<path class="t" d="M2282,2229.95V2239.95"/><text class="xl" x="2282" y="2277.6">0</text>
<text x="1430.9" y="2331" font-size="46" fill="#000" letter-spacing=".41">log10 (Relative Abundance)</text>
</svg>
</body></html>
